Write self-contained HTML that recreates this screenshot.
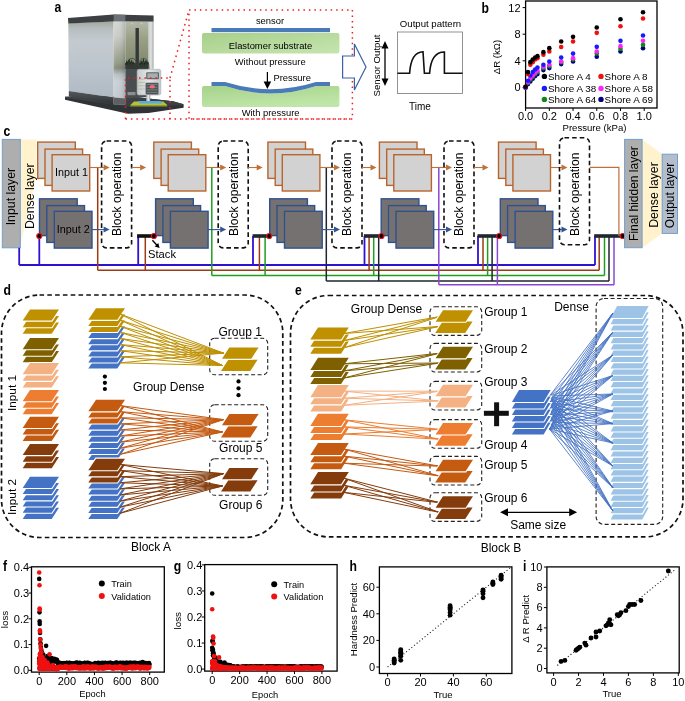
<!DOCTYPE html>
<html><head><meta charset="utf-8"><style>
html,body{margin:0;padding:0;background:#fff;}
svg{display:block;will-change:transform;}
text{font-family:"Liberation Sans",sans-serif;}
</style></head><body>
<svg width="685" height="701" viewBox="0 0 685 701" font-family="Liberation Sans, sans-serif">
<rect width="685" height="701" fill="#fff"/>
<text transform="translate(54.6 11.9) scale(0.86 1)" x="0" y="0" font-size="14.2" font-weight="bold" fill="#000">a</text>
<defs>
<linearGradient id="lf" x1="0" y1="0" x2="0" y2="1"><stop offset="0" stop-color="#a2a79c"/><stop offset="0.1" stop-color="#b8bec0"/><stop offset="0.25" stop-color="#c4cbd0"/><stop offset="0.6" stop-color="#bcc5cd"/><stop offset="1" stop-color="#b0bac4"/></linearGradient>
<linearGradient id="pil" x1="0" y1="0" x2="0" y2="1"><stop offset="0" stop-color="#d0d3d0"/><stop offset="0.18" stop-color="#c6c9c2"/><stop offset="0.5" stop-color="#8e957f"/><stop offset="0.56" stop-color="#7c8470"/><stop offset="0.64" stop-color="#b4bcbe"/><stop offset="0.72" stop-color="#c6ced4"/><stop offset="1" stop-color="#bcc4cc"/></linearGradient>
<linearGradient id="pilv" x1="0" y1="0" x2="1" y2="0"><stop offset="0" stop-color="#fff" stop-opacity="0.15"/><stop offset="0.4" stop-color="#fff" stop-opacity="0.05"/><stop offset="1" stop-color="#223" stop-opacity="0.18"/></linearGradient>
<linearGradient id="rf" x1="0" y1="0" x2="0" y2="1"><stop offset="0" stop-color="#b4b8a8"/><stop offset="0.4" stop-color="#9aa086"/><stop offset="1" stop-color="#80886e"/></linearGradient>
<linearGradient id="pil2" x1="0" y1="0" x2="1" y2="0"><stop offset="0" stop-color="#c8cccc"/><stop offset="0.5" stop-color="#e0e2e2"/><stop offset="1" stop-color="#a4a8a8"/></linearGradient>
<linearGradient id="gsub" x1="0" y1="0" x2="1" y2="1"><stop offset="0" stop-color="#a8cf8a"/><stop offset="1" stop-color="#c6e5b0"/></linearGradient>
<linearGradient id="gsub2" x1="0" y1="0" x2="0.4" y2="1"><stop offset="0" stop-color="#a6d28a"/><stop offset="1" stop-color="#bfe6a8"/></linearGradient>
<linearGradient id="band" x1="0" y1="0" x2="0" y2="1"><stop offset="0" stop-color="#55595b"/><stop offset="1" stop-color="#2e3234"/></linearGradient>
<linearGradient id="gauge" x1="0" y1="0" x2="1" y2="0"><stop offset="0" stop-color="#c6cccc"/><stop offset="0.5" stop-color="#e2e6e6"/><stop offset="1" stop-color="#c2c8c8"/></linearGradient>
<linearGradient id="probe" x1="0" y1="0" x2="1" y2="0"><stop offset="0" stop-color="#9aa0a2"/><stop offset="0.5" stop-color="#eef0f0"/><stop offset="1" stop-color="#8e9496"/></linearGradient>
</defs>
<polygon points="65.00,96.80 126.00,96.00 173.00,101.20 183.60,104.30 183.60,107.80 148.50,113.10 128.00,113.70 65.00,99.80" fill="#2f3336" stroke="none" stroke-width="1"/>
<polygon points="65.00,96.80 126.00,96.00 173.00,101.20 183.60,104.30 181.00,105.20 128.00,106.50 65.00,98.00" fill="#3c4044" stroke="none" stroke-width="1"/>
<polygon points="68.30,23.30 113.60,21.40 113.60,97.60 68.80,91.00" fill="url(#lf)" stroke="none" stroke-width="1"/>
<polygon points="68.80,91.00 113.60,97.60 113.60,104.20 68.80,96.60" fill="url(#band)" stroke="none" stroke-width="1"/>
<polygon points="68.00,18.00 113.60,14.60 153.60,15.40 153.60,21.80 113.60,21.40 68.30,23.50" fill="#3c4042" stroke="none" stroke-width="1"/>
<polygon points="113.60,14.60 125.40,14.80 125.40,21.60 113.60,21.40" fill="#6c7276" stroke="none" stroke-width="1"/>
<polygon points="113.60,21.40 125.40,21.60 125.40,104.50 113.60,104.20" fill="url(#pil)" stroke="none" stroke-width="1"/>
<polygon points="113.60,21.40 125.40,21.60 125.40,104.50 113.60,104.20" fill="url(#pilv)" stroke="none" stroke-width="1"/>
<polygon points="113.60,97.60 125.40,98.50 125.40,104.50 113.60,104.20" fill="#5d6163" stroke="none" stroke-width="1"/>
<rect x="125.40" y="21.80" width="23.20" height="42.00" rx="0" fill="url(#rf)" stroke="none" stroke-width="1"/>
<rect x="148.50" y="21.80" width="5.10" height="47.00" rx="0" fill="url(#pil2)" stroke="none" stroke-width="1"/>
<line x1="137.7" y1="22" x2="137.7" y2="60" stroke="#a2a68e" stroke-width="0.4"/>
<circle cx="132.00" cy="23.60" r="0.6" fill="#e0e0e0" stroke="none" stroke-width="1"/>
<circle cx="141.60" cy="23.60" r="0.6" fill="#e0e0e0" stroke="none" stroke-width="1"/>
<rect x="135.50" y="28.00" width="3.40" height="40.00" rx="0" fill="#35383a" stroke="none" stroke-width="1"/>
<polygon points="125.40,63.00 148.50,63.00 148.50,97.00 125.40,98.50" fill="#4a4d4f" stroke="none" stroke-width="1"/>
<rect x="125.40" y="63.00" width="23.10" height="6.00" rx="0" fill="#333a33" stroke="none" stroke-width="1"/>
<path d="M127,69 C126,56 136.5,55 137.5,66 M139,66 C139,55 149.5,56 149,69" fill="none" stroke="#3a3e40" stroke-width="0.7"/>
<path d="M125.6,65 l1.2,-3.5 l1,2.5 l1.3,-4 l1,4 l1.5,-3 l1,3 l1.2,-2 M140,65 l1.2,-3.5 l1,2.5 l1.3,-4 l1,4 l1.5,-3 l1,3 l1.2,-2" fill="none" stroke="#1f2e22" stroke-width="1.1"/>
<rect x="127.50" y="92.00" width="8.00" height="3.20" rx="0" fill="#8a8e90" stroke="none" stroke-width="1"/>
<rect x="137.10" y="69.30" width="23.70" height="25.70" rx="1.8" fill="url(#gauge)" stroke="#a6acac" stroke-width="0.6"/>
<rect x="146.20" y="72.20" width="12.80" height="7.00" rx="1" fill="#5f6668" stroke="none" stroke-width="1"/>
<rect x="147.40" y="73.30" width="10.40" height="4.80" rx="0" fill="#a5aeb0" stroke="none" stroke-width="1"/>
<rect x="145.60" y="82.70" width="12.90" height="11.70" rx="1" fill="#4e5456" stroke="none" stroke-width="1"/>
<line x1="146.5" y1="84.5" x2="157.6" y2="84.5" stroke="#8a9092" stroke-width="0.7"/>
<line x1="146.5" y1="87.2" x2="157.6" y2="87.2" stroke="#8a9092" stroke-width="0.7"/>
<line x1="146.5" y1="89.9" x2="157.6" y2="89.9" stroke="#8a9092" stroke-width="0.7"/>
<line x1="146.5" y1="92.4" x2="157.6" y2="92.4" stroke="#8a9092" stroke-width="0.7"/>
<ellipse cx="152.3" cy="86.8" rx="2.8" ry="1.7" fill="#f06a78"/>
<line x1="137.6" y1="79.2" x2="145" y2="79.2" stroke="#b8bca0" stroke-width="0.8"/>
<line x1="137.6" y1="82.5" x2="145" y2="82.5" stroke="#b8bca0" stroke-width="0.8"/>
<line x1="137.6" y1="85.8" x2="145" y2="85.8" stroke="#b8bca0" stroke-width="0.8"/>
<line x1="137.6" y1="89" x2="145" y2="89" stroke="#b8bca0" stroke-width="0.8"/>
<rect x="146.20" y="95.00" width="4.10" height="6.40" rx="0" fill="url(#probe)" stroke="none" stroke-width="1"/>
<polygon points="134.00,101.40 163.20,101.40 167.20,104.90 130.40,104.90" fill="#b7c13e" stroke="none" stroke-width="1"/>
<polygon points="130.40,104.90 167.20,104.90 167.20,106.60 130.40,106.60" fill="#8f9a2e" stroke="none" stroke-width="1"/>
<polygon points="137.50,101.00 160.00,101.00 163.00,103.60 140.00,103.60" fill="#58ace4" stroke="none" stroke-width="1"/>
<polyline points="125.5,119 125.5,78 170,78 170,119" stroke="#ee1c24" stroke-width="1.5" stroke-dasharray="1.5 3.95" fill="none"/>
<line x1="125.5" y1="119" x2="352" y2="119" stroke="#ee1c24" stroke-width="1.5" stroke-dasharray="1.5 3.95" fill="none"/>
<line x1="170" y1="78" x2="189" y2="10" stroke="#ee1c24" stroke-width="1.5" stroke-dasharray="1.5 3.95" fill="none"/>
<rect x="189" y="10" width="163.4" height="109" stroke="#ee1c24" stroke-width="1.5" stroke-dasharray="1.5 3.95" fill="none"/>
<text x="270" y="24.4" font-size="9.4" text-anchor="middle" fill="#000">sensor</text>
<rect x="211.50" y="28.00" width="118.50" height="4.20" rx="0" fill="#4a7ab8" stroke="none" stroke-width="1"/>
<rect x="202.00" y="33.00" width="137.40" height="20.60" rx="2" fill="url(#gsub)" stroke="none" stroke-width="1"/>
<text x="270.5" y="49" font-size="9.4" text-anchor="middle" fill="#000">Elastomer substrate</text>
<text x="270.2" y="64.6" font-size="9.4" text-anchor="middle" fill="#000">Without pressure</text>
<path d="M204,86 L225,86 Q270.5,101.2 316,86 L337.4,86 Q339.4,86 339.4,88 L339.4,105 Q339.4,107 337.4,107 L204,107 Q202,107 202,105 L202,88 Q202,86 204,86 Z" fill="url(#gsub2)"/>
<path d="M211.5,82 L225,82 Q270.5,96.4 316,82 L330,82 L330,86 L316,86 Q270.5,101.2 225,86 L211.5,86 Z" fill="#4a7ab8"/>
<line x1="267.4" y1="72" x2="267.4" y2="83" stroke="#000" stroke-width="1.2"/>
<polygon points="263.60,81.40 271.20,81.40 267.40,89.10" fill="#000" stroke="none" stroke-width="1"/>
<text x="273.4" y="81" font-size="9.4" text-anchor="start" fill="#000">Pressure</text>
<text x="270.6" y="116.4" font-size="9.4" text-anchor="middle" fill="#000">With pressure</text>
<polygon points="342.60,56.00 354.40,56.00 354.40,44.00 366.00,67.00 354.40,90.00 354.40,78.00 342.60,78.00" fill="#fff" stroke="#3a62a8" stroke-width="1.2"/>
<text x="379.6" y="65.5" font-size="9.6" text-anchor="middle" fill="#000" transform="rotate(-90 379.6 65.5)">Sensor Output</text>
<line x1="385" y1="46" x2="385" y2="81" stroke="#000" stroke-width="1.3"/>
<polygon points="381.50,48.50 388.50,48.50 385.00,41.00" fill="#000" stroke="none" stroke-width="1"/>
<polygon points="381.50,78.50 388.50,78.50 385.00,86.00" fill="#000" stroke="none" stroke-width="1"/>
<rect x="397.40" y="32.00" width="65.20" height="61.40" rx="0" fill="#fff" stroke="#777" stroke-width="0.8"/>
<text x="430.5" y="26.6" font-size="9.6" text-anchor="middle" fill="#000">Output pattern</text>
<text x="420" y="109.6" font-size="10" text-anchor="middle" fill="#000">Time</text>
<path d="M397.4,73.2 L409.6,73.2 C410.5,60 415,52 423,51.8 L424.4,73.2 L429.6,73.2 C430.5,60 435,52 444.4,52 L444.4,73.2 L462.6,73.2" fill="none" stroke="#111" stroke-width="1.6"/>
<text transform="translate(481.6 12.9) scale(0.86 1)" x="0" y="0" font-size="14.2" font-weight="bold" fill="#000">b</text>
<rect x="525.60" y="1.00" width="131.40" height="107.00" rx="0" fill="none" stroke="#000" stroke-width="1.3"/>
<line x1="522.6" y1="87.4" x2="525.6" y2="87.4" stroke="#000" stroke-width="1"/>
<text x="520.6" y="91.4" font-size="11" text-anchor="end" fill="#000">0</text>
<line x1="522.6" y1="60.800000000000004" x2="525.6" y2="60.800000000000004" stroke="#000" stroke-width="1"/>
<text x="520.6" y="64.80000000000001" font-size="11" text-anchor="end" fill="#000">4</text>
<line x1="522.6" y1="34.2" x2="525.6" y2="34.2" stroke="#000" stroke-width="1"/>
<text x="520.6" y="38.2" font-size="11" text-anchor="end" fill="#000">8</text>
<line x1="522.6" y1="7.599999999999994" x2="525.6" y2="7.599999999999994" stroke="#000" stroke-width="1"/>
<text x="520.6" y="11.599999999999994" font-size="11" text-anchor="end" fill="#000">12</text>
<line x1="525.6" y1="108" x2="525.6" y2="111" stroke="#000" stroke-width="1"/>
<text x="525.6" y="120" font-size="11" text-anchor="middle" fill="#000">0.0</text>
<line x1="549.32" y1="108" x2="549.32" y2="111" stroke="#000" stroke-width="1"/>
<text x="549.32" y="120" font-size="11" text-anchor="middle" fill="#000">0.2</text>
<line x1="573.04" y1="108" x2="573.04" y2="111" stroke="#000" stroke-width="1"/>
<text x="573.04" y="120" font-size="11" text-anchor="middle" fill="#000">0.4</text>
<line x1="596.76" y1="108" x2="596.76" y2="111" stroke="#000" stroke-width="1"/>
<text x="596.76" y="120" font-size="11" text-anchor="middle" fill="#000">0.6</text>
<line x1="620.48" y1="108" x2="620.48" y2="111" stroke="#000" stroke-width="1"/>
<text x="620.48" y="120" font-size="11" text-anchor="middle" fill="#000">0.8</text>
<line x1="644.2" y1="108" x2="644.2" y2="111" stroke="#000" stroke-width="1"/>
<text x="644.2" y="120" font-size="11" text-anchor="middle" fill="#000">1.0</text>
<text x="594.5" y="131" font-size="9.6" text-anchor="middle" fill="#000">Pressure (kPa)</text>
<text x="500" y="57" font-size="9.6" text-anchor="middle" fill="#000" transform="rotate(-90 500 57)">&#916;R (k&#937;)</text>
<circle cx="525.60" cy="87.40" r="2.3" fill="#000080" stroke="none" stroke-width="1"/>
<circle cx="527.97" cy="84.08" r="2.3" fill="#000080" stroke="none" stroke-width="1"/>
<circle cx="530.34" cy="81.42" r="2.3" fill="#000080" stroke="none" stroke-width="1"/>
<circle cx="532.72" cy="78.76" r="2.3" fill="#000080" stroke="none" stroke-width="1"/>
<circle cx="535.09" cy="76.09" r="2.3" fill="#000080" stroke="none" stroke-width="1"/>
<circle cx="537.46" cy="74.10" r="2.3" fill="#000080" stroke="none" stroke-width="1"/>
<circle cx="543.39" cy="70.11" r="2.3" fill="#000080" stroke="none" stroke-width="1"/>
<circle cx="549.32" cy="68.12" r="2.3" fill="#000080" stroke="none" stroke-width="1"/>
<circle cx="561.18" cy="64.12" r="2.3" fill="#000080" stroke="none" stroke-width="1"/>
<circle cx="573.04" cy="61.47" r="2.3" fill="#000080" stroke="none" stroke-width="1"/>
<circle cx="596.76" cy="56.81" r="2.3" fill="#000080" stroke="none" stroke-width="1"/>
<circle cx="620.48" cy="51.49" r="2.3" fill="#000080" stroke="none" stroke-width="1"/>
<circle cx="643.01" cy="48.16" r="2.3" fill="#000080" stroke="none" stroke-width="1"/>
<circle cx="525.60" cy="87.40" r="2.3" fill="#118811" stroke="none" stroke-width="1"/>
<circle cx="527.97" cy="82.75" r="2.3" fill="#118811" stroke="none" stroke-width="1"/>
<circle cx="530.34" cy="79.42" r="2.3" fill="#118811" stroke="none" stroke-width="1"/>
<circle cx="532.72" cy="76.76" r="2.3" fill="#118811" stroke="none" stroke-width="1"/>
<circle cx="535.09" cy="74.10" r="2.3" fill="#118811" stroke="none" stroke-width="1"/>
<circle cx="537.46" cy="72.11" r="2.3" fill="#118811" stroke="none" stroke-width="1"/>
<circle cx="543.39" cy="68.12" r="2.3" fill="#118811" stroke="none" stroke-width="1"/>
<circle cx="549.32" cy="66.12" r="2.3" fill="#118811" stroke="none" stroke-width="1"/>
<circle cx="561.18" cy="62.13" r="2.3" fill="#118811" stroke="none" stroke-width="1"/>
<circle cx="573.04" cy="59.47" r="2.3" fill="#118811" stroke="none" stroke-width="1"/>
<circle cx="596.76" cy="53.49" r="2.3" fill="#118811" stroke="none" stroke-width="1"/>
<circle cx="620.48" cy="48.83" r="2.3" fill="#118811" stroke="none" stroke-width="1"/>
<circle cx="643.01" cy="44.84" r="2.3" fill="#118811" stroke="none" stroke-width="1"/>
<circle cx="525.60" cy="87.40" r="2.3" fill="#ff22ff" stroke="none" stroke-width="1"/>
<circle cx="527.97" cy="82.08" r="2.3" fill="#ff22ff" stroke="none" stroke-width="1"/>
<circle cx="530.34" cy="78.09" r="2.3" fill="#ff22ff" stroke="none" stroke-width="1"/>
<circle cx="532.72" cy="75.43" r="2.3" fill="#ff22ff" stroke="none" stroke-width="1"/>
<circle cx="535.09" cy="72.77" r="2.3" fill="#ff22ff" stroke="none" stroke-width="1"/>
<circle cx="537.46" cy="70.78" r="2.3" fill="#ff22ff" stroke="none" stroke-width="1"/>
<circle cx="543.39" cy="66.78" r="2.3" fill="#ff22ff" stroke="none" stroke-width="1"/>
<circle cx="549.32" cy="64.79" r="2.3" fill="#ff22ff" stroke="none" stroke-width="1"/>
<circle cx="561.18" cy="61.47" r="2.3" fill="#ff22ff" stroke="none" stroke-width="1"/>
<circle cx="573.04" cy="58.14" r="2.3" fill="#ff22ff" stroke="none" stroke-width="1"/>
<circle cx="596.76" cy="51.49" r="2.3" fill="#ff22ff" stroke="none" stroke-width="1"/>
<circle cx="620.48" cy="46.17" r="2.3" fill="#ff22ff" stroke="none" stroke-width="1"/>
<circle cx="643.01" cy="40.85" r="2.3" fill="#ff22ff" stroke="none" stroke-width="1"/>
<circle cx="525.60" cy="87.40" r="2.3" fill="#1a1aff" stroke="none" stroke-width="1"/>
<circle cx="527.97" cy="80.75" r="2.3" fill="#1a1aff" stroke="none" stroke-width="1"/>
<circle cx="530.34" cy="75.43" r="2.3" fill="#1a1aff" stroke="none" stroke-width="1"/>
<circle cx="532.72" cy="72.11" r="2.3" fill="#1a1aff" stroke="none" stroke-width="1"/>
<circle cx="535.09" cy="69.45" r="2.3" fill="#1a1aff" stroke="none" stroke-width="1"/>
<circle cx="537.46" cy="67.45" r="2.3" fill="#1a1aff" stroke="none" stroke-width="1"/>
<circle cx="543.39" cy="64.79" r="2.3" fill="#1a1aff" stroke="none" stroke-width="1"/>
<circle cx="549.32" cy="61.47" r="2.3" fill="#1a1aff" stroke="none" stroke-width="1"/>
<circle cx="561.18" cy="57.48" r="2.3" fill="#1a1aff" stroke="none" stroke-width="1"/>
<circle cx="573.04" cy="53.62" r="2.3" fill="#1a1aff" stroke="none" stroke-width="1"/>
<circle cx="596.76" cy="46.84" r="2.3" fill="#1a1aff" stroke="none" stroke-width="1"/>
<circle cx="620.48" cy="40.85" r="2.3" fill="#1a1aff" stroke="none" stroke-width="1"/>
<circle cx="643.01" cy="35.53" r="2.3" fill="#1a1aff" stroke="none" stroke-width="1"/>
<circle cx="525.60" cy="86.73" r="2.3" fill="#ee1111" stroke="none" stroke-width="1"/>
<circle cx="527.97" cy="74.10" r="2.3" fill="#ee1111" stroke="none" stroke-width="1"/>
<circle cx="530.34" cy="64.79" r="2.3" fill="#ee1111" stroke="none" stroke-width="1"/>
<circle cx="532.72" cy="62.13" r="2.3" fill="#ee1111" stroke="none" stroke-width="1"/>
<circle cx="535.09" cy="59.47" r="2.3" fill="#ee1111" stroke="none" stroke-width="1"/>
<circle cx="537.46" cy="58.14" r="2.3" fill="#ee1111" stroke="none" stroke-width="1"/>
<circle cx="543.39" cy="54.82" r="2.3" fill="#ee1111" stroke="none" stroke-width="1"/>
<circle cx="549.32" cy="51.49" r="2.3" fill="#ee1111" stroke="none" stroke-width="1"/>
<circle cx="561.18" cy="47.03" r="2.3" fill="#ee1111" stroke="none" stroke-width="1"/>
<circle cx="573.04" cy="41.52" r="2.3" fill="#ee1111" stroke="none" stroke-width="1"/>
<circle cx="596.76" cy="32.87" r="2.3" fill="#ee1111" stroke="none" stroke-width="1"/>
<circle cx="620.48" cy="26.22" r="2.3" fill="#ee1111" stroke="none" stroke-width="1"/>
<circle cx="643.01" cy="18.57" r="2.3" fill="#ee1111" stroke="none" stroke-width="1"/>
<circle cx="525.60" cy="86.73" r="2.3" fill="#000" stroke="none" stroke-width="1"/>
<circle cx="527.97" cy="72.11" r="2.3" fill="#000" stroke="none" stroke-width="1"/>
<circle cx="530.34" cy="62.13" r="2.3" fill="#000" stroke="none" stroke-width="1"/>
<circle cx="532.72" cy="59.47" r="2.3" fill="#000" stroke="none" stroke-width="1"/>
<circle cx="535.09" cy="57.48" r="2.3" fill="#000" stroke="none" stroke-width="1"/>
<circle cx="537.46" cy="56.15" r="2.3" fill="#000" stroke="none" stroke-width="1"/>
<circle cx="543.39" cy="52.16" r="2.3" fill="#000" stroke="none" stroke-width="1"/>
<circle cx="549.32" cy="48.16" r="2.3" fill="#000" stroke="none" stroke-width="1"/>
<circle cx="561.18" cy="41.52" r="2.3" fill="#000" stroke="none" stroke-width="1"/>
<circle cx="573.04" cy="36.86" r="2.3" fill="#000" stroke="none" stroke-width="1"/>
<circle cx="596.76" cy="27.55" r="2.3" fill="#000" stroke="none" stroke-width="1"/>
<circle cx="620.48" cy="19.24" r="2.3" fill="#000" stroke="none" stroke-width="1"/>
<circle cx="643.01" cy="12.25" r="2.3" fill="#000" stroke="none" stroke-width="1"/>
<circle cx="544.40" cy="76.40" r="2.7" fill="#000" stroke="none" stroke-width="1"/>
<text x="548.0" y="80.0" font-size="9.9" text-anchor="start" fill="#000">Shore A 4</text>
<circle cx="601.00" cy="76.40" r="2.7" fill="#ee1111" stroke="none" stroke-width="1"/>
<text x="604.6" y="80.0" font-size="9.9" text-anchor="start" fill="#000">Shore A 8</text>
<circle cx="544.40" cy="88.40" r="2.7" fill="#1a1aff" stroke="none" stroke-width="1"/>
<text x="548.0" y="92.0" font-size="9.9" text-anchor="start" fill="#000">Shore A 38</text>
<circle cx="601.00" cy="88.40" r="2.7" fill="#ff22ff" stroke="none" stroke-width="1"/>
<text x="604.6" y="92.0" font-size="9.9" text-anchor="start" fill="#000">Shore A 58</text>
<circle cx="544.40" cy="99.40" r="2.7" fill="#118811" stroke="none" stroke-width="1"/>
<text x="548.0" y="103.0" font-size="9.9" text-anchor="start" fill="#000">Shore A 64</text>
<circle cx="601.00" cy="99.40" r="2.7" fill="#000080" stroke="none" stroke-width="1"/>
<text x="604.6" y="103.0" font-size="9.9" text-anchor="start" fill="#000">Shore A 69</text>
<text transform="translate(3.6 135.5) scale(0.86 1)" x="0" y="0" font-size="14.2" font-weight="bold" fill="#000">c</text>
<polygon points="20.50,139.60 36.40,139.60 36.40,176.00 20.50,244.00" fill="#fff2cc" stroke="none" stroke-width="1"/>
<rect x="2.30" y="139.40" width="18.00" height="108.40" rx="0" fill="#aeaeae" stroke="#6fa0d0" stroke-width="1"/>
<text x="14.8" y="196.6" font-size="12.3" text-anchor="middle" fill="#000" transform="rotate(-90 14.8 196.6)">Input layer</text>
<text x="33.6" y="196.2" font-size="12.3" text-anchor="middle" fill="#000" transform="rotate(-90 33.6 196.2)">Dense layer</text>
<line x1="19.2" y1="265" x2="595" y2="265" stroke="#3210d2" stroke-width="1.8"/>
<line x1="97.7" y1="270.2" x2="599.2" y2="270.2" stroke="#9c3a12" stroke-width="1.5"/>
<line x1="211.8" y1="275.5" x2="604.5" y2="275.5" stroke="#1ea01e" stroke-width="1.5"/>
<line x1="326.3" y1="281" x2="609" y2="281" stroke="#1e2530" stroke-width="1.5"/>
<line x1="438.8" y1="284.7" x2="614" y2="284.7" stroke="#8a48d2" stroke-width="1.5"/>
<line x1="97.7" y1="167.5" x2="97.7" y2="270.2" stroke="#9c3a12" stroke-width="1.5"/>
<line x1="211.8" y1="167.5" x2="211.8" y2="275.5" stroke="#1ea01e" stroke-width="1.5"/>
<line x1="326.3" y1="167.5" x2="326.3" y2="281" stroke="#1e2530" stroke-width="1.5"/>
<line x1="438.8" y1="167.5" x2="438.8" y2="284.7" stroke="#8a48d2" stroke-width="1.5"/>
<line x1="19.2" y1="247.8" x2="19.2" y2="265" stroke="#3210d2" stroke-width="1.8"/>
<line x1="39.3" y1="236" x2="39.3" y2="265" stroke="#3210d2" stroke-width="1.8"/>
<line x1="138.2" y1="236" x2="138.2" y2="265" stroke="#3210d2" stroke-width="1.8"/>
<line x1="145.3" y1="236" x2="145.3" y2="270.2" stroke="#9c3a12" stroke-width="1.5"/>
<line x1="253" y1="236" x2="253" y2="265" stroke="#3210d2" stroke-width="1.8"/>
<line x1="259.4" y1="236" x2="259.4" y2="270.2" stroke="#9c3a12" stroke-width="1.5"/>
<line x1="265.1" y1="236" x2="265.1" y2="275.5" stroke="#1ea01e" stroke-width="1.5"/>
<line x1="364.5" y1="236" x2="364.5" y2="265" stroke="#3210d2" stroke-width="1.8"/>
<line x1="369.1" y1="236" x2="369.1" y2="270.2" stroke="#9c3a12" stroke-width="1.5"/>
<line x1="373.7" y1="236" x2="373.7" y2="275.5" stroke="#1ea01e" stroke-width="1.5"/>
<line x1="378.7" y1="236" x2="378.7" y2="281" stroke="#1e2530" stroke-width="1.5"/>
<line x1="478" y1="236" x2="478" y2="265" stroke="#3210d2" stroke-width="1.8"/>
<line x1="483" y1="236" x2="483" y2="270.2" stroke="#9c3a12" stroke-width="1.5"/>
<line x1="487.6" y1="236" x2="487.6" y2="275.5" stroke="#1ea01e" stroke-width="1.5"/>
<line x1="492.1" y1="236" x2="492.1" y2="281" stroke="#1e2530" stroke-width="1.5"/>
<line x1="497.4" y1="236" x2="497.4" y2="284.7" stroke="#8a48d2" stroke-width="1.5"/>
<line x1="595" y1="236" x2="595" y2="265" stroke="#3210d2" stroke-width="1.8"/>
<line x1="599.2" y1="236" x2="599.2" y2="270.2" stroke="#9c3a12" stroke-width="1.5"/>
<line x1="604.5" y1="236" x2="604.5" y2="275.5" stroke="#1ea01e" stroke-width="1.5"/>
<line x1="609" y1="236" x2="609" y2="281" stroke="#1e2530" stroke-width="1.5"/>
<line x1="614" y1="236" x2="614" y2="284.7" stroke="#8a48d2" stroke-width="1.5"/>
<rect x="37.70" y="142.10" width="37.60" height="36.30" rx="0" fill="#d2d2d2" stroke="#b9642c" stroke-width="1.4"/>
<rect x="45.00" y="149.10" width="37.60" height="36.30" rx="0" fill="#d2d2d2" stroke="#b9642c" stroke-width="1.4"/>
<rect x="52.10" y="154.70" width="37.60" height="36.30" rx="0" fill="#d2d2d2" stroke="#b9642c" stroke-width="1.4"/>
<rect x="39.50" y="198.80" width="37.70" height="36.80" rx="0" fill="#767171" stroke="#2f528f" stroke-width="1.4"/>
<rect x="46.80" y="205.60" width="37.70" height="36.80" rx="0" fill="#767171" stroke="#2f528f" stroke-width="1.4"/>
<rect x="54.30" y="211.30" width="37.70" height="36.80" rx="0" fill="#767171" stroke="#2f528f" stroke-width="1.4"/>
<line x1="89.7" y1="167.5" x2="104.1" y2="167.5" stroke="#c0703a" stroke-width="1.1"/>
<polygon points="103.60,164.50 109.60,167.50 103.60,170.50" fill="#c0703a" stroke="none" stroke-width="1"/>
<line x1="92.0" y1="229.6" x2="104.1" y2="229.6" stroke="#2f5597" stroke-width="1.1"/>
<polygon points="103.60,226.60 109.60,229.60 103.60,232.60" fill="#2f5597" stroke="none" stroke-width="1"/>
<rect x="101.60" y="141.00" width="30.00" height="106.90" rx="5" fill="none" stroke="#111" stroke-width="1.6" stroke-dasharray="4.6 3"/>
<text x="121.0" y="194.3" font-size="12.1" text-anchor="middle" fill="#000" transform="rotate(-90 121.0 194.3)">Block operation</text>
<line x1="131.6" y1="167.5" x2="140.6" y2="167.5" stroke="#c0703a" stroke-width="1.1"/>
<polygon points="140.10,164.50 146.10,167.50 140.10,170.50" fill="#c0703a" stroke="none" stroke-width="1"/>
<rect x="153.80" y="142.10" width="37.60" height="36.30" rx="0" fill="#d2d2d2" stroke="#b9642c" stroke-width="1.4"/>
<rect x="161.10" y="149.10" width="37.60" height="36.30" rx="0" fill="#d2d2d2" stroke="#b9642c" stroke-width="1.4"/>
<rect x="168.20" y="154.70" width="37.60" height="36.30" rx="0" fill="#d2d2d2" stroke="#b9642c" stroke-width="1.4"/>
<rect x="155.60" y="198.80" width="37.70" height="36.80" rx="0" fill="#767171" stroke="#2f528f" stroke-width="1.4"/>
<rect x="162.90" y="205.60" width="37.70" height="36.80" rx="0" fill="#767171" stroke="#2f528f" stroke-width="1.4"/>
<rect x="170.40" y="211.30" width="37.70" height="36.80" rx="0" fill="#767171" stroke="#2f528f" stroke-width="1.4"/>
<line x1="205.8" y1="167.5" x2="220.7" y2="167.5" stroke="#c0703a" stroke-width="1.1"/>
<polygon points="220.20,164.50 226.20,167.50 220.20,170.50" fill="#c0703a" stroke="none" stroke-width="1"/>
<line x1="208.10000000000002" y1="229.6" x2="220.7" y2="229.6" stroke="#2f5597" stroke-width="1.1"/>
<polygon points="220.20,226.60 226.20,229.60 220.20,232.60" fill="#2f5597" stroke="none" stroke-width="1"/>
<rect x="218.20" y="141.00" width="30.00" height="106.90" rx="5" fill="none" stroke="#111" stroke-width="1.6" stroke-dasharray="4.6 3"/>
<text x="237.6" y="194.3" font-size="12.1" text-anchor="middle" fill="#000" transform="rotate(-90 237.6 194.3)">Block operation</text>
<line x1="248.2" y1="167.5" x2="257.2" y2="167.5" stroke="#c0703a" stroke-width="1.1"/>
<polygon points="256.70,164.50 262.70,167.50 256.70,170.50" fill="#c0703a" stroke="none" stroke-width="1"/>
<rect x="267.90" y="142.10" width="37.60" height="36.30" rx="0" fill="#d2d2d2" stroke="#b9642c" stroke-width="1.4"/>
<rect x="275.20" y="149.10" width="37.60" height="36.30" rx="0" fill="#d2d2d2" stroke="#b9642c" stroke-width="1.4"/>
<rect x="282.30" y="154.70" width="37.60" height="36.30" rx="0" fill="#d2d2d2" stroke="#b9642c" stroke-width="1.4"/>
<rect x="269.70" y="198.80" width="37.70" height="36.80" rx="0" fill="#767171" stroke="#2f528f" stroke-width="1.4"/>
<rect x="277.00" y="205.60" width="37.70" height="36.80" rx="0" fill="#767171" stroke="#2f528f" stroke-width="1.4"/>
<rect x="284.50" y="211.30" width="37.70" height="36.80" rx="0" fill="#767171" stroke="#2f528f" stroke-width="1.4"/>
<line x1="319.9" y1="167.5" x2="334.5" y2="167.5" stroke="#c0703a" stroke-width="1.1"/>
<polygon points="334.00,164.50 340.00,167.50 334.00,170.50" fill="#c0703a" stroke="none" stroke-width="1"/>
<line x1="322.2" y1="229.6" x2="334.5" y2="229.6" stroke="#2f5597" stroke-width="1.1"/>
<polygon points="334.00,226.60 340.00,229.60 334.00,232.60" fill="#2f5597" stroke="none" stroke-width="1"/>
<rect x="332.00" y="141.00" width="30.00" height="106.90" rx="5" fill="none" stroke="#111" stroke-width="1.6" stroke-dasharray="4.6 3"/>
<text x="351.4" y="194.3" font-size="12.1" text-anchor="middle" fill="#000" transform="rotate(-90 351.4 194.3)">Block operation</text>
<line x1="362" y1="167.5" x2="371.0" y2="167.5" stroke="#c0703a" stroke-width="1.1"/>
<polygon points="370.50,164.50 376.50,167.50 370.50,170.50" fill="#c0703a" stroke="none" stroke-width="1"/>
<rect x="379.40" y="142.10" width="37.60" height="36.30" rx="0" fill="#d2d2d2" stroke="#b9642c" stroke-width="1.4"/>
<rect x="386.70" y="149.10" width="37.60" height="36.30" rx="0" fill="#d2d2d2" stroke="#b9642c" stroke-width="1.4"/>
<rect x="393.80" y="154.70" width="37.60" height="36.30" rx="0" fill="#d2d2d2" stroke="#b9642c" stroke-width="1.4"/>
<rect x="381.20" y="198.80" width="37.70" height="36.80" rx="0" fill="#767171" stroke="#2f528f" stroke-width="1.4"/>
<rect x="388.50" y="205.60" width="37.70" height="36.80" rx="0" fill="#767171" stroke="#2f528f" stroke-width="1.4"/>
<rect x="396.00" y="211.30" width="37.70" height="36.80" rx="0" fill="#767171" stroke="#2f528f" stroke-width="1.4"/>
<line x1="431.4" y1="167.5" x2="446.5" y2="167.5" stroke="#c0703a" stroke-width="1.1"/>
<polygon points="446.00,164.50 452.00,167.50 446.00,170.50" fill="#c0703a" stroke="none" stroke-width="1"/>
<line x1="433.7" y1="229.6" x2="446.5" y2="229.6" stroke="#2f5597" stroke-width="1.1"/>
<polygon points="446.00,226.60 452.00,229.60 446.00,232.60" fill="#2f5597" stroke="none" stroke-width="1"/>
<rect x="444.00" y="141.00" width="30.00" height="106.90" rx="5" fill="none" stroke="#111" stroke-width="1.6" stroke-dasharray="4.6 3"/>
<text x="463.4" y="194.3" font-size="12.1" text-anchor="middle" fill="#000" transform="rotate(-90 463.4 194.3)">Block operation</text>
<line x1="474" y1="167.5" x2="483.0" y2="167.5" stroke="#c0703a" stroke-width="1.1"/>
<polygon points="482.50,164.50 488.50,167.50 482.50,170.50" fill="#c0703a" stroke="none" stroke-width="1"/>
<rect x="498.50" y="142.10" width="37.60" height="36.30" rx="0" fill="#d2d2d2" stroke="#b9642c" stroke-width="1.4"/>
<rect x="505.80" y="149.10" width="37.60" height="36.30" rx="0" fill="#d2d2d2" stroke="#b9642c" stroke-width="1.4"/>
<rect x="512.90" y="154.70" width="37.60" height="36.30" rx="0" fill="#d2d2d2" stroke="#b9642c" stroke-width="1.4"/>
<rect x="500.30" y="198.80" width="37.70" height="36.80" rx="0" fill="#767171" stroke="#2f528f" stroke-width="1.4"/>
<rect x="507.60" y="205.60" width="37.70" height="36.80" rx="0" fill="#767171" stroke="#2f528f" stroke-width="1.4"/>
<rect x="515.10" y="211.30" width="37.70" height="36.80" rx="0" fill="#767171" stroke="#2f528f" stroke-width="1.4"/>
<line x1="550.5" y1="167.5" x2="562.0" y2="167.5" stroke="#c0703a" stroke-width="1.1"/>
<polygon points="561.50,164.50 567.50,167.50 561.50,170.50" fill="#c0703a" stroke="none" stroke-width="1"/>
<line x1="552.8" y1="229.6" x2="562.0" y2="229.6" stroke="#2f5597" stroke-width="1.1"/>
<polygon points="561.50,226.60 567.50,229.60 561.50,232.60" fill="#2f5597" stroke="none" stroke-width="1"/>
<rect x="559.50" y="137.80" width="30.00" height="106.90" rx="5" fill="none" stroke="#111" stroke-width="1.6" stroke-dasharray="4.6 3"/>
<text x="578.9" y="194.3" font-size="12.1" text-anchor="middle" fill="#000" transform="rotate(-90 578.9 194.3)">Block operation</text>
<text x="71.5" y="176.3" font-size="10.8" text-anchor="middle" fill="#000">Input 1</text>
<text x="73.2" y="233.3" font-size="10.8" text-anchor="middle" fill="#000">Input 2</text>
<line x1="137.1" y1="236" x2="153.9" y2="236" stroke="#111" stroke-width="3.6"/>
<circle cx="153.90" cy="236.00" r="2.5" fill="#000" stroke="#e8121c" stroke-width="1.2"/>
<line x1="252.6" y1="236" x2="269.2" y2="236" stroke="#1e2632" stroke-width="3.6"/>
<circle cx="269.20" cy="236.00" r="2.5" fill="#000" stroke="#e8121c" stroke-width="1.2"/>
<line x1="363.9" y1="236" x2="381.5" y2="236" stroke="#1e2632" stroke-width="3.6"/>
<circle cx="381.50" cy="236.00" r="2.5" fill="#000" stroke="#e8121c" stroke-width="1.2"/>
<line x1="477.5" y1="236" x2="499.2" y2="236" stroke="#1e2632" stroke-width="3.6"/>
<circle cx="499.20" cy="236.00" r="2.5" fill="#000" stroke="#e8121c" stroke-width="1.2"/>
<line x1="594.2" y1="236" x2="622.7" y2="236" stroke="#1e2632" stroke-width="3.6"/>
<circle cx="622.70" cy="236.00" r="2.5" fill="#000" stroke="#e8121c" stroke-width="1.2"/>
<circle cx="39.30" cy="236.00" r="2.5" fill="#000" stroke="#e8121c" stroke-width="1.2"/>
<line x1="152.4" y1="240.2" x2="157" y2="245.2" stroke="#000" stroke-width="1.3"/>
<polygon points="154.70,246.40 159.60,248.00 158.30,243.00" fill="#000" stroke="none" stroke-width="1"/>
<text x="148" y="257.7" font-size="11.2" text-anchor="start" fill="#000">Stack</text>
<polyline points="589.70,167.40 618.90,167.40 618.90,236.00" fill="none" stroke="#c0703a" stroke-width="1.2"/>
<polygon points="642.10,139.40 662.20,154.20 662.20,233.40 642.10,247.70" fill="#fff2cc" stroke="none" stroke-width="1"/>
<rect x="624.60" y="139.40" width="17.50" height="108.30" rx="0" fill="#aeaeae" stroke="#6fa0d0" stroke-width="1"/>
<rect x="662.20" y="154.20" width="15.30" height="79.20" rx="0" fill="#b4bdcc" stroke="#6fa0d0" stroke-width="1"/>
<text x="637.5" y="193.5" font-size="12" text-anchor="middle" fill="#000" transform="rotate(-90 637.5 193.5)">Final hidden layer</text>
<text x="657.8" y="195" font-size="12.3" text-anchor="middle" fill="#000" transform="rotate(-90 657.8 195)">Dense layer</text>
<text x="674.3" y="195.5" font-size="12" text-anchor="middle" fill="#000" transform="rotate(-90 674.3 195.5)">Output layer</text>
<text transform="translate(3.6 295.3) scale(0.86 1)" x="0" y="0" font-size="14.2" font-weight="bold" fill="#000">d</text>
<rect x="1.50" y="295.00" width="281.30" height="242.50" rx="38" fill="none" stroke="#111" stroke-width="1.7" stroke-dasharray="4.6 3.2"/>
<polygon points="30.00,322.50 59.00,322.50 51.70,333.70 22.70,333.70" fill="#bf9000" stroke="#fff" stroke-width="2.2" stroke-linejoin="miter" paint-order="stroke"/>
<polygon points="30.00,315.95 59.00,315.95 51.70,327.15 22.70,327.15" fill="#bf9000" stroke="#fff" stroke-width="2.2" stroke-linejoin="miter" paint-order="stroke"/>
<polygon points="30.00,309.40 59.00,309.40 51.70,320.60 22.70,320.60" fill="#bf9000" stroke="#fff" stroke-width="2.2" stroke-linejoin="miter" paint-order="stroke"/>
<polygon points="30.00,351.10 59.00,351.10 51.70,362.30 22.70,362.30" fill="#7f6000" stroke="#fff" stroke-width="2.2" stroke-linejoin="miter" paint-order="stroke"/>
<polygon points="30.00,344.55 59.00,344.55 51.70,355.75 22.70,355.75" fill="#7f6000" stroke="#fff" stroke-width="2.2" stroke-linejoin="miter" paint-order="stroke"/>
<polygon points="30.00,338.00 59.00,338.00 51.70,349.20 22.70,349.20" fill="#7f6000" stroke="#fff" stroke-width="2.2" stroke-linejoin="miter" paint-order="stroke"/>
<polygon points="30.00,376.20 59.00,376.20 51.70,387.40 22.70,387.40" fill="#f4b183" stroke="#fff" stroke-width="2.2" stroke-linejoin="miter" paint-order="stroke"/>
<polygon points="30.00,369.65 59.00,369.65 51.70,380.85 22.70,380.85" fill="#f4b183" stroke="#fff" stroke-width="2.2" stroke-linejoin="miter" paint-order="stroke"/>
<polygon points="30.00,363.10 59.00,363.10 51.70,374.30 22.70,374.30" fill="#f4b183" stroke="#fff" stroke-width="2.2" stroke-linejoin="miter" paint-order="stroke"/>
<polygon points="30.00,403.10 59.00,403.10 51.70,414.30 22.70,414.30" fill="#ed7d31" stroke="#fff" stroke-width="2.2" stroke-linejoin="miter" paint-order="stroke"/>
<polygon points="30.00,396.55 59.00,396.55 51.70,407.75 22.70,407.75" fill="#ed7d31" stroke="#fff" stroke-width="2.2" stroke-linejoin="miter" paint-order="stroke"/>
<polygon points="30.00,390.00 59.00,390.00 51.70,401.20 22.70,401.20" fill="#ed7d31" stroke="#fff" stroke-width="2.2" stroke-linejoin="miter" paint-order="stroke"/>
<polygon points="30.00,429.80 59.00,429.80 51.70,441.00 22.70,441.00" fill="#c55a11" stroke="#fff" stroke-width="2.2" stroke-linejoin="miter" paint-order="stroke"/>
<polygon points="30.00,423.25 59.00,423.25 51.70,434.45 22.70,434.45" fill="#c55a11" stroke="#fff" stroke-width="2.2" stroke-linejoin="miter" paint-order="stroke"/>
<polygon points="30.00,416.70 59.00,416.70 51.70,427.90 22.70,427.90" fill="#c55a11" stroke="#fff" stroke-width="2.2" stroke-linejoin="miter" paint-order="stroke"/>
<polygon points="30.00,457.00 59.00,457.00 51.70,468.20 22.70,468.20" fill="#843c0c" stroke="#fff" stroke-width="2.2" stroke-linejoin="miter" paint-order="stroke"/>
<polygon points="30.00,450.45 59.00,450.45 51.70,461.65 22.70,461.65" fill="#843c0c" stroke="#fff" stroke-width="2.2" stroke-linejoin="miter" paint-order="stroke"/>
<polygon points="30.00,443.90 59.00,443.90 51.70,455.10 22.70,455.10" fill="#843c0c" stroke="#fff" stroke-width="2.2" stroke-linejoin="miter" paint-order="stroke"/>
<polygon points="30.00,507.70 59.00,507.70 51.70,518.90 22.70,518.90" fill="#4472c4" stroke="#fff" stroke-width="2.2" stroke-linejoin="miter" paint-order="stroke"/>
<polygon points="30.00,501.50 59.00,501.50 51.70,512.70 22.70,512.70" fill="#4472c4" stroke="#fff" stroke-width="2.2" stroke-linejoin="miter" paint-order="stroke"/>
<polygon points="30.00,495.30 59.00,495.30 51.70,506.50 22.70,506.50" fill="#4472c4" stroke="#fff" stroke-width="2.2" stroke-linejoin="miter" paint-order="stroke"/>
<polygon points="30.00,489.10 59.00,489.10 51.70,500.30 22.70,500.30" fill="#4472c4" stroke="#fff" stroke-width="2.2" stroke-linejoin="miter" paint-order="stroke"/>
<polygon points="30.00,482.90 59.00,482.90 51.70,494.10 22.70,494.10" fill="#4472c4" stroke="#fff" stroke-width="2.2" stroke-linejoin="miter" paint-order="stroke"/>
<polygon points="30.00,476.70 59.00,476.70 51.70,487.90 22.70,487.90" fill="#4472c4" stroke="#fff" stroke-width="2.2" stroke-linejoin="miter" paint-order="stroke"/>
<text x="16" y="393" font-size="11.8" text-anchor="middle" fill="#000" transform="rotate(-90 16 393)">Input 1</text>
<text x="16" y="497" font-size="11.8" text-anchor="middle" fill="#000" transform="rotate(-90 16 497)">Input 2</text>
<polygon points="96.00,357.10 125.00,357.10 117.30,368.60 88.30,368.60" fill="#4472c4" stroke="#fff" stroke-width="2.2" stroke-linejoin="miter" paint-order="stroke"/>
<polygon points="96.00,351.00 125.00,351.00 117.30,362.50 88.30,362.50" fill="#4472c4" stroke="#fff" stroke-width="2.2" stroke-linejoin="miter" paint-order="stroke"/>
<polygon points="96.00,344.90 125.00,344.90 117.30,356.40 88.30,356.40" fill="#4472c4" stroke="#fff" stroke-width="2.2" stroke-linejoin="miter" paint-order="stroke"/>
<polygon points="96.00,338.80 125.00,338.80 117.30,350.30 88.30,350.30" fill="#4472c4" stroke="#fff" stroke-width="2.2" stroke-linejoin="miter" paint-order="stroke"/>
<polygon points="96.00,332.70 125.00,332.70 117.30,344.20 88.30,344.20" fill="#4472c4" stroke="#fff" stroke-width="2.2" stroke-linejoin="miter" paint-order="stroke"/>
<polygon points="96.00,326.60 125.00,326.60 117.30,338.10 88.30,338.10" fill="#4472c4" stroke="#fff" stroke-width="2.2" stroke-linejoin="miter" paint-order="stroke"/>
<polygon points="96.00,320.50 125.00,320.50 117.30,332.00 88.30,332.00" fill="#bf9000" stroke="#fff" stroke-width="2.2" stroke-linejoin="miter" paint-order="stroke"/>
<polygon points="96.00,314.40 125.00,314.40 117.30,325.90 88.30,325.90" fill="#bf9000" stroke="#fff" stroke-width="2.2" stroke-linejoin="miter" paint-order="stroke"/>
<polygon points="96.00,308.30 125.00,308.30 117.30,319.80 88.30,319.80" fill="#bf9000" stroke="#fff" stroke-width="2.2" stroke-linejoin="miter" paint-order="stroke"/>
<rect x="209.70" y="338.20" width="58.00" height="36.60" rx="5" fill="none" stroke="#222" stroke-width="1.1" stroke-dasharray="4 2.5"/>
<line x1="120.14999999999999" y1="314.05" x2="223.5" y2="353.1" stroke="#bf9000" stroke-width="1.0"/>
<line x1="120.14999999999999" y1="314.05" x2="222.5" y2="365.5" stroke="#bf9000" stroke-width="1.0"/>
<line x1="120.14999999999999" y1="320.15000000000003" x2="223.5" y2="353.1" stroke="#bf9000" stroke-width="1.0"/>
<line x1="120.14999999999999" y1="320.15000000000003" x2="222.5" y2="365.5" stroke="#bf9000" stroke-width="1.0"/>
<line x1="120.14999999999999" y1="326.25" x2="223.5" y2="353.1" stroke="#bf9000" stroke-width="1.0"/>
<line x1="120.14999999999999" y1="326.25" x2="222.5" y2="365.5" stroke="#bf9000" stroke-width="1.0"/>
<line x1="120.14999999999999" y1="332.35" x2="223.5" y2="353.1" stroke="#bf9000" stroke-width="1.0"/>
<line x1="120.14999999999999" y1="332.35" x2="222.5" y2="365.5" stroke="#bf9000" stroke-width="1.0"/>
<line x1="120.14999999999999" y1="338.45" x2="223.5" y2="353.1" stroke="#bf9000" stroke-width="1.0"/>
<line x1="120.14999999999999" y1="338.45" x2="222.5" y2="365.5" stroke="#bf9000" stroke-width="1.0"/>
<line x1="120.14999999999999" y1="344.55" x2="223.5" y2="353.1" stroke="#bf9000" stroke-width="1.0"/>
<line x1="120.14999999999999" y1="344.55" x2="222.5" y2="365.5" stroke="#bf9000" stroke-width="1.0"/>
<line x1="120.14999999999999" y1="350.65" x2="223.5" y2="353.1" stroke="#bf9000" stroke-width="1.0"/>
<line x1="120.14999999999999" y1="350.65" x2="222.5" y2="365.5" stroke="#bf9000" stroke-width="1.0"/>
<line x1="120.14999999999999" y1="356.75" x2="223.5" y2="353.1" stroke="#bf9000" stroke-width="1.0"/>
<line x1="120.14999999999999" y1="356.75" x2="222.5" y2="365.5" stroke="#bf9000" stroke-width="1.0"/>
<line x1="120.14999999999999" y1="362.85" x2="223.5" y2="353.1" stroke="#bf9000" stroke-width="1.0"/>
<line x1="120.14999999999999" y1="362.85" x2="222.5" y2="365.5" stroke="#bf9000" stroke-width="1.0"/>
<polygon points="228.30,359.70 257.60,359.70 250.30,370.90 221.00,370.90" fill="#bf9000" stroke="#fff" stroke-width="2.2" stroke-linejoin="miter" paint-order="stroke"/>
<polygon points="229.30,347.50 258.60,347.50 251.30,358.70 222.00,358.70" fill="#bf9000" stroke="#fff" stroke-width="2.2" stroke-linejoin="miter" paint-order="stroke"/>
<polygon points="96.00,448.60 125.00,448.60 117.30,460.10 88.30,460.10" fill="#4472c4" stroke="#fff" stroke-width="2.2" stroke-linejoin="miter" paint-order="stroke"/>
<polygon points="96.00,442.50 125.00,442.50 117.30,454.00 88.30,454.00" fill="#4472c4" stroke="#fff" stroke-width="2.2" stroke-linejoin="miter" paint-order="stroke"/>
<polygon points="96.00,436.40 125.00,436.40 117.30,447.90 88.30,447.90" fill="#4472c4" stroke="#fff" stroke-width="2.2" stroke-linejoin="miter" paint-order="stroke"/>
<polygon points="96.00,430.30 125.00,430.30 117.30,441.80 88.30,441.80" fill="#4472c4" stroke="#fff" stroke-width="2.2" stroke-linejoin="miter" paint-order="stroke"/>
<polygon points="96.00,424.20 125.00,424.20 117.30,435.70 88.30,435.70" fill="#4472c4" stroke="#fff" stroke-width="2.2" stroke-linejoin="miter" paint-order="stroke"/>
<polygon points="96.00,418.10 125.00,418.10 117.30,429.60 88.30,429.60" fill="#4472c4" stroke="#fff" stroke-width="2.2" stroke-linejoin="miter" paint-order="stroke"/>
<polygon points="96.00,412.00 125.00,412.00 117.30,423.50 88.30,423.50" fill="#c55a11" stroke="#fff" stroke-width="2.2" stroke-linejoin="miter" paint-order="stroke"/>
<polygon points="96.00,405.90 125.00,405.90 117.30,417.40 88.30,417.40" fill="#c55a11" stroke="#fff" stroke-width="2.2" stroke-linejoin="miter" paint-order="stroke"/>
<polygon points="96.00,399.80 125.00,399.80 117.30,411.30 88.30,411.30" fill="#c55a11" stroke="#fff" stroke-width="2.2" stroke-linejoin="miter" paint-order="stroke"/>
<rect x="209.70" y="404.70" width="58.00" height="36.60" rx="5" fill="none" stroke="#222" stroke-width="1.1" stroke-dasharray="4 2.5"/>
<line x1="120.14999999999999" y1="405.55" x2="223.5" y2="419.6" stroke="#c55a11" stroke-width="1.0"/>
<line x1="120.14999999999999" y1="405.55" x2="222.5" y2="432.0" stroke="#c55a11" stroke-width="1.0"/>
<line x1="120.14999999999999" y1="411.65000000000003" x2="223.5" y2="419.6" stroke="#c55a11" stroke-width="1.0"/>
<line x1="120.14999999999999" y1="411.65000000000003" x2="222.5" y2="432.0" stroke="#c55a11" stroke-width="1.0"/>
<line x1="120.14999999999999" y1="417.75" x2="223.5" y2="419.6" stroke="#c55a11" stroke-width="1.0"/>
<line x1="120.14999999999999" y1="417.75" x2="222.5" y2="432.0" stroke="#c55a11" stroke-width="1.0"/>
<line x1="120.14999999999999" y1="423.85" x2="223.5" y2="419.6" stroke="#c55a11" stroke-width="1.0"/>
<line x1="120.14999999999999" y1="423.85" x2="222.5" y2="432.0" stroke="#c55a11" stroke-width="1.0"/>
<line x1="120.14999999999999" y1="429.95" x2="223.5" y2="419.6" stroke="#c55a11" stroke-width="1.0"/>
<line x1="120.14999999999999" y1="429.95" x2="222.5" y2="432.0" stroke="#c55a11" stroke-width="1.0"/>
<line x1="120.14999999999999" y1="436.05" x2="223.5" y2="419.6" stroke="#c55a11" stroke-width="1.0"/>
<line x1="120.14999999999999" y1="436.05" x2="222.5" y2="432.0" stroke="#c55a11" stroke-width="1.0"/>
<line x1="120.14999999999999" y1="442.15" x2="223.5" y2="419.6" stroke="#c55a11" stroke-width="1.0"/>
<line x1="120.14999999999999" y1="442.15" x2="222.5" y2="432.0" stroke="#c55a11" stroke-width="1.0"/>
<line x1="120.14999999999999" y1="448.25" x2="223.5" y2="419.6" stroke="#c55a11" stroke-width="1.0"/>
<line x1="120.14999999999999" y1="448.25" x2="222.5" y2="432.0" stroke="#c55a11" stroke-width="1.0"/>
<line x1="120.14999999999999" y1="454.35" x2="223.5" y2="419.6" stroke="#c55a11" stroke-width="1.0"/>
<line x1="120.14999999999999" y1="454.35" x2="222.5" y2="432.0" stroke="#c55a11" stroke-width="1.0"/>
<polygon points="228.30,426.20 257.60,426.20 250.30,437.40 221.00,437.40" fill="#c55a11" stroke="#fff" stroke-width="2.2" stroke-linejoin="miter" paint-order="stroke"/>
<polygon points="229.30,414.00 258.60,414.00 251.30,425.20 222.00,425.20" fill="#c55a11" stroke="#fff" stroke-width="2.2" stroke-linejoin="miter" paint-order="stroke"/>
<polygon points="96.00,507.50 125.00,507.50 117.30,519.00 88.30,519.00" fill="#4472c4" stroke="#fff" stroke-width="2.2" stroke-linejoin="miter" paint-order="stroke"/>
<polygon points="96.00,501.40 125.00,501.40 117.30,512.90 88.30,512.90" fill="#4472c4" stroke="#fff" stroke-width="2.2" stroke-linejoin="miter" paint-order="stroke"/>
<polygon points="96.00,495.30 125.00,495.30 117.30,506.80 88.30,506.80" fill="#4472c4" stroke="#fff" stroke-width="2.2" stroke-linejoin="miter" paint-order="stroke"/>
<polygon points="96.00,489.20 125.00,489.20 117.30,500.70 88.30,500.70" fill="#4472c4" stroke="#fff" stroke-width="2.2" stroke-linejoin="miter" paint-order="stroke"/>
<polygon points="96.00,483.10 125.00,483.10 117.30,494.60 88.30,494.60" fill="#4472c4" stroke="#fff" stroke-width="2.2" stroke-linejoin="miter" paint-order="stroke"/>
<polygon points="96.00,477.00 125.00,477.00 117.30,488.50 88.30,488.50" fill="#4472c4" stroke="#fff" stroke-width="2.2" stroke-linejoin="miter" paint-order="stroke"/>
<polygon points="96.00,470.90 125.00,470.90 117.30,482.40 88.30,482.40" fill="#843c0c" stroke="#fff" stroke-width="2.2" stroke-linejoin="miter" paint-order="stroke"/>
<polygon points="96.00,464.80 125.00,464.80 117.30,476.30 88.30,476.30" fill="#843c0c" stroke="#fff" stroke-width="2.2" stroke-linejoin="miter" paint-order="stroke"/>
<polygon points="96.00,458.70 125.00,458.70 117.30,470.20 88.30,470.20" fill="#843c0c" stroke="#fff" stroke-width="2.2" stroke-linejoin="miter" paint-order="stroke"/>
<rect x="209.70" y="458.70" width="58.00" height="36.60" rx="5" fill="none" stroke="#222" stroke-width="1.1" stroke-dasharray="4 2.5"/>
<line x1="120.14999999999999" y1="464.45" x2="223.5" y2="473.6" stroke="#843c0c" stroke-width="1.0"/>
<line x1="120.14999999999999" y1="464.45" x2="222.5" y2="486.0" stroke="#843c0c" stroke-width="1.0"/>
<line x1="120.14999999999999" y1="470.55" x2="223.5" y2="473.6" stroke="#843c0c" stroke-width="1.0"/>
<line x1="120.14999999999999" y1="470.55" x2="222.5" y2="486.0" stroke="#843c0c" stroke-width="1.0"/>
<line x1="120.14999999999999" y1="476.65" x2="223.5" y2="473.6" stroke="#843c0c" stroke-width="1.0"/>
<line x1="120.14999999999999" y1="476.65" x2="222.5" y2="486.0" stroke="#843c0c" stroke-width="1.0"/>
<line x1="120.14999999999999" y1="482.75" x2="223.5" y2="473.6" stroke="#843c0c" stroke-width="1.0"/>
<line x1="120.14999999999999" y1="482.75" x2="222.5" y2="486.0" stroke="#843c0c" stroke-width="1.0"/>
<line x1="120.14999999999999" y1="488.84999999999997" x2="223.5" y2="473.6" stroke="#843c0c" stroke-width="1.0"/>
<line x1="120.14999999999999" y1="488.84999999999997" x2="222.5" y2="486.0" stroke="#843c0c" stroke-width="1.0"/>
<line x1="120.14999999999999" y1="494.95" x2="223.5" y2="473.6" stroke="#843c0c" stroke-width="1.0"/>
<line x1="120.14999999999999" y1="494.95" x2="222.5" y2="486.0" stroke="#843c0c" stroke-width="1.0"/>
<line x1="120.14999999999999" y1="501.04999999999995" x2="223.5" y2="473.6" stroke="#843c0c" stroke-width="1.0"/>
<line x1="120.14999999999999" y1="501.04999999999995" x2="222.5" y2="486.0" stroke="#843c0c" stroke-width="1.0"/>
<line x1="120.14999999999999" y1="507.15" x2="223.5" y2="473.6" stroke="#843c0c" stroke-width="1.0"/>
<line x1="120.14999999999999" y1="507.15" x2="222.5" y2="486.0" stroke="#843c0c" stroke-width="1.0"/>
<line x1="120.14999999999999" y1="513.25" x2="223.5" y2="473.6" stroke="#843c0c" stroke-width="1.0"/>
<line x1="120.14999999999999" y1="513.25" x2="222.5" y2="486.0" stroke="#843c0c" stroke-width="1.0"/>
<polygon points="228.30,480.20 257.60,480.20 250.30,491.40 221.00,491.40" fill="#843c0c" stroke="#fff" stroke-width="2.2" stroke-linejoin="miter" paint-order="stroke"/>
<polygon points="229.30,468.00 258.60,468.00 251.30,479.20 222.00,479.20" fill="#843c0c" stroke="#fff" stroke-width="2.2" stroke-linejoin="miter" paint-order="stroke"/>
<circle cx="104.90" cy="376.60" r="2.1" fill="#000" stroke="none" stroke-width="1"/>
<circle cx="104.90" cy="382.80" r="2.1" fill="#000" stroke="none" stroke-width="1"/>
<circle cx="104.90" cy="389.00" r="2.1" fill="#000" stroke="none" stroke-width="1"/>
<circle cx="238.50" cy="381.40" r="2.1" fill="#000" stroke="none" stroke-width="1"/>
<circle cx="238.50" cy="388.30" r="2.1" fill="#000" stroke="none" stroke-width="1"/>
<circle cx="238.50" cy="395.20" r="2.1" fill="#000" stroke="none" stroke-width="1"/>
<text x="168.8" y="390.8" font-size="12" text-anchor="middle" fill="#000">Group Dense</text>
<text x="240.2" y="335.9" font-size="12" text-anchor="middle" fill="#000">Group 1</text>
<text x="240.8" y="452.4" font-size="12" text-anchor="middle" fill="#000">Group 5</text>
<text x="240.8" y="508.6" font-size="12" text-anchor="middle" fill="#000">Group 6</text>
<text x="151" y="551.3" font-size="12" text-anchor="middle" fill="#000">Block A</text>
<text transform="translate(295 294.5) scale(0.86 1)" x="0" y="0" font-size="14.2" font-weight="bold" fill="#000">e</text>
<rect x="290.50" y="295.50" width="392.50" height="241.40" rx="38" fill="none" stroke="#111" stroke-width="1.7" stroke-dasharray="4.6 3.2"/>
<polygon points="318.00,341.60 348.80,341.60 341.10,353.80 310.30,353.80" fill="#bf9000" stroke="#fff" stroke-width="2.2" stroke-linejoin="miter" paint-order="stroke"/>
<polygon points="318.00,334.50 348.80,334.50 341.10,346.70 310.30,346.70" fill="#bf9000" stroke="#fff" stroke-width="2.2" stroke-linejoin="miter" paint-order="stroke"/>
<polygon points="318.00,327.40 348.80,327.40 341.10,339.60 310.30,339.60" fill="#bf9000" stroke="#fff" stroke-width="2.2" stroke-linejoin="miter" paint-order="stroke"/>
<rect x="430.00" y="306.80" width="51.70" height="28.60" rx="5" fill="none" stroke="#222" stroke-width="1.1" stroke-dasharray="4 2.5"/>
<line x1="343.95000000000005" y1="333.49999999999994" x2="439.4" y2="316.6" stroke="#bf9000" stroke-width="1.0"/>
<line x1="343.95000000000005" y1="333.49999999999994" x2="439.4" y2="326.40000000000003" stroke="#bf9000" stroke-width="1.0"/>
<line x1="343.95000000000005" y1="340.59999999999997" x2="439.4" y2="316.6" stroke="#bf9000" stroke-width="1.0"/>
<line x1="343.95000000000005" y1="340.59999999999997" x2="439.4" y2="326.40000000000003" stroke="#bf9000" stroke-width="1.0"/>
<line x1="343.95000000000005" y1="347.69999999999993" x2="439.4" y2="316.6" stroke="#bf9000" stroke-width="1.0"/>
<line x1="343.95000000000005" y1="347.69999999999993" x2="439.4" y2="326.40000000000003" stroke="#bf9000" stroke-width="1.0"/>
<polygon points="442.60,321.50 472.60,321.50 465.20,333.00 435.20,333.00" fill="#bf9000" stroke="#fff" stroke-width="2.2" stroke-linejoin="miter" paint-order="stroke"/>
<polygon points="443.00,310.20 473.00,310.20 465.60,321.70 435.60,321.70" fill="#bf9000" stroke="#fff" stroke-width="2.2" stroke-linejoin="miter" paint-order="stroke"/>
<polygon points="318.00,371.90 348.80,371.90 341.10,384.10 310.30,384.10" fill="#7f6000" stroke="#fff" stroke-width="2.2" stroke-linejoin="miter" paint-order="stroke"/>
<polygon points="318.00,364.80 348.80,364.80 341.10,377.00 310.30,377.00" fill="#7f6000" stroke="#fff" stroke-width="2.2" stroke-linejoin="miter" paint-order="stroke"/>
<polygon points="318.00,357.70 348.80,357.70 341.10,369.90 310.30,369.90" fill="#7f6000" stroke="#fff" stroke-width="2.2" stroke-linejoin="miter" paint-order="stroke"/>
<rect x="430.00" y="343.40" width="51.70" height="28.60" rx="5" fill="none" stroke="#222" stroke-width="1.1" stroke-dasharray="4 2.5"/>
<line x1="343.95000000000005" y1="363.79999999999995" x2="439.4" y2="353.2" stroke="#7f6000" stroke-width="1.0"/>
<line x1="343.95000000000005" y1="363.79999999999995" x2="439.4" y2="363.0" stroke="#7f6000" stroke-width="1.0"/>
<line x1="343.95000000000005" y1="370.9" x2="439.4" y2="353.2" stroke="#7f6000" stroke-width="1.0"/>
<line x1="343.95000000000005" y1="370.9" x2="439.4" y2="363.0" stroke="#7f6000" stroke-width="1.0"/>
<line x1="343.95000000000005" y1="377.99999999999994" x2="439.4" y2="353.2" stroke="#7f6000" stroke-width="1.0"/>
<line x1="343.95000000000005" y1="377.99999999999994" x2="439.4" y2="363.0" stroke="#7f6000" stroke-width="1.0"/>
<polygon points="442.60,358.10 472.60,358.10 465.20,369.60 435.20,369.60" fill="#7f6000" stroke="#fff" stroke-width="2.2" stroke-linejoin="miter" paint-order="stroke"/>
<polygon points="443.00,346.80 473.00,346.80 465.60,358.30 435.60,358.30" fill="#7f6000" stroke="#fff" stroke-width="2.2" stroke-linejoin="miter" paint-order="stroke"/>
<polygon points="318.00,399.20 348.80,399.20 341.10,411.40 310.30,411.40" fill="#f4b183" stroke="#fff" stroke-width="2.2" stroke-linejoin="miter" paint-order="stroke"/>
<polygon points="318.00,392.10 348.80,392.10 341.10,404.30 310.30,404.30" fill="#f4b183" stroke="#fff" stroke-width="2.2" stroke-linejoin="miter" paint-order="stroke"/>
<polygon points="318.00,385.00 348.80,385.00 341.10,397.20 310.30,397.20" fill="#f4b183" stroke="#fff" stroke-width="2.2" stroke-linejoin="miter" paint-order="stroke"/>
<rect x="430.00" y="381.40" width="51.70" height="28.60" rx="5" fill="none" stroke="#222" stroke-width="1.1" stroke-dasharray="4 2.5"/>
<line x1="343.95000000000005" y1="391.09999999999997" x2="439.4" y2="391.2" stroke="#f4b183" stroke-width="1.0"/>
<line x1="343.95000000000005" y1="391.09999999999997" x2="439.4" y2="401.0" stroke="#f4b183" stroke-width="1.0"/>
<line x1="343.95000000000005" y1="398.2" x2="439.4" y2="391.2" stroke="#f4b183" stroke-width="1.0"/>
<line x1="343.95000000000005" y1="398.2" x2="439.4" y2="401.0" stroke="#f4b183" stroke-width="1.0"/>
<line x1="343.95000000000005" y1="405.29999999999995" x2="439.4" y2="391.2" stroke="#f4b183" stroke-width="1.0"/>
<line x1="343.95000000000005" y1="405.29999999999995" x2="439.4" y2="401.0" stroke="#f4b183" stroke-width="1.0"/>
<polygon points="442.60,396.10 472.60,396.10 465.20,407.60 435.20,407.60" fill="#f4b183" stroke="#fff" stroke-width="2.2" stroke-linejoin="miter" paint-order="stroke"/>
<polygon points="443.00,384.80 473.00,384.80 465.60,396.30 435.60,396.30" fill="#f4b183" stroke="#fff" stroke-width="2.2" stroke-linejoin="miter" paint-order="stroke"/>
<polygon points="318.00,427.90 348.80,427.90 341.10,440.10 310.30,440.10" fill="#ed7d31" stroke="#fff" stroke-width="2.2" stroke-linejoin="miter" paint-order="stroke"/>
<polygon points="318.00,420.80 348.80,420.80 341.10,433.00 310.30,433.00" fill="#ed7d31" stroke="#fff" stroke-width="2.2" stroke-linejoin="miter" paint-order="stroke"/>
<polygon points="318.00,413.70 348.80,413.70 341.10,425.90 310.30,425.90" fill="#ed7d31" stroke="#fff" stroke-width="2.2" stroke-linejoin="miter" paint-order="stroke"/>
<rect x="430.00" y="419.60" width="51.70" height="28.60" rx="5" fill="none" stroke="#222" stroke-width="1.1" stroke-dasharray="4 2.5"/>
<line x1="343.95000000000005" y1="419.79999999999995" x2="439.4" y2="429.40000000000003" stroke="#ed7d31" stroke-width="1.0"/>
<line x1="343.95000000000005" y1="419.79999999999995" x2="439.4" y2="439.20000000000005" stroke="#ed7d31" stroke-width="1.0"/>
<line x1="343.95000000000005" y1="426.9" x2="439.4" y2="429.40000000000003" stroke="#ed7d31" stroke-width="1.0"/>
<line x1="343.95000000000005" y1="426.9" x2="439.4" y2="439.20000000000005" stroke="#ed7d31" stroke-width="1.0"/>
<line x1="343.95000000000005" y1="433.99999999999994" x2="439.4" y2="429.40000000000003" stroke="#ed7d31" stroke-width="1.0"/>
<line x1="343.95000000000005" y1="433.99999999999994" x2="439.4" y2="439.20000000000005" stroke="#ed7d31" stroke-width="1.0"/>
<polygon points="442.60,434.30 472.60,434.30 465.20,445.80 435.20,445.80" fill="#ed7d31" stroke="#fff" stroke-width="2.2" stroke-linejoin="miter" paint-order="stroke"/>
<polygon points="443.00,423.00 473.00,423.00 465.60,434.50 435.60,434.50" fill="#ed7d31" stroke="#fff" stroke-width="2.2" stroke-linejoin="miter" paint-order="stroke"/>
<polygon points="318.00,457.10 348.80,457.10 341.10,469.30 310.30,469.30" fill="#c55a11" stroke="#fff" stroke-width="2.2" stroke-linejoin="miter" paint-order="stroke"/>
<polygon points="318.00,450.00 348.80,450.00 341.10,462.20 310.30,462.20" fill="#c55a11" stroke="#fff" stroke-width="2.2" stroke-linejoin="miter" paint-order="stroke"/>
<polygon points="318.00,442.90 348.80,442.90 341.10,455.10 310.30,455.10" fill="#c55a11" stroke="#fff" stroke-width="2.2" stroke-linejoin="miter" paint-order="stroke"/>
<rect x="430.00" y="456.40" width="51.70" height="28.60" rx="5" fill="none" stroke="#222" stroke-width="1.1" stroke-dasharray="4 2.5"/>
<line x1="343.95000000000005" y1="448.99999999999994" x2="439.4" y2="466.2" stroke="#c55a11" stroke-width="1.0"/>
<line x1="343.95000000000005" y1="448.99999999999994" x2="439.4" y2="476.0" stroke="#c55a11" stroke-width="1.0"/>
<line x1="343.95000000000005" y1="456.09999999999997" x2="439.4" y2="466.2" stroke="#c55a11" stroke-width="1.0"/>
<line x1="343.95000000000005" y1="456.09999999999997" x2="439.4" y2="476.0" stroke="#c55a11" stroke-width="1.0"/>
<line x1="343.95000000000005" y1="463.19999999999993" x2="439.4" y2="466.2" stroke="#c55a11" stroke-width="1.0"/>
<line x1="343.95000000000005" y1="463.19999999999993" x2="439.4" y2="476.0" stroke="#c55a11" stroke-width="1.0"/>
<polygon points="442.60,471.10 472.60,471.10 465.20,482.60 435.20,482.60" fill="#c55a11" stroke="#fff" stroke-width="2.2" stroke-linejoin="miter" paint-order="stroke"/>
<polygon points="443.00,459.80 473.00,459.80 465.60,471.30 435.60,471.30" fill="#c55a11" stroke="#fff" stroke-width="2.2" stroke-linejoin="miter" paint-order="stroke"/>
<polygon points="318.00,486.30 348.80,486.30 341.10,498.50 310.30,498.50" fill="#843c0c" stroke="#fff" stroke-width="2.2" stroke-linejoin="miter" paint-order="stroke"/>
<polygon points="318.00,479.20 348.80,479.20 341.10,491.40 310.30,491.40" fill="#843c0c" stroke="#fff" stroke-width="2.2" stroke-linejoin="miter" paint-order="stroke"/>
<polygon points="318.00,472.10 348.80,472.10 341.10,484.30 310.30,484.30" fill="#843c0c" stroke="#fff" stroke-width="2.2" stroke-linejoin="miter" paint-order="stroke"/>
<rect x="430.00" y="492.80" width="51.70" height="28.60" rx="5" fill="none" stroke="#222" stroke-width="1.1" stroke-dasharray="4 2.5"/>
<line x1="343.95000000000005" y1="478.2" x2="439.4" y2="502.6" stroke="#843c0c" stroke-width="1.0"/>
<line x1="343.95000000000005" y1="478.2" x2="439.4" y2="512.4" stroke="#843c0c" stroke-width="1.0"/>
<line x1="343.95000000000005" y1="485.3" x2="439.4" y2="502.6" stroke="#843c0c" stroke-width="1.0"/>
<line x1="343.95000000000005" y1="485.3" x2="439.4" y2="512.4" stroke="#843c0c" stroke-width="1.0"/>
<line x1="343.95000000000005" y1="492.4" x2="439.4" y2="502.6" stroke="#843c0c" stroke-width="1.0"/>
<line x1="343.95000000000005" y1="492.4" x2="439.4" y2="512.4" stroke="#843c0c" stroke-width="1.0"/>
<polygon points="442.60,507.50 472.60,507.50 465.20,519.00 435.20,519.00" fill="#843c0c" stroke="#fff" stroke-width="2.2" stroke-linejoin="miter" paint-order="stroke"/>
<polygon points="443.00,496.20 473.00,496.20 465.60,507.70 435.60,507.70" fill="#843c0c" stroke="#fff" stroke-width="2.2" stroke-linejoin="miter" paint-order="stroke"/>
<text x="484.2" y="315.5" font-size="12" text-anchor="start" fill="#000">Group 1</text>
<text x="484.2" y="352.7" font-size="12" text-anchor="start" fill="#000">Group 2</text>
<text x="484.2" y="385.6" font-size="12" text-anchor="start" fill="#000">Group 3</text>
<text x="484.2" y="448.7" font-size="12" text-anchor="start" fill="#000">Group 4</text>
<text x="484.2" y="468.6" font-size="12" text-anchor="start" fill="#000">Group 5</text>
<text x="484.2" y="502.3" font-size="12" text-anchor="start" fill="#000">Group 6</text>
<text x="386.5" y="312.7" font-size="12" text-anchor="middle" fill="#000">Group Dense</text>
<text x="571.5" y="310.5" font-size="12" text-anchor="middle" fill="#000">Dense</text>
<rect x="483.90" y="410.80" width="24.90" height="5.00" rx="0" fill="#111" stroke="none" stroke-width="1"/>
<rect x="494.10" y="402.30" width="5.00" height="23.90" rx="0" fill="#111" stroke="none" stroke-width="1"/>
<rect x="596.10" y="298.50" width="66.60" height="225.90" rx="8" fill="none" stroke="#222" stroke-width="1.1" stroke-dasharray="4 2.5"/>
<polygon points="617.10,507.60 648.70,507.60 642.20,519.60 610.60,519.60" fill="#9dc3e6" stroke="#fff" stroke-width="2.2" stroke-linejoin="miter" paint-order="stroke"/>
<polygon points="617.10,501.30 648.70,501.30 642.20,513.30 610.60,513.30" fill="#9dc3e6" stroke="#fff" stroke-width="2.2" stroke-linejoin="miter" paint-order="stroke"/>
<polygon points="617.10,495.00 648.70,495.00 642.20,507.00 610.60,507.00" fill="#9dc3e6" stroke="#fff" stroke-width="2.2" stroke-linejoin="miter" paint-order="stroke"/>
<polygon points="617.10,488.70 648.70,488.70 642.20,500.70 610.60,500.70" fill="#9dc3e6" stroke="#fff" stroke-width="2.2" stroke-linejoin="miter" paint-order="stroke"/>
<polygon points="617.10,482.40 648.70,482.40 642.20,494.40 610.60,494.40" fill="#9dc3e6" stroke="#fff" stroke-width="2.2" stroke-linejoin="miter" paint-order="stroke"/>
<polygon points="617.10,476.10 648.70,476.10 642.20,488.10 610.60,488.10" fill="#9dc3e6" stroke="#fff" stroke-width="2.2" stroke-linejoin="miter" paint-order="stroke"/>
<polygon points="617.10,469.80 648.70,469.80 642.20,481.80 610.60,481.80" fill="#9dc3e6" stroke="#fff" stroke-width="2.2" stroke-linejoin="miter" paint-order="stroke"/>
<polygon points="617.10,463.50 648.70,463.50 642.20,475.50 610.60,475.50" fill="#9dc3e6" stroke="#fff" stroke-width="2.2" stroke-linejoin="miter" paint-order="stroke"/>
<polygon points="617.10,457.20 648.70,457.20 642.20,469.20 610.60,469.20" fill="#9dc3e6" stroke="#fff" stroke-width="2.2" stroke-linejoin="miter" paint-order="stroke"/>
<polygon points="617.10,450.90 648.70,450.90 642.20,462.90 610.60,462.90" fill="#9dc3e6" stroke="#fff" stroke-width="2.2" stroke-linejoin="miter" paint-order="stroke"/>
<polygon points="617.10,444.60 648.70,444.60 642.20,456.60 610.60,456.60" fill="#9dc3e6" stroke="#fff" stroke-width="2.2" stroke-linejoin="miter" paint-order="stroke"/>
<polygon points="617.10,438.30 648.70,438.30 642.20,450.30 610.60,450.30" fill="#9dc3e6" stroke="#fff" stroke-width="2.2" stroke-linejoin="miter" paint-order="stroke"/>
<polygon points="617.10,432.00 648.70,432.00 642.20,444.00 610.60,444.00" fill="#9dc3e6" stroke="#fff" stroke-width="2.2" stroke-linejoin="miter" paint-order="stroke"/>
<polygon points="617.10,425.70 648.70,425.70 642.20,437.70 610.60,437.70" fill="#9dc3e6" stroke="#fff" stroke-width="2.2" stroke-linejoin="miter" paint-order="stroke"/>
<polygon points="617.10,419.40 648.70,419.40 642.20,431.40 610.60,431.40" fill="#9dc3e6" stroke="#fff" stroke-width="2.2" stroke-linejoin="miter" paint-order="stroke"/>
<polygon points="617.10,413.10 648.70,413.10 642.20,425.10 610.60,425.10" fill="#9dc3e6" stroke="#fff" stroke-width="2.2" stroke-linejoin="miter" paint-order="stroke"/>
<polygon points="617.10,406.80 648.70,406.80 642.20,418.80 610.60,418.80" fill="#9dc3e6" stroke="#fff" stroke-width="2.2" stroke-linejoin="miter" paint-order="stroke"/>
<polygon points="617.10,400.50 648.70,400.50 642.20,412.50 610.60,412.50" fill="#9dc3e6" stroke="#fff" stroke-width="2.2" stroke-linejoin="miter" paint-order="stroke"/>
<polygon points="617.10,394.20 648.70,394.20 642.20,406.20 610.60,406.20" fill="#9dc3e6" stroke="#fff" stroke-width="2.2" stroke-linejoin="miter" paint-order="stroke"/>
<polygon points="617.10,387.90 648.70,387.90 642.20,399.90 610.60,399.90" fill="#9dc3e6" stroke="#fff" stroke-width="2.2" stroke-linejoin="miter" paint-order="stroke"/>
<polygon points="617.10,381.60 648.70,381.60 642.20,393.60 610.60,393.60" fill="#9dc3e6" stroke="#fff" stroke-width="2.2" stroke-linejoin="miter" paint-order="stroke"/>
<polygon points="617.10,375.30 648.70,375.30 642.20,387.30 610.60,387.30" fill="#9dc3e6" stroke="#fff" stroke-width="2.2" stroke-linejoin="miter" paint-order="stroke"/>
<polygon points="617.10,369.00 648.70,369.00 642.20,381.00 610.60,381.00" fill="#9dc3e6" stroke="#fff" stroke-width="2.2" stroke-linejoin="miter" paint-order="stroke"/>
<polygon points="617.10,362.70 648.70,362.70 642.20,374.70 610.60,374.70" fill="#9dc3e6" stroke="#fff" stroke-width="2.2" stroke-linejoin="miter" paint-order="stroke"/>
<polygon points="617.10,356.40 648.70,356.40 642.20,368.40 610.60,368.40" fill="#9dc3e6" stroke="#fff" stroke-width="2.2" stroke-linejoin="miter" paint-order="stroke"/>
<polygon points="617.10,350.10 648.70,350.10 642.20,362.10 610.60,362.10" fill="#9dc3e6" stroke="#fff" stroke-width="2.2" stroke-linejoin="miter" paint-order="stroke"/>
<polygon points="617.10,343.80 648.70,343.80 642.20,355.80 610.60,355.80" fill="#9dc3e6" stroke="#fff" stroke-width="2.2" stroke-linejoin="miter" paint-order="stroke"/>
<polygon points="617.10,337.50 648.70,337.50 642.20,349.50 610.60,349.50" fill="#9dc3e6" stroke="#fff" stroke-width="2.2" stroke-linejoin="miter" paint-order="stroke"/>
<polygon points="617.10,331.20 648.70,331.20 642.20,343.20 610.60,343.20" fill="#9dc3e6" stroke="#fff" stroke-width="2.2" stroke-linejoin="miter" paint-order="stroke"/>
<polygon points="617.10,324.90 648.70,324.90 642.20,336.90 610.60,336.90" fill="#9dc3e6" stroke="#fff" stroke-width="2.2" stroke-linejoin="miter" paint-order="stroke"/>
<polygon points="617.10,318.60 648.70,318.60 642.20,330.60 610.60,330.60" fill="#9dc3e6" stroke="#fff" stroke-width="2.2" stroke-linejoin="miter" paint-order="stroke"/>
<polygon points="617.10,312.30 648.70,312.30 642.20,324.30 610.60,324.30" fill="#9dc3e6" stroke="#fff" stroke-width="2.2" stroke-linejoin="miter" paint-order="stroke"/>
<polygon points="617.10,306.00 648.70,306.00 642.20,318.00 610.60,318.00" fill="#9dc3e6" stroke="#fff" stroke-width="2.2" stroke-linejoin="miter" paint-order="stroke"/>
<line x1="549.5" y1="396.0" x2="612.9" y2="313" stroke="#4472c4" stroke-width="0.85"/>
<line x1="549.5" y1="396.0" x2="612.9" y2="332" stroke="#4472c4" stroke-width="0.85"/>
<line x1="549.5" y1="396.0" x2="612.9" y2="355" stroke="#4472c4" stroke-width="0.85"/>
<line x1="549.5" y1="396.0" x2="612.9" y2="375.5" stroke="#4472c4" stroke-width="0.85"/>
<line x1="549.5" y1="396.0" x2="612.9" y2="394" stroke="#4472c4" stroke-width="0.85"/>
<line x1="549.5" y1="396.0" x2="612.9" y2="411" stroke="#4472c4" stroke-width="0.85"/>
<line x1="549.5" y1="396.0" x2="612.9" y2="423.6" stroke="#4472c4" stroke-width="0.85"/>
<line x1="549.5" y1="396.0" x2="612.9" y2="443" stroke="#4472c4" stroke-width="0.85"/>
<line x1="549.5" y1="396.0" x2="612.9" y2="466" stroke="#4472c4" stroke-width="0.85"/>
<line x1="549.5" y1="396.0" x2="612.9" y2="487.7" stroke="#4472c4" stroke-width="0.85"/>
<line x1="549.5" y1="396.0" x2="612.9" y2="511" stroke="#4472c4" stroke-width="0.85"/>
<line x1="549.5" y1="402.6" x2="612.9" y2="313" stroke="#4472c4" stroke-width="0.85"/>
<line x1="549.5" y1="402.6" x2="612.9" y2="332" stroke="#4472c4" stroke-width="0.85"/>
<line x1="549.5" y1="402.6" x2="612.9" y2="355" stroke="#4472c4" stroke-width="0.85"/>
<line x1="549.5" y1="402.6" x2="612.9" y2="375.5" stroke="#4472c4" stroke-width="0.85"/>
<line x1="549.5" y1="402.6" x2="612.9" y2="394" stroke="#4472c4" stroke-width="0.85"/>
<line x1="549.5" y1="402.6" x2="612.9" y2="411" stroke="#4472c4" stroke-width="0.85"/>
<line x1="549.5" y1="402.6" x2="612.9" y2="423.6" stroke="#4472c4" stroke-width="0.85"/>
<line x1="549.5" y1="402.6" x2="612.9" y2="443" stroke="#4472c4" stroke-width="0.85"/>
<line x1="549.5" y1="402.6" x2="612.9" y2="466" stroke="#4472c4" stroke-width="0.85"/>
<line x1="549.5" y1="402.6" x2="612.9" y2="487.7" stroke="#4472c4" stroke-width="0.85"/>
<line x1="549.5" y1="402.6" x2="612.9" y2="511" stroke="#4472c4" stroke-width="0.85"/>
<line x1="549.5" y1="409.2" x2="612.9" y2="313" stroke="#4472c4" stroke-width="0.85"/>
<line x1="549.5" y1="409.2" x2="612.9" y2="332" stroke="#4472c4" stroke-width="0.85"/>
<line x1="549.5" y1="409.2" x2="612.9" y2="355" stroke="#4472c4" stroke-width="0.85"/>
<line x1="549.5" y1="409.2" x2="612.9" y2="375.5" stroke="#4472c4" stroke-width="0.85"/>
<line x1="549.5" y1="409.2" x2="612.9" y2="394" stroke="#4472c4" stroke-width="0.85"/>
<line x1="549.5" y1="409.2" x2="612.9" y2="411" stroke="#4472c4" stroke-width="0.85"/>
<line x1="549.5" y1="409.2" x2="612.9" y2="423.6" stroke="#4472c4" stroke-width="0.85"/>
<line x1="549.5" y1="409.2" x2="612.9" y2="443" stroke="#4472c4" stroke-width="0.85"/>
<line x1="549.5" y1="409.2" x2="612.9" y2="466" stroke="#4472c4" stroke-width="0.85"/>
<line x1="549.5" y1="409.2" x2="612.9" y2="487.7" stroke="#4472c4" stroke-width="0.85"/>
<line x1="549.5" y1="409.2" x2="612.9" y2="511" stroke="#4472c4" stroke-width="0.85"/>
<line x1="549.5" y1="415.8" x2="612.9" y2="313" stroke="#4472c4" stroke-width="0.85"/>
<line x1="549.5" y1="415.8" x2="612.9" y2="332" stroke="#4472c4" stroke-width="0.85"/>
<line x1="549.5" y1="415.8" x2="612.9" y2="355" stroke="#4472c4" stroke-width="0.85"/>
<line x1="549.5" y1="415.8" x2="612.9" y2="375.5" stroke="#4472c4" stroke-width="0.85"/>
<line x1="549.5" y1="415.8" x2="612.9" y2="394" stroke="#4472c4" stroke-width="0.85"/>
<line x1="549.5" y1="415.8" x2="612.9" y2="411" stroke="#4472c4" stroke-width="0.85"/>
<line x1="549.5" y1="415.8" x2="612.9" y2="423.6" stroke="#4472c4" stroke-width="0.85"/>
<line x1="549.5" y1="415.8" x2="612.9" y2="443" stroke="#4472c4" stroke-width="0.85"/>
<line x1="549.5" y1="415.8" x2="612.9" y2="466" stroke="#4472c4" stroke-width="0.85"/>
<line x1="549.5" y1="415.8" x2="612.9" y2="487.7" stroke="#4472c4" stroke-width="0.85"/>
<line x1="549.5" y1="415.8" x2="612.9" y2="511" stroke="#4472c4" stroke-width="0.85"/>
<line x1="549.5" y1="422.4" x2="612.9" y2="313" stroke="#4472c4" stroke-width="0.85"/>
<line x1="549.5" y1="422.4" x2="612.9" y2="332" stroke="#4472c4" stroke-width="0.85"/>
<line x1="549.5" y1="422.4" x2="612.9" y2="355" stroke="#4472c4" stroke-width="0.85"/>
<line x1="549.5" y1="422.4" x2="612.9" y2="375.5" stroke="#4472c4" stroke-width="0.85"/>
<line x1="549.5" y1="422.4" x2="612.9" y2="394" stroke="#4472c4" stroke-width="0.85"/>
<line x1="549.5" y1="422.4" x2="612.9" y2="411" stroke="#4472c4" stroke-width="0.85"/>
<line x1="549.5" y1="422.4" x2="612.9" y2="423.6" stroke="#4472c4" stroke-width="0.85"/>
<line x1="549.5" y1="422.4" x2="612.9" y2="443" stroke="#4472c4" stroke-width="0.85"/>
<line x1="549.5" y1="422.4" x2="612.9" y2="466" stroke="#4472c4" stroke-width="0.85"/>
<line x1="549.5" y1="422.4" x2="612.9" y2="487.7" stroke="#4472c4" stroke-width="0.85"/>
<line x1="549.5" y1="422.4" x2="612.9" y2="511" stroke="#4472c4" stroke-width="0.85"/>
<line x1="549.5" y1="429.0" x2="612.9" y2="313" stroke="#4472c4" stroke-width="0.85"/>
<line x1="549.5" y1="429.0" x2="612.9" y2="332" stroke="#4472c4" stroke-width="0.85"/>
<line x1="549.5" y1="429.0" x2="612.9" y2="355" stroke="#4472c4" stroke-width="0.85"/>
<line x1="549.5" y1="429.0" x2="612.9" y2="375.5" stroke="#4472c4" stroke-width="0.85"/>
<line x1="549.5" y1="429.0" x2="612.9" y2="394" stroke="#4472c4" stroke-width="0.85"/>
<line x1="549.5" y1="429.0" x2="612.9" y2="411" stroke="#4472c4" stroke-width="0.85"/>
<line x1="549.5" y1="429.0" x2="612.9" y2="423.6" stroke="#4472c4" stroke-width="0.85"/>
<line x1="549.5" y1="429.0" x2="612.9" y2="443" stroke="#4472c4" stroke-width="0.85"/>
<line x1="549.5" y1="429.0" x2="612.9" y2="466" stroke="#4472c4" stroke-width="0.85"/>
<line x1="549.5" y1="429.0" x2="612.9" y2="487.7" stroke="#4472c4" stroke-width="0.85"/>
<line x1="549.5" y1="429.0" x2="612.9" y2="511" stroke="#4472c4" stroke-width="0.85"/>
<polygon points="519.00,422.50 550.70,422.50 543.60,434.50 511.90,434.50" fill="#4472c4" stroke="#fff" stroke-width="2.2" stroke-linejoin="miter" paint-order="stroke"/>
<polygon points="519.00,416.00 550.70,416.00 543.60,428.00 511.90,428.00" fill="#4472c4" stroke="#fff" stroke-width="2.2" stroke-linejoin="miter" paint-order="stroke"/>
<polygon points="519.00,409.50 550.70,409.50 543.60,421.50 511.90,421.50" fill="#4472c4" stroke="#fff" stroke-width="2.2" stroke-linejoin="miter" paint-order="stroke"/>
<polygon points="519.00,403.00 550.70,403.00 543.60,415.00 511.90,415.00" fill="#4472c4" stroke="#fff" stroke-width="2.2" stroke-linejoin="miter" paint-order="stroke"/>
<polygon points="519.00,396.50 550.70,396.50 543.60,408.50 511.90,408.50" fill="#4472c4" stroke="#fff" stroke-width="2.2" stroke-linejoin="miter" paint-order="stroke"/>
<polygon points="519.00,390.00 550.70,390.00 543.60,402.00 511.90,402.00" fill="#4472c4" stroke="#fff" stroke-width="2.2" stroke-linejoin="miter" paint-order="stroke"/>
<line x1="506" y1="512.3" x2="571" y2="512.3" stroke="#000" stroke-width="1.2"/>
<polygon points="508.00,508.30 500.10,512.30 508.00,516.30" fill="#000" stroke="none" stroke-width="1"/>
<polygon points="569.20,508.30 577.10,512.30 569.20,516.30" fill="#000" stroke="none" stroke-width="1"/>
<text x="538.2" y="529.4" font-size="12" text-anchor="middle" fill="#000">Same size</text>
<text x="501" y="552.3" font-size="12" text-anchor="middle" fill="#000">Block B</text>
<rect x="31.50" y="566.80" width="132.80" height="105.30" rx="0" fill="none" stroke="#000" stroke-width="1.3"/>
<line x1="28.5" y1="670.3" x2="31.5" y2="670.3" stroke="#000" stroke-width="1"/>
<text x="29.1" y="674.0999999999999" font-size="11" text-anchor="end" fill="#000">0.0</text>
<line x1="28.5" y1="644.55" x2="31.5" y2="644.55" stroke="#000" stroke-width="1"/>
<text x="29.1" y="648.3499999999999" font-size="11" text-anchor="end" fill="#000">0.1</text>
<line x1="28.5" y1="618.8" x2="31.5" y2="618.8" stroke="#000" stroke-width="1"/>
<text x="29.1" y="622.5999999999999" font-size="11" text-anchor="end" fill="#000">0.2</text>
<line x1="28.5" y1="593.05" x2="31.5" y2="593.05" stroke="#000" stroke-width="1"/>
<text x="29.1" y="596.8499999999999" font-size="11" text-anchor="end" fill="#000">0.3</text>
<line x1="28.5" y1="567.3" x2="31.5" y2="567.3" stroke="#000" stroke-width="1"/>
<text x="29.1" y="571.0999999999999" font-size="11" text-anchor="end" fill="#000">0.4</text>
<line x1="39.2" y1="672.1" x2="39.2" y2="675.1" stroke="#000" stroke-width="1"/>
<text x="39.2" y="684.7" font-size="11" text-anchor="middle" fill="#000">0</text>
<line x1="66.825" y1="672.1" x2="66.825" y2="675.1" stroke="#000" stroke-width="1"/>
<text x="66.825" y="684.7" font-size="11" text-anchor="middle" fill="#000">200</text>
<line x1="94.44999999999999" y1="672.1" x2="94.44999999999999" y2="675.1" stroke="#000" stroke-width="1"/>
<text x="94.44999999999999" y="684.7" font-size="11" text-anchor="middle" fill="#000">400</text>
<line x1="122.07499999999999" y1="672.1" x2="122.07499999999999" y2="675.1" stroke="#000" stroke-width="1"/>
<text x="122.07499999999999" y="684.7" font-size="11" text-anchor="middle" fill="#000">600</text>
<line x1="149.7" y1="672.1" x2="149.7" y2="675.1" stroke="#000" stroke-width="1"/>
<text x="149.7" y="684.7" font-size="11" text-anchor="middle" fill="#000">800</text>
<text x="92.44999999999999" y="697.1" font-size="9.3" text-anchor="middle" fill="#000">Epoch</text>
<text x="7.6" y="619.5" font-size="9.8" text-anchor="middle" fill="#000" transform="rotate(-90 7.6 619.5)">loss</text>
<circle cx="39.20" cy="658.59" r="2.3" fill="#000" stroke="none" stroke-width="1"/>
<circle cx="39.61" cy="659.40" r="2.3" fill="#000" stroke="none" stroke-width="1"/>
<circle cx="40.03" cy="657.75" r="2.3" fill="#000" stroke="none" stroke-width="1"/>
<circle cx="40.44" cy="659.97" r="2.3" fill="#000" stroke="none" stroke-width="1"/>
<circle cx="40.86" cy="658.47" r="2.3" fill="#000" stroke="none" stroke-width="1"/>
<circle cx="41.27" cy="659.21" r="2.3" fill="#000" stroke="none" stroke-width="1"/>
<circle cx="41.69" cy="660.39" r="2.3" fill="#000" stroke="none" stroke-width="1"/>
<circle cx="42.10" cy="658.97" r="2.3" fill="#000" stroke="none" stroke-width="1"/>
<circle cx="42.52" cy="660.67" r="2.3" fill="#000" stroke="none" stroke-width="1"/>
<circle cx="42.93" cy="659.45" r="2.3" fill="#000" stroke="none" stroke-width="1"/>
<circle cx="43.34" cy="660.75" r="2.3" fill="#000" stroke="none" stroke-width="1"/>
<circle cx="43.76" cy="660.77" r="2.3" fill="#000" stroke="none" stroke-width="1"/>
<circle cx="44.17" cy="659.77" r="2.3" fill="#000" stroke="none" stroke-width="1"/>
<circle cx="44.59" cy="658.57" r="2.3" fill="#000" stroke="none" stroke-width="1"/>
<circle cx="45.00" cy="660.89" r="2.3" fill="#000" stroke="none" stroke-width="1"/>
<circle cx="45.42" cy="660.65" r="2.3" fill="#000" stroke="none" stroke-width="1"/>
<circle cx="45.83" cy="659.45" r="2.3" fill="#000" stroke="none" stroke-width="1"/>
<circle cx="46.24" cy="658.52" r="2.3" fill="#000" stroke="none" stroke-width="1"/>
<circle cx="46.66" cy="659.74" r="2.3" fill="#000" stroke="none" stroke-width="1"/>
<circle cx="47.07" cy="660.36" r="2.3" fill="#000" stroke="none" stroke-width="1"/>
<circle cx="47.49" cy="658.64" r="2.3" fill="#000" stroke="none" stroke-width="1"/>
<circle cx="47.90" cy="661.53" r="2.3" fill="#000" stroke="none" stroke-width="1"/>
<circle cx="48.32" cy="659.12" r="2.3" fill="#000" stroke="none" stroke-width="1"/>
<circle cx="48.73" cy="660.89" r="2.3" fill="#000" stroke="none" stroke-width="1"/>
<circle cx="49.15" cy="661.37" r="2.3" fill="#000" stroke="none" stroke-width="1"/>
<circle cx="49.56" cy="661.48" r="2.3" fill="#000" stroke="none" stroke-width="1"/>
<circle cx="49.97" cy="660.95" r="2.3" fill="#000" stroke="none" stroke-width="1"/>
<circle cx="50.39" cy="659.48" r="2.3" fill="#000" stroke="none" stroke-width="1"/>
<circle cx="50.80" cy="661.40" r="2.3" fill="#000" stroke="none" stroke-width="1"/>
<circle cx="51.22" cy="660.25" r="2.3" fill="#000" stroke="none" stroke-width="1"/>
<circle cx="51.63" cy="660.11" r="2.3" fill="#000" stroke="none" stroke-width="1"/>
<circle cx="52.05" cy="660.92" r="2.3" fill="#000" stroke="none" stroke-width="1"/>
<circle cx="52.46" cy="660.44" r="2.3" fill="#000" stroke="none" stroke-width="1"/>
<circle cx="52.87" cy="661.88" r="2.3" fill="#000" stroke="none" stroke-width="1"/>
<circle cx="53.29" cy="661.91" r="2.3" fill="#000" stroke="none" stroke-width="1"/>
<circle cx="53.70" cy="661.50" r="2.3" fill="#000" stroke="none" stroke-width="1"/>
<circle cx="54.12" cy="660.15" r="2.3" fill="#000" stroke="none" stroke-width="1"/>
<circle cx="54.53" cy="660.90" r="2.3" fill="#000" stroke="none" stroke-width="1"/>
<circle cx="54.95" cy="661.25" r="2.3" fill="#000" stroke="none" stroke-width="1"/>
<circle cx="55.36" cy="660.49" r="2.3" fill="#000" stroke="none" stroke-width="1"/>
<circle cx="55.78" cy="660.88" r="2.3" fill="#000" stroke="none" stroke-width="1"/>
<circle cx="56.19" cy="661.34" r="2.3" fill="#000" stroke="none" stroke-width="1"/>
<circle cx="56.60" cy="659.94" r="2.3" fill="#000" stroke="none" stroke-width="1"/>
<circle cx="57.02" cy="660.23" r="2.3" fill="#000" stroke="none" stroke-width="1"/>
<circle cx="57.43" cy="661.54" r="2.3" fill="#000" stroke="none" stroke-width="1"/>
<circle cx="57.85" cy="663.58" r="2.3" fill="#000" stroke="none" stroke-width="1"/>
<circle cx="58.26" cy="663.68" r="2.3" fill="#000" stroke="none" stroke-width="1"/>
<circle cx="58.68" cy="662.96" r="2.3" fill="#000" stroke="none" stroke-width="1"/>
<circle cx="59.09" cy="663.26" r="2.3" fill="#000" stroke="none" stroke-width="1"/>
<circle cx="59.50" cy="664.17" r="2.3" fill="#000" stroke="none" stroke-width="1"/>
<circle cx="59.92" cy="662.74" r="2.3" fill="#000" stroke="none" stroke-width="1"/>
<circle cx="60.33" cy="664.52" r="2.3" fill="#000" stroke="none" stroke-width="1"/>
<circle cx="60.75" cy="663.90" r="2.3" fill="#000" stroke="none" stroke-width="1"/>
<circle cx="61.16" cy="663.20" r="2.3" fill="#000" stroke="none" stroke-width="1"/>
<circle cx="61.58" cy="664.45" r="2.3" fill="#000" stroke="none" stroke-width="1"/>
<circle cx="61.99" cy="663.76" r="2.3" fill="#000" stroke="none" stroke-width="1"/>
<circle cx="62.41" cy="664.68" r="2.3" fill="#000" stroke="none" stroke-width="1"/>
<circle cx="62.82" cy="663.39" r="2.3" fill="#000" stroke="none" stroke-width="1"/>
<circle cx="63.23" cy="663.19" r="2.3" fill="#000" stroke="none" stroke-width="1"/>
<circle cx="63.65" cy="663.58" r="2.3" fill="#000" stroke="none" stroke-width="1"/>
<circle cx="64.06" cy="662.96" r="2.3" fill="#000" stroke="none" stroke-width="1"/>
<circle cx="64.48" cy="664.12" r="2.3" fill="#000" stroke="none" stroke-width="1"/>
<circle cx="64.89" cy="663.33" r="2.3" fill="#000" stroke="none" stroke-width="1"/>
<circle cx="65.31" cy="663.54" r="2.3" fill="#000" stroke="none" stroke-width="1"/>
<circle cx="65.72" cy="663.57" r="2.3" fill="#000" stroke="none" stroke-width="1"/>
<circle cx="66.13" cy="663.82" r="2.3" fill="#000" stroke="none" stroke-width="1"/>
<circle cx="66.55" cy="663.03" r="2.3" fill="#000" stroke="none" stroke-width="1"/>
<circle cx="66.96" cy="662.82" r="2.3" fill="#000" stroke="none" stroke-width="1"/>
<circle cx="67.38" cy="663.79" r="2.3" fill="#000" stroke="none" stroke-width="1"/>
<circle cx="67.79" cy="663.40" r="2.3" fill="#000" stroke="none" stroke-width="1"/>
<circle cx="68.21" cy="664.64" r="2.3" fill="#000" stroke="none" stroke-width="1"/>
<circle cx="68.62" cy="663.32" r="2.3" fill="#000" stroke="none" stroke-width="1"/>
<circle cx="69.03" cy="663.43" r="2.3" fill="#000" stroke="none" stroke-width="1"/>
<circle cx="69.45" cy="662.72" r="2.3" fill="#000" stroke="none" stroke-width="1"/>
<circle cx="69.86" cy="663.07" r="2.3" fill="#000" stroke="none" stroke-width="1"/>
<circle cx="70.28" cy="664.18" r="2.3" fill="#000" stroke="none" stroke-width="1"/>
<circle cx="70.69" cy="663.97" r="2.3" fill="#000" stroke="none" stroke-width="1"/>
<circle cx="71.11" cy="663.39" r="2.3" fill="#000" stroke="none" stroke-width="1"/>
<circle cx="71.52" cy="664.72" r="2.3" fill="#000" stroke="none" stroke-width="1"/>
<circle cx="71.94" cy="663.81" r="2.3" fill="#000" stroke="none" stroke-width="1"/>
<circle cx="72.35" cy="664.42" r="2.3" fill="#000" stroke="none" stroke-width="1"/>
<circle cx="72.76" cy="664.52" r="2.3" fill="#000" stroke="none" stroke-width="1"/>
<circle cx="73.18" cy="664.64" r="2.3" fill="#000" stroke="none" stroke-width="1"/>
<circle cx="73.59" cy="663.18" r="2.3" fill="#000" stroke="none" stroke-width="1"/>
<circle cx="74.01" cy="664.50" r="2.3" fill="#000" stroke="none" stroke-width="1"/>
<circle cx="74.42" cy="664.25" r="2.3" fill="#000" stroke="none" stroke-width="1"/>
<circle cx="74.84" cy="663.96" r="2.3" fill="#000" stroke="none" stroke-width="1"/>
<circle cx="75.25" cy="662.97" r="2.3" fill="#000" stroke="none" stroke-width="1"/>
<circle cx="75.66" cy="664.60" r="2.3" fill="#000" stroke="none" stroke-width="1"/>
<circle cx="76.08" cy="663.84" r="2.3" fill="#000" stroke="none" stroke-width="1"/>
<circle cx="76.49" cy="663.63" r="2.3" fill="#000" stroke="none" stroke-width="1"/>
<circle cx="76.91" cy="662.94" r="2.3" fill="#000" stroke="none" stroke-width="1"/>
<circle cx="77.32" cy="663.08" r="2.3" fill="#000" stroke="none" stroke-width="1"/>
<circle cx="77.74" cy="662.98" r="2.3" fill="#000" stroke="none" stroke-width="1"/>
<circle cx="78.15" cy="664.19" r="2.3" fill="#000" stroke="none" stroke-width="1"/>
<circle cx="78.57" cy="663.91" r="2.3" fill="#000" stroke="none" stroke-width="1"/>
<circle cx="78.98" cy="664.02" r="2.3" fill="#000" stroke="none" stroke-width="1"/>
<circle cx="79.39" cy="662.94" r="2.3" fill="#000" stroke="none" stroke-width="1"/>
<circle cx="79.81" cy="662.79" r="2.3" fill="#000" stroke="none" stroke-width="1"/>
<circle cx="80.22" cy="664.45" r="2.3" fill="#000" stroke="none" stroke-width="1"/>
<circle cx="80.64" cy="664.40" r="2.3" fill="#000" stroke="none" stroke-width="1"/>
<circle cx="81.05" cy="664.29" r="2.3" fill="#000" stroke="none" stroke-width="1"/>
<circle cx="81.47" cy="664.28" r="2.3" fill="#000" stroke="none" stroke-width="1"/>
<circle cx="81.88" cy="663.76" r="2.3" fill="#000" stroke="none" stroke-width="1"/>
<circle cx="82.29" cy="663.55" r="2.3" fill="#000" stroke="none" stroke-width="1"/>
<circle cx="82.71" cy="664.22" r="2.3" fill="#000" stroke="none" stroke-width="1"/>
<circle cx="83.12" cy="664.76" r="2.3" fill="#000" stroke="none" stroke-width="1"/>
<circle cx="83.54" cy="663.90" r="2.3" fill="#000" stroke="none" stroke-width="1"/>
<circle cx="83.95" cy="664.00" r="2.3" fill="#000" stroke="none" stroke-width="1"/>
<circle cx="84.37" cy="663.60" r="2.3" fill="#000" stroke="none" stroke-width="1"/>
<circle cx="84.78" cy="662.80" r="2.3" fill="#000" stroke="none" stroke-width="1"/>
<circle cx="85.20" cy="663.34" r="2.3" fill="#000" stroke="none" stroke-width="1"/>
<circle cx="85.61" cy="663.70" r="2.3" fill="#000" stroke="none" stroke-width="1"/>
<circle cx="86.02" cy="663.49" r="2.3" fill="#000" stroke="none" stroke-width="1"/>
<circle cx="86.44" cy="663.37" r="2.3" fill="#000" stroke="none" stroke-width="1"/>
<circle cx="86.85" cy="664.65" r="2.3" fill="#000" stroke="none" stroke-width="1"/>
<circle cx="87.27" cy="662.91" r="2.3" fill="#000" stroke="none" stroke-width="1"/>
<circle cx="87.68" cy="663.16" r="2.3" fill="#000" stroke="none" stroke-width="1"/>
<circle cx="88.10" cy="662.96" r="2.3" fill="#000" stroke="none" stroke-width="1"/>
<circle cx="88.51" cy="663.12" r="2.3" fill="#000" stroke="none" stroke-width="1"/>
<circle cx="88.92" cy="663.96" r="2.3" fill="#000" stroke="none" stroke-width="1"/>
<circle cx="89.34" cy="663.94" r="2.3" fill="#000" stroke="none" stroke-width="1"/>
<circle cx="89.75" cy="664.55" r="2.3" fill="#000" stroke="none" stroke-width="1"/>
<circle cx="90.17" cy="663.46" r="2.3" fill="#000" stroke="none" stroke-width="1"/>
<circle cx="90.58" cy="664.64" r="2.3" fill="#000" stroke="none" stroke-width="1"/>
<circle cx="91.00" cy="664.63" r="2.3" fill="#000" stroke="none" stroke-width="1"/>
<circle cx="91.41" cy="664.33" r="2.3" fill="#000" stroke="none" stroke-width="1"/>
<circle cx="91.83" cy="664.43" r="2.3" fill="#000" stroke="none" stroke-width="1"/>
<circle cx="92.24" cy="664.06" r="2.3" fill="#000" stroke="none" stroke-width="1"/>
<circle cx="92.65" cy="664.66" r="2.3" fill="#000" stroke="none" stroke-width="1"/>
<circle cx="93.07" cy="664.76" r="2.3" fill="#000" stroke="none" stroke-width="1"/>
<circle cx="93.48" cy="664.45" r="2.3" fill="#000" stroke="none" stroke-width="1"/>
<circle cx="93.90" cy="664.55" r="2.3" fill="#000" stroke="none" stroke-width="1"/>
<circle cx="94.31" cy="664.01" r="2.3" fill="#000" stroke="none" stroke-width="1"/>
<circle cx="94.73" cy="664.71" r="2.3" fill="#000" stroke="none" stroke-width="1"/>
<circle cx="95.14" cy="662.96" r="2.3" fill="#000" stroke="none" stroke-width="1"/>
<circle cx="95.55" cy="663.50" r="2.3" fill="#000" stroke="none" stroke-width="1"/>
<circle cx="95.97" cy="664.46" r="2.3" fill="#000" stroke="none" stroke-width="1"/>
<circle cx="96.38" cy="664.24" r="2.3" fill="#000" stroke="none" stroke-width="1"/>
<circle cx="96.80" cy="664.05" r="2.3" fill="#000" stroke="none" stroke-width="1"/>
<circle cx="97.21" cy="664.01" r="2.3" fill="#000" stroke="none" stroke-width="1"/>
<circle cx="97.63" cy="664.51" r="2.3" fill="#000" stroke="none" stroke-width="1"/>
<circle cx="98.04" cy="663.01" r="2.3" fill="#000" stroke="none" stroke-width="1"/>
<circle cx="98.46" cy="662.72" r="2.3" fill="#000" stroke="none" stroke-width="1"/>
<circle cx="98.87" cy="663.80" r="2.3" fill="#000" stroke="none" stroke-width="1"/>
<circle cx="99.28" cy="663.77" r="2.3" fill="#000" stroke="none" stroke-width="1"/>
<circle cx="99.70" cy="664.59" r="2.3" fill="#000" stroke="none" stroke-width="1"/>
<circle cx="100.11" cy="664.55" r="2.3" fill="#000" stroke="none" stroke-width="1"/>
<circle cx="100.53" cy="664.06" r="2.3" fill="#000" stroke="none" stroke-width="1"/>
<circle cx="100.94" cy="664.22" r="2.3" fill="#000" stroke="none" stroke-width="1"/>
<circle cx="101.36" cy="663.06" r="2.3" fill="#000" stroke="none" stroke-width="1"/>
<circle cx="101.77" cy="664.43" r="2.3" fill="#000" stroke="none" stroke-width="1"/>
<circle cx="102.19" cy="664.72" r="2.3" fill="#000" stroke="none" stroke-width="1"/>
<circle cx="102.60" cy="662.80" r="2.3" fill="#000" stroke="none" stroke-width="1"/>
<circle cx="103.01" cy="663.68" r="2.3" fill="#000" stroke="none" stroke-width="1"/>
<circle cx="103.43" cy="664.46" r="2.3" fill="#000" stroke="none" stroke-width="1"/>
<circle cx="103.84" cy="663.64" r="2.3" fill="#000" stroke="none" stroke-width="1"/>
<circle cx="104.26" cy="664.71" r="2.3" fill="#000" stroke="none" stroke-width="1"/>
<circle cx="104.67" cy="663.68" r="2.3" fill="#000" stroke="none" stroke-width="1"/>
<circle cx="105.09" cy="662.75" r="2.3" fill="#000" stroke="none" stroke-width="1"/>
<circle cx="105.50" cy="662.99" r="2.3" fill="#000" stroke="none" stroke-width="1"/>
<circle cx="105.91" cy="663.33" r="2.3" fill="#000" stroke="none" stroke-width="1"/>
<circle cx="106.33" cy="664.23" r="2.3" fill="#000" stroke="none" stroke-width="1"/>
<circle cx="106.74" cy="664.01" r="2.3" fill="#000" stroke="none" stroke-width="1"/>
<circle cx="107.16" cy="664.42" r="2.3" fill="#000" stroke="none" stroke-width="1"/>
<circle cx="107.57" cy="663.17" r="2.3" fill="#000" stroke="none" stroke-width="1"/>
<circle cx="107.99" cy="663.67" r="2.3" fill="#000" stroke="none" stroke-width="1"/>
<circle cx="108.40" cy="663.16" r="2.3" fill="#000" stroke="none" stroke-width="1"/>
<circle cx="108.81" cy="664.08" r="2.3" fill="#000" stroke="none" stroke-width="1"/>
<circle cx="109.23" cy="664.30" r="2.3" fill="#000" stroke="none" stroke-width="1"/>
<circle cx="109.64" cy="663.09" r="2.3" fill="#000" stroke="none" stroke-width="1"/>
<circle cx="110.06" cy="662.73" r="2.3" fill="#000" stroke="none" stroke-width="1"/>
<circle cx="110.47" cy="663.01" r="2.3" fill="#000" stroke="none" stroke-width="1"/>
<circle cx="110.89" cy="663.10" r="2.3" fill="#000" stroke="none" stroke-width="1"/>
<circle cx="111.30" cy="663.08" r="2.3" fill="#000" stroke="none" stroke-width="1"/>
<circle cx="111.72" cy="663.24" r="2.3" fill="#000" stroke="none" stroke-width="1"/>
<circle cx="112.13" cy="664.30" r="2.3" fill="#000" stroke="none" stroke-width="1"/>
<circle cx="112.54" cy="663.70" r="2.3" fill="#000" stroke="none" stroke-width="1"/>
<circle cx="112.96" cy="664.03" r="2.3" fill="#000" stroke="none" stroke-width="1"/>
<circle cx="113.37" cy="664.70" r="2.3" fill="#000" stroke="none" stroke-width="1"/>
<circle cx="113.79" cy="664.71" r="2.3" fill="#000" stroke="none" stroke-width="1"/>
<circle cx="114.20" cy="664.19" r="2.3" fill="#000" stroke="none" stroke-width="1"/>
<circle cx="114.62" cy="664.23" r="2.3" fill="#000" stroke="none" stroke-width="1"/>
<circle cx="115.03" cy="663.34" r="2.3" fill="#000" stroke="none" stroke-width="1"/>
<circle cx="115.44" cy="662.79" r="2.3" fill="#000" stroke="none" stroke-width="1"/>
<circle cx="115.86" cy="663.84" r="2.3" fill="#000" stroke="none" stroke-width="1"/>
<circle cx="116.27" cy="662.83" r="2.3" fill="#000" stroke="none" stroke-width="1"/>
<circle cx="116.69" cy="662.73" r="2.3" fill="#000" stroke="none" stroke-width="1"/>
<circle cx="117.10" cy="662.80" r="2.3" fill="#000" stroke="none" stroke-width="1"/>
<circle cx="117.52" cy="664.01" r="2.3" fill="#000" stroke="none" stroke-width="1"/>
<circle cx="117.93" cy="664.31" r="2.3" fill="#000" stroke="none" stroke-width="1"/>
<circle cx="118.35" cy="664.30" r="2.3" fill="#000" stroke="none" stroke-width="1"/>
<circle cx="118.76" cy="664.36" r="2.3" fill="#000" stroke="none" stroke-width="1"/>
<circle cx="119.17" cy="664.34" r="2.3" fill="#000" stroke="none" stroke-width="1"/>
<circle cx="119.59" cy="663.48" r="2.3" fill="#000" stroke="none" stroke-width="1"/>
<circle cx="120.00" cy="662.91" r="2.3" fill="#000" stroke="none" stroke-width="1"/>
<circle cx="120.42" cy="663.03" r="2.3" fill="#000" stroke="none" stroke-width="1"/>
<circle cx="120.83" cy="663.78" r="2.3" fill="#000" stroke="none" stroke-width="1"/>
<circle cx="121.25" cy="663.42" r="2.3" fill="#000" stroke="none" stroke-width="1"/>
<circle cx="121.66" cy="663.12" r="2.3" fill="#000" stroke="none" stroke-width="1"/>
<circle cx="122.07" cy="664.59" r="2.3" fill="#000" stroke="none" stroke-width="1"/>
<circle cx="122.49" cy="663.40" r="2.3" fill="#000" stroke="none" stroke-width="1"/>
<circle cx="122.90" cy="662.89" r="2.3" fill="#000" stroke="none" stroke-width="1"/>
<circle cx="123.32" cy="663.15" r="2.3" fill="#000" stroke="none" stroke-width="1"/>
<circle cx="123.73" cy="663.22" r="2.3" fill="#000" stroke="none" stroke-width="1"/>
<circle cx="124.15" cy="663.78" r="2.3" fill="#000" stroke="none" stroke-width="1"/>
<circle cx="124.56" cy="664.40" r="2.3" fill="#000" stroke="none" stroke-width="1"/>
<circle cx="124.98" cy="663.14" r="2.3" fill="#000" stroke="none" stroke-width="1"/>
<circle cx="125.39" cy="664.08" r="2.3" fill="#000" stroke="none" stroke-width="1"/>
<circle cx="125.80" cy="663.11" r="2.3" fill="#000" stroke="none" stroke-width="1"/>
<circle cx="126.22" cy="662.76" r="2.3" fill="#000" stroke="none" stroke-width="1"/>
<circle cx="126.63" cy="663.95" r="2.3" fill="#000" stroke="none" stroke-width="1"/>
<circle cx="127.05" cy="663.94" r="2.3" fill="#000" stroke="none" stroke-width="1"/>
<circle cx="127.46" cy="662.81" r="2.3" fill="#000" stroke="none" stroke-width="1"/>
<circle cx="127.88" cy="663.27" r="2.3" fill="#000" stroke="none" stroke-width="1"/>
<circle cx="128.29" cy="664.41" r="2.3" fill="#000" stroke="none" stroke-width="1"/>
<circle cx="128.70" cy="664.50" r="2.3" fill="#000" stroke="none" stroke-width="1"/>
<circle cx="129.12" cy="664.45" r="2.3" fill="#000" stroke="none" stroke-width="1"/>
<circle cx="129.53" cy="662.90" r="2.3" fill="#000" stroke="none" stroke-width="1"/>
<circle cx="129.95" cy="663.10" r="2.3" fill="#000" stroke="none" stroke-width="1"/>
<circle cx="130.36" cy="664.46" r="2.3" fill="#000" stroke="none" stroke-width="1"/>
<circle cx="130.78" cy="663.06" r="2.3" fill="#000" stroke="none" stroke-width="1"/>
<circle cx="131.19" cy="662.74" r="2.3" fill="#000" stroke="none" stroke-width="1"/>
<circle cx="131.61" cy="663.41" r="2.3" fill="#000" stroke="none" stroke-width="1"/>
<circle cx="132.02" cy="664.04" r="2.3" fill="#000" stroke="none" stroke-width="1"/>
<circle cx="132.43" cy="663.63" r="2.3" fill="#000" stroke="none" stroke-width="1"/>
<circle cx="132.85" cy="664.49" r="2.3" fill="#000" stroke="none" stroke-width="1"/>
<circle cx="133.26" cy="664.73" r="2.3" fill="#000" stroke="none" stroke-width="1"/>
<circle cx="133.68" cy="662.76" r="2.3" fill="#000" stroke="none" stroke-width="1"/>
<circle cx="134.09" cy="663.43" r="2.3" fill="#000" stroke="none" stroke-width="1"/>
<circle cx="134.51" cy="663.68" r="2.3" fill="#000" stroke="none" stroke-width="1"/>
<circle cx="134.92" cy="662.84" r="2.3" fill="#000" stroke="none" stroke-width="1"/>
<circle cx="135.33" cy="663.87" r="2.3" fill="#000" stroke="none" stroke-width="1"/>
<circle cx="135.75" cy="662.97" r="2.3" fill="#000" stroke="none" stroke-width="1"/>
<circle cx="136.16" cy="663.06" r="2.3" fill="#000" stroke="none" stroke-width="1"/>
<circle cx="136.58" cy="664.33" r="2.3" fill="#000" stroke="none" stroke-width="1"/>
<circle cx="136.99" cy="664.24" r="2.3" fill="#000" stroke="none" stroke-width="1"/>
<circle cx="137.41" cy="664.16" r="2.3" fill="#000" stroke="none" stroke-width="1"/>
<circle cx="137.82" cy="664.27" r="2.3" fill="#000" stroke="none" stroke-width="1"/>
<circle cx="138.24" cy="663.56" r="2.3" fill="#000" stroke="none" stroke-width="1"/>
<circle cx="138.65" cy="664.23" r="2.3" fill="#000" stroke="none" stroke-width="1"/>
<circle cx="139.06" cy="663.90" r="2.3" fill="#000" stroke="none" stroke-width="1"/>
<circle cx="139.48" cy="664.49" r="2.3" fill="#000" stroke="none" stroke-width="1"/>
<circle cx="139.89" cy="662.89" r="2.3" fill="#000" stroke="none" stroke-width="1"/>
<circle cx="140.31" cy="664.03" r="2.3" fill="#000" stroke="none" stroke-width="1"/>
<circle cx="140.72" cy="663.82" r="2.3" fill="#000" stroke="none" stroke-width="1"/>
<circle cx="141.14" cy="663.56" r="2.3" fill="#000" stroke="none" stroke-width="1"/>
<circle cx="141.55" cy="662.90" r="2.3" fill="#000" stroke="none" stroke-width="1"/>
<circle cx="141.96" cy="663.90" r="2.3" fill="#000" stroke="none" stroke-width="1"/>
<circle cx="142.38" cy="662.87" r="2.3" fill="#000" stroke="none" stroke-width="1"/>
<circle cx="142.79" cy="663.73" r="2.3" fill="#000" stroke="none" stroke-width="1"/>
<circle cx="143.21" cy="663.67" r="2.3" fill="#000" stroke="none" stroke-width="1"/>
<circle cx="143.62" cy="663.69" r="2.3" fill="#000" stroke="none" stroke-width="1"/>
<circle cx="144.04" cy="664.73" r="2.3" fill="#000" stroke="none" stroke-width="1"/>
<circle cx="144.45" cy="663.86" r="2.3" fill="#000" stroke="none" stroke-width="1"/>
<circle cx="144.87" cy="664.39" r="2.3" fill="#000" stroke="none" stroke-width="1"/>
<circle cx="145.28" cy="664.76" r="2.3" fill="#000" stroke="none" stroke-width="1"/>
<circle cx="145.69" cy="663.12" r="2.3" fill="#000" stroke="none" stroke-width="1"/>
<circle cx="146.11" cy="664.41" r="2.3" fill="#000" stroke="none" stroke-width="1"/>
<circle cx="146.52" cy="663.79" r="2.3" fill="#000" stroke="none" stroke-width="1"/>
<circle cx="146.94" cy="663.27" r="2.3" fill="#000" stroke="none" stroke-width="1"/>
<circle cx="147.35" cy="663.62" r="2.3" fill="#000" stroke="none" stroke-width="1"/>
<circle cx="147.77" cy="664.09" r="2.3" fill="#000" stroke="none" stroke-width="1"/>
<circle cx="148.18" cy="663.70" r="2.3" fill="#000" stroke="none" stroke-width="1"/>
<circle cx="148.59" cy="663.62" r="2.3" fill="#000" stroke="none" stroke-width="1"/>
<circle cx="149.01" cy="663.15" r="2.3" fill="#000" stroke="none" stroke-width="1"/>
<circle cx="149.42" cy="664.55" r="2.3" fill="#000" stroke="none" stroke-width="1"/>
<circle cx="39.20" cy="578.89" r="2.3" fill="#000" stroke="none" stroke-width="1"/>
<circle cx="39.48" cy="612.36" r="2.3" fill="#000" stroke="none" stroke-width="1"/>
<circle cx="39.61" cy="621.38" r="2.3" fill="#000" stroke="none" stroke-width="1"/>
<circle cx="39.75" cy="623.95" r="2.3" fill="#000" stroke="none" stroke-width="1"/>
<circle cx="40.03" cy="632.96" r="2.3" fill="#000" stroke="none" stroke-width="1"/>
<circle cx="40.30" cy="639.40" r="2.3" fill="#000" stroke="none" stroke-width="1"/>
<circle cx="46.11" cy="645.84" r="2.3" fill="#000" stroke="none" stroke-width="1"/>
<circle cx="41.96" cy="652.27" r="2.3" fill="#000" stroke="none" stroke-width="1"/>
<circle cx="43.34" cy="654.85" r="2.3" fill="#000" stroke="none" stroke-width="1"/>
<circle cx="47.49" cy="656.14" r="2.3" fill="#000" stroke="none" stroke-width="1"/>
<circle cx="51.63" cy="657.94" r="2.3" fill="#000" stroke="none" stroke-width="1"/>
<circle cx="54.39" cy="658.71" r="2.3" fill="#000" stroke="none" stroke-width="1"/>
<circle cx="56.47" cy="659.48" r="2.3" fill="#000" stroke="none" stroke-width="1"/>
<circle cx="142.79" cy="662.06" r="2.3" fill="#000" stroke="none" stroke-width="1"/>
<circle cx="76.49" cy="662.57" r="2.3" fill="#000" stroke="none" stroke-width="1"/>
<circle cx="84.78" cy="663.09" r="2.3" fill="#000" stroke="none" stroke-width="1"/>
<circle cx="40.58" cy="643.26" r="2.3" fill="#000" stroke="none" stroke-width="1"/>
<circle cx="40.86" cy="647.12" r="2.3" fill="#000" stroke="none" stroke-width="1"/>
<circle cx="41.27" cy="649.70" r="2.3" fill="#000" stroke="none" stroke-width="1"/>
<circle cx="57.85" cy="667.34" r="2.3" fill="#ee1111" stroke="none" stroke-width="1"/>
<circle cx="58.26" cy="667.99" r="2.3" fill="#ee1111" stroke="none" stroke-width="1"/>
<circle cx="58.68" cy="667.93" r="2.3" fill="#ee1111" stroke="none" stroke-width="1"/>
<circle cx="59.09" cy="666.91" r="2.3" fill="#ee1111" stroke="none" stroke-width="1"/>
<circle cx="59.50" cy="667.45" r="2.3" fill="#ee1111" stroke="none" stroke-width="1"/>
<circle cx="59.92" cy="667.34" r="2.3" fill="#ee1111" stroke="none" stroke-width="1"/>
<circle cx="60.33" cy="666.93" r="2.3" fill="#ee1111" stroke="none" stroke-width="1"/>
<circle cx="60.75" cy="666.62" r="2.3" fill="#ee1111" stroke="none" stroke-width="1"/>
<circle cx="61.16" cy="667.58" r="2.3" fill="#ee1111" stroke="none" stroke-width="1"/>
<circle cx="61.58" cy="667.24" r="2.3" fill="#ee1111" stroke="none" stroke-width="1"/>
<circle cx="61.99" cy="667.46" r="2.3" fill="#ee1111" stroke="none" stroke-width="1"/>
<circle cx="62.41" cy="667.44" r="2.3" fill="#ee1111" stroke="none" stroke-width="1"/>
<circle cx="62.82" cy="667.07" r="2.3" fill="#ee1111" stroke="none" stroke-width="1"/>
<circle cx="63.23" cy="667.57" r="2.3" fill="#ee1111" stroke="none" stroke-width="1"/>
<circle cx="63.65" cy="667.40" r="2.3" fill="#ee1111" stroke="none" stroke-width="1"/>
<circle cx="64.06" cy="667.51" r="2.3" fill="#ee1111" stroke="none" stroke-width="1"/>
<circle cx="64.48" cy="666.56" r="2.3" fill="#ee1111" stroke="none" stroke-width="1"/>
<circle cx="64.89" cy="667.06" r="2.3" fill="#ee1111" stroke="none" stroke-width="1"/>
<circle cx="65.31" cy="666.69" r="2.3" fill="#ee1111" stroke="none" stroke-width="1"/>
<circle cx="65.72" cy="666.56" r="2.3" fill="#ee1111" stroke="none" stroke-width="1"/>
<circle cx="66.13" cy="667.96" r="2.3" fill="#ee1111" stroke="none" stroke-width="1"/>
<circle cx="66.55" cy="667.34" r="2.3" fill="#ee1111" stroke="none" stroke-width="1"/>
<circle cx="66.96" cy="666.55" r="2.3" fill="#ee1111" stroke="none" stroke-width="1"/>
<circle cx="67.38" cy="666.77" r="2.3" fill="#ee1111" stroke="none" stroke-width="1"/>
<circle cx="67.79" cy="668.22" r="2.3" fill="#ee1111" stroke="none" stroke-width="1"/>
<circle cx="68.21" cy="668.25" r="2.3" fill="#ee1111" stroke="none" stroke-width="1"/>
<circle cx="68.62" cy="667.59" r="2.3" fill="#ee1111" stroke="none" stroke-width="1"/>
<circle cx="69.03" cy="668.35" r="2.3" fill="#ee1111" stroke="none" stroke-width="1"/>
<circle cx="69.45" cy="668.00" r="2.3" fill="#ee1111" stroke="none" stroke-width="1"/>
<circle cx="69.86" cy="668.35" r="2.3" fill="#ee1111" stroke="none" stroke-width="1"/>
<circle cx="70.28" cy="667.12" r="2.3" fill="#ee1111" stroke="none" stroke-width="1"/>
<circle cx="70.69" cy="666.88" r="2.3" fill="#ee1111" stroke="none" stroke-width="1"/>
<circle cx="71.11" cy="666.65" r="2.3" fill="#ee1111" stroke="none" stroke-width="1"/>
<circle cx="71.52" cy="668.18" r="2.3" fill="#ee1111" stroke="none" stroke-width="1"/>
<circle cx="71.94" cy="667.02" r="2.3" fill="#ee1111" stroke="none" stroke-width="1"/>
<circle cx="72.35" cy="667.14" r="2.3" fill="#ee1111" stroke="none" stroke-width="1"/>
<circle cx="72.76" cy="668.20" r="2.3" fill="#ee1111" stroke="none" stroke-width="1"/>
<circle cx="73.18" cy="666.68" r="2.3" fill="#ee1111" stroke="none" stroke-width="1"/>
<circle cx="73.59" cy="666.50" r="2.3" fill="#ee1111" stroke="none" stroke-width="1"/>
<circle cx="74.01" cy="668.05" r="2.3" fill="#ee1111" stroke="none" stroke-width="1"/>
<circle cx="74.42" cy="666.54" r="2.3" fill="#ee1111" stroke="none" stroke-width="1"/>
<circle cx="74.84" cy="667.68" r="2.3" fill="#ee1111" stroke="none" stroke-width="1"/>
<circle cx="75.25" cy="667.49" r="2.3" fill="#ee1111" stroke="none" stroke-width="1"/>
<circle cx="75.66" cy="666.46" r="2.3" fill="#ee1111" stroke="none" stroke-width="1"/>
<circle cx="76.08" cy="666.78" r="2.3" fill="#ee1111" stroke="none" stroke-width="1"/>
<circle cx="76.49" cy="668.16" r="2.3" fill="#ee1111" stroke="none" stroke-width="1"/>
<circle cx="76.91" cy="667.61" r="2.3" fill="#ee1111" stroke="none" stroke-width="1"/>
<circle cx="77.32" cy="667.44" r="2.3" fill="#ee1111" stroke="none" stroke-width="1"/>
<circle cx="77.74" cy="667.80" r="2.3" fill="#ee1111" stroke="none" stroke-width="1"/>
<circle cx="78.15" cy="668.09" r="2.3" fill="#ee1111" stroke="none" stroke-width="1"/>
<circle cx="78.57" cy="667.84" r="2.3" fill="#ee1111" stroke="none" stroke-width="1"/>
<circle cx="78.98" cy="667.01" r="2.3" fill="#ee1111" stroke="none" stroke-width="1"/>
<circle cx="79.39" cy="668.46" r="2.3" fill="#ee1111" stroke="none" stroke-width="1"/>
<circle cx="79.81" cy="667.36" r="2.3" fill="#ee1111" stroke="none" stroke-width="1"/>
<circle cx="80.22" cy="667.59" r="2.3" fill="#ee1111" stroke="none" stroke-width="1"/>
<circle cx="80.64" cy="668.46" r="2.3" fill="#ee1111" stroke="none" stroke-width="1"/>
<circle cx="81.05" cy="667.81" r="2.3" fill="#ee1111" stroke="none" stroke-width="1"/>
<circle cx="81.47" cy="667.21" r="2.3" fill="#ee1111" stroke="none" stroke-width="1"/>
<circle cx="81.88" cy="667.44" r="2.3" fill="#ee1111" stroke="none" stroke-width="1"/>
<circle cx="82.29" cy="668.37" r="2.3" fill="#ee1111" stroke="none" stroke-width="1"/>
<circle cx="82.71" cy="666.47" r="2.3" fill="#ee1111" stroke="none" stroke-width="1"/>
<circle cx="83.12" cy="666.87" r="2.3" fill="#ee1111" stroke="none" stroke-width="1"/>
<circle cx="83.54" cy="666.50" r="2.3" fill="#ee1111" stroke="none" stroke-width="1"/>
<circle cx="83.95" cy="668.28" r="2.3" fill="#ee1111" stroke="none" stroke-width="1"/>
<circle cx="84.37" cy="667.95" r="2.3" fill="#ee1111" stroke="none" stroke-width="1"/>
<circle cx="84.78" cy="668.42" r="2.3" fill="#ee1111" stroke="none" stroke-width="1"/>
<circle cx="85.20" cy="666.89" r="2.3" fill="#ee1111" stroke="none" stroke-width="1"/>
<circle cx="85.61" cy="667.94" r="2.3" fill="#ee1111" stroke="none" stroke-width="1"/>
<circle cx="86.02" cy="668.23" r="2.3" fill="#ee1111" stroke="none" stroke-width="1"/>
<circle cx="86.44" cy="667.63" r="2.3" fill="#ee1111" stroke="none" stroke-width="1"/>
<circle cx="86.85" cy="666.62" r="2.3" fill="#ee1111" stroke="none" stroke-width="1"/>
<circle cx="87.27" cy="666.81" r="2.3" fill="#ee1111" stroke="none" stroke-width="1"/>
<circle cx="87.68" cy="667.96" r="2.3" fill="#ee1111" stroke="none" stroke-width="1"/>
<circle cx="88.10" cy="668.19" r="2.3" fill="#ee1111" stroke="none" stroke-width="1"/>
<circle cx="88.51" cy="666.60" r="2.3" fill="#ee1111" stroke="none" stroke-width="1"/>
<circle cx="88.92" cy="667.32" r="2.3" fill="#ee1111" stroke="none" stroke-width="1"/>
<circle cx="89.34" cy="667.05" r="2.3" fill="#ee1111" stroke="none" stroke-width="1"/>
<circle cx="89.75" cy="668.31" r="2.3" fill="#ee1111" stroke="none" stroke-width="1"/>
<circle cx="90.17" cy="668.38" r="2.3" fill="#ee1111" stroke="none" stroke-width="1"/>
<circle cx="90.58" cy="667.08" r="2.3" fill="#ee1111" stroke="none" stroke-width="1"/>
<circle cx="91.00" cy="667.62" r="2.3" fill="#ee1111" stroke="none" stroke-width="1"/>
<circle cx="91.41" cy="668.35" r="2.3" fill="#ee1111" stroke="none" stroke-width="1"/>
<circle cx="91.83" cy="666.56" r="2.3" fill="#ee1111" stroke="none" stroke-width="1"/>
<circle cx="92.24" cy="667.19" r="2.3" fill="#ee1111" stroke="none" stroke-width="1"/>
<circle cx="92.65" cy="666.85" r="2.3" fill="#ee1111" stroke="none" stroke-width="1"/>
<circle cx="93.07" cy="668.32" r="2.3" fill="#ee1111" stroke="none" stroke-width="1"/>
<circle cx="93.48" cy="666.73" r="2.3" fill="#ee1111" stroke="none" stroke-width="1"/>
<circle cx="93.90" cy="668.36" r="2.3" fill="#ee1111" stroke="none" stroke-width="1"/>
<circle cx="94.31" cy="666.72" r="2.3" fill="#ee1111" stroke="none" stroke-width="1"/>
<circle cx="94.73" cy="667.56" r="2.3" fill="#ee1111" stroke="none" stroke-width="1"/>
<circle cx="95.14" cy="667.80" r="2.3" fill="#ee1111" stroke="none" stroke-width="1"/>
<circle cx="95.55" cy="667.36" r="2.3" fill="#ee1111" stroke="none" stroke-width="1"/>
<circle cx="95.97" cy="666.59" r="2.3" fill="#ee1111" stroke="none" stroke-width="1"/>
<circle cx="96.38" cy="667.95" r="2.3" fill="#ee1111" stroke="none" stroke-width="1"/>
<circle cx="96.80" cy="668.23" r="2.3" fill="#ee1111" stroke="none" stroke-width="1"/>
<circle cx="97.21" cy="667.41" r="2.3" fill="#ee1111" stroke="none" stroke-width="1"/>
<circle cx="97.63" cy="668.01" r="2.3" fill="#ee1111" stroke="none" stroke-width="1"/>
<circle cx="98.04" cy="668.27" r="2.3" fill="#ee1111" stroke="none" stroke-width="1"/>
<circle cx="98.46" cy="668.16" r="2.3" fill="#ee1111" stroke="none" stroke-width="1"/>
<circle cx="98.87" cy="668.39" r="2.3" fill="#ee1111" stroke="none" stroke-width="1"/>
<circle cx="99.28" cy="668.08" r="2.3" fill="#ee1111" stroke="none" stroke-width="1"/>
<circle cx="99.70" cy="667.85" r="2.3" fill="#ee1111" stroke="none" stroke-width="1"/>
<circle cx="100.11" cy="667.87" r="2.3" fill="#ee1111" stroke="none" stroke-width="1"/>
<circle cx="100.53" cy="666.93" r="2.3" fill="#ee1111" stroke="none" stroke-width="1"/>
<circle cx="100.94" cy="667.90" r="2.3" fill="#ee1111" stroke="none" stroke-width="1"/>
<circle cx="101.36" cy="667.47" r="2.3" fill="#ee1111" stroke="none" stroke-width="1"/>
<circle cx="101.77" cy="668.13" r="2.3" fill="#ee1111" stroke="none" stroke-width="1"/>
<circle cx="102.19" cy="667.78" r="2.3" fill="#ee1111" stroke="none" stroke-width="1"/>
<circle cx="102.60" cy="668.46" r="2.3" fill="#ee1111" stroke="none" stroke-width="1"/>
<circle cx="103.01" cy="667.98" r="2.3" fill="#ee1111" stroke="none" stroke-width="1"/>
<circle cx="103.43" cy="668.47" r="2.3" fill="#ee1111" stroke="none" stroke-width="1"/>
<circle cx="103.84" cy="666.99" r="2.3" fill="#ee1111" stroke="none" stroke-width="1"/>
<circle cx="104.26" cy="667.36" r="2.3" fill="#ee1111" stroke="none" stroke-width="1"/>
<circle cx="104.67" cy="668.11" r="2.3" fill="#ee1111" stroke="none" stroke-width="1"/>
<circle cx="105.09" cy="667.52" r="2.3" fill="#ee1111" stroke="none" stroke-width="1"/>
<circle cx="105.50" cy="666.57" r="2.3" fill="#ee1111" stroke="none" stroke-width="1"/>
<circle cx="105.91" cy="668.28" r="2.3" fill="#ee1111" stroke="none" stroke-width="1"/>
<circle cx="106.33" cy="666.81" r="2.3" fill="#ee1111" stroke="none" stroke-width="1"/>
<circle cx="106.74" cy="667.61" r="2.3" fill="#ee1111" stroke="none" stroke-width="1"/>
<circle cx="107.16" cy="667.48" r="2.3" fill="#ee1111" stroke="none" stroke-width="1"/>
<circle cx="107.57" cy="666.78" r="2.3" fill="#ee1111" stroke="none" stroke-width="1"/>
<circle cx="107.99" cy="667.69" r="2.3" fill="#ee1111" stroke="none" stroke-width="1"/>
<circle cx="108.40" cy="667.45" r="2.3" fill="#ee1111" stroke="none" stroke-width="1"/>
<circle cx="108.81" cy="667.08" r="2.3" fill="#ee1111" stroke="none" stroke-width="1"/>
<circle cx="109.23" cy="666.47" r="2.3" fill="#ee1111" stroke="none" stroke-width="1"/>
<circle cx="109.64" cy="667.79" r="2.3" fill="#ee1111" stroke="none" stroke-width="1"/>
<circle cx="110.06" cy="666.78" r="2.3" fill="#ee1111" stroke="none" stroke-width="1"/>
<circle cx="110.47" cy="667.04" r="2.3" fill="#ee1111" stroke="none" stroke-width="1"/>
<circle cx="110.89" cy="667.19" r="2.3" fill="#ee1111" stroke="none" stroke-width="1"/>
<circle cx="111.30" cy="667.66" r="2.3" fill="#ee1111" stroke="none" stroke-width="1"/>
<circle cx="111.72" cy="667.78" r="2.3" fill="#ee1111" stroke="none" stroke-width="1"/>
<circle cx="112.13" cy="668.39" r="2.3" fill="#ee1111" stroke="none" stroke-width="1"/>
<circle cx="112.54" cy="668.23" r="2.3" fill="#ee1111" stroke="none" stroke-width="1"/>
<circle cx="112.96" cy="668.35" r="2.3" fill="#ee1111" stroke="none" stroke-width="1"/>
<circle cx="113.37" cy="666.97" r="2.3" fill="#ee1111" stroke="none" stroke-width="1"/>
<circle cx="113.79" cy="667.97" r="2.3" fill="#ee1111" stroke="none" stroke-width="1"/>
<circle cx="114.20" cy="668.16" r="2.3" fill="#ee1111" stroke="none" stroke-width="1"/>
<circle cx="114.62" cy="668.32" r="2.3" fill="#ee1111" stroke="none" stroke-width="1"/>
<circle cx="115.03" cy="666.76" r="2.3" fill="#ee1111" stroke="none" stroke-width="1"/>
<circle cx="115.44" cy="666.70" r="2.3" fill="#ee1111" stroke="none" stroke-width="1"/>
<circle cx="115.86" cy="667.12" r="2.3" fill="#ee1111" stroke="none" stroke-width="1"/>
<circle cx="116.27" cy="667.92" r="2.3" fill="#ee1111" stroke="none" stroke-width="1"/>
<circle cx="116.69" cy="668.00" r="2.3" fill="#ee1111" stroke="none" stroke-width="1"/>
<circle cx="117.10" cy="667.89" r="2.3" fill="#ee1111" stroke="none" stroke-width="1"/>
<circle cx="117.52" cy="667.55" r="2.3" fill="#ee1111" stroke="none" stroke-width="1"/>
<circle cx="117.93" cy="668.17" r="2.3" fill="#ee1111" stroke="none" stroke-width="1"/>
<circle cx="118.35" cy="667.58" r="2.3" fill="#ee1111" stroke="none" stroke-width="1"/>
<circle cx="118.76" cy="667.96" r="2.3" fill="#ee1111" stroke="none" stroke-width="1"/>
<circle cx="119.17" cy="666.52" r="2.3" fill="#ee1111" stroke="none" stroke-width="1"/>
<circle cx="119.59" cy="666.49" r="2.3" fill="#ee1111" stroke="none" stroke-width="1"/>
<circle cx="120.00" cy="667.37" r="2.3" fill="#ee1111" stroke="none" stroke-width="1"/>
<circle cx="120.42" cy="667.99" r="2.3" fill="#ee1111" stroke="none" stroke-width="1"/>
<circle cx="120.83" cy="666.51" r="2.3" fill="#ee1111" stroke="none" stroke-width="1"/>
<circle cx="121.25" cy="667.86" r="2.3" fill="#ee1111" stroke="none" stroke-width="1"/>
<circle cx="121.66" cy="667.76" r="2.3" fill="#ee1111" stroke="none" stroke-width="1"/>
<circle cx="122.07" cy="668.50" r="2.3" fill="#ee1111" stroke="none" stroke-width="1"/>
<circle cx="122.49" cy="667.71" r="2.3" fill="#ee1111" stroke="none" stroke-width="1"/>
<circle cx="122.90" cy="667.52" r="2.3" fill="#ee1111" stroke="none" stroke-width="1"/>
<circle cx="123.32" cy="667.46" r="2.3" fill="#ee1111" stroke="none" stroke-width="1"/>
<circle cx="123.73" cy="668.08" r="2.3" fill="#ee1111" stroke="none" stroke-width="1"/>
<circle cx="124.15" cy="667.46" r="2.3" fill="#ee1111" stroke="none" stroke-width="1"/>
<circle cx="124.56" cy="668.49" r="2.3" fill="#ee1111" stroke="none" stroke-width="1"/>
<circle cx="124.98" cy="667.95" r="2.3" fill="#ee1111" stroke="none" stroke-width="1"/>
<circle cx="125.39" cy="668.31" r="2.3" fill="#ee1111" stroke="none" stroke-width="1"/>
<circle cx="125.80" cy="667.67" r="2.3" fill="#ee1111" stroke="none" stroke-width="1"/>
<circle cx="126.22" cy="668.41" r="2.3" fill="#ee1111" stroke="none" stroke-width="1"/>
<circle cx="126.63" cy="668.45" r="2.3" fill="#ee1111" stroke="none" stroke-width="1"/>
<circle cx="127.05" cy="667.87" r="2.3" fill="#ee1111" stroke="none" stroke-width="1"/>
<circle cx="127.46" cy="668.02" r="2.3" fill="#ee1111" stroke="none" stroke-width="1"/>
<circle cx="127.88" cy="667.29" r="2.3" fill="#ee1111" stroke="none" stroke-width="1"/>
<circle cx="128.29" cy="667.41" r="2.3" fill="#ee1111" stroke="none" stroke-width="1"/>
<circle cx="128.70" cy="666.95" r="2.3" fill="#ee1111" stroke="none" stroke-width="1"/>
<circle cx="129.12" cy="667.14" r="2.3" fill="#ee1111" stroke="none" stroke-width="1"/>
<circle cx="129.53" cy="667.02" r="2.3" fill="#ee1111" stroke="none" stroke-width="1"/>
<circle cx="129.95" cy="666.69" r="2.3" fill="#ee1111" stroke="none" stroke-width="1"/>
<circle cx="130.36" cy="667.70" r="2.3" fill="#ee1111" stroke="none" stroke-width="1"/>
<circle cx="130.78" cy="667.83" r="2.3" fill="#ee1111" stroke="none" stroke-width="1"/>
<circle cx="131.19" cy="666.47" r="2.3" fill="#ee1111" stroke="none" stroke-width="1"/>
<circle cx="131.61" cy="668.19" r="2.3" fill="#ee1111" stroke="none" stroke-width="1"/>
<circle cx="132.02" cy="667.01" r="2.3" fill="#ee1111" stroke="none" stroke-width="1"/>
<circle cx="132.43" cy="667.17" r="2.3" fill="#ee1111" stroke="none" stroke-width="1"/>
<circle cx="132.85" cy="668.41" r="2.3" fill="#ee1111" stroke="none" stroke-width="1"/>
<circle cx="133.26" cy="666.78" r="2.3" fill="#ee1111" stroke="none" stroke-width="1"/>
<circle cx="133.68" cy="666.66" r="2.3" fill="#ee1111" stroke="none" stroke-width="1"/>
<circle cx="134.09" cy="667.21" r="2.3" fill="#ee1111" stroke="none" stroke-width="1"/>
<circle cx="134.51" cy="666.99" r="2.3" fill="#ee1111" stroke="none" stroke-width="1"/>
<circle cx="134.92" cy="666.82" r="2.3" fill="#ee1111" stroke="none" stroke-width="1"/>
<circle cx="135.33" cy="668.21" r="2.3" fill="#ee1111" stroke="none" stroke-width="1"/>
<circle cx="135.75" cy="667.42" r="2.3" fill="#ee1111" stroke="none" stroke-width="1"/>
<circle cx="136.16" cy="667.46" r="2.3" fill="#ee1111" stroke="none" stroke-width="1"/>
<circle cx="136.58" cy="666.78" r="2.3" fill="#ee1111" stroke="none" stroke-width="1"/>
<circle cx="136.99" cy="666.84" r="2.3" fill="#ee1111" stroke="none" stroke-width="1"/>
<circle cx="137.41" cy="666.80" r="2.3" fill="#ee1111" stroke="none" stroke-width="1"/>
<circle cx="137.82" cy="667.29" r="2.3" fill="#ee1111" stroke="none" stroke-width="1"/>
<circle cx="138.24" cy="666.66" r="2.3" fill="#ee1111" stroke="none" stroke-width="1"/>
<circle cx="138.65" cy="667.09" r="2.3" fill="#ee1111" stroke="none" stroke-width="1"/>
<circle cx="139.06" cy="667.07" r="2.3" fill="#ee1111" stroke="none" stroke-width="1"/>
<circle cx="139.48" cy="668.02" r="2.3" fill="#ee1111" stroke="none" stroke-width="1"/>
<circle cx="139.89" cy="668.43" r="2.3" fill="#ee1111" stroke="none" stroke-width="1"/>
<circle cx="140.31" cy="668.22" r="2.3" fill="#ee1111" stroke="none" stroke-width="1"/>
<circle cx="140.72" cy="667.75" r="2.3" fill="#ee1111" stroke="none" stroke-width="1"/>
<circle cx="141.14" cy="668.28" r="2.3" fill="#ee1111" stroke="none" stroke-width="1"/>
<circle cx="141.55" cy="666.78" r="2.3" fill="#ee1111" stroke="none" stroke-width="1"/>
<circle cx="141.96" cy="667.35" r="2.3" fill="#ee1111" stroke="none" stroke-width="1"/>
<circle cx="142.38" cy="667.20" r="2.3" fill="#ee1111" stroke="none" stroke-width="1"/>
<circle cx="142.79" cy="667.21" r="2.3" fill="#ee1111" stroke="none" stroke-width="1"/>
<circle cx="143.21" cy="667.10" r="2.3" fill="#ee1111" stroke="none" stroke-width="1"/>
<circle cx="143.62" cy="667.49" r="2.3" fill="#ee1111" stroke="none" stroke-width="1"/>
<circle cx="144.04" cy="668.49" r="2.3" fill="#ee1111" stroke="none" stroke-width="1"/>
<circle cx="144.45" cy="666.85" r="2.3" fill="#ee1111" stroke="none" stroke-width="1"/>
<circle cx="144.87" cy="666.96" r="2.3" fill="#ee1111" stroke="none" stroke-width="1"/>
<circle cx="145.28" cy="667.46" r="2.3" fill="#ee1111" stroke="none" stroke-width="1"/>
<circle cx="145.69" cy="667.39" r="2.3" fill="#ee1111" stroke="none" stroke-width="1"/>
<circle cx="146.11" cy="667.14" r="2.3" fill="#ee1111" stroke="none" stroke-width="1"/>
<circle cx="146.52" cy="668.36" r="2.3" fill="#ee1111" stroke="none" stroke-width="1"/>
<circle cx="146.94" cy="666.98" r="2.3" fill="#ee1111" stroke="none" stroke-width="1"/>
<circle cx="147.35" cy="667.98" r="2.3" fill="#ee1111" stroke="none" stroke-width="1"/>
<circle cx="147.77" cy="668.34" r="2.3" fill="#ee1111" stroke="none" stroke-width="1"/>
<circle cx="148.18" cy="667.95" r="2.3" fill="#ee1111" stroke="none" stroke-width="1"/>
<circle cx="148.59" cy="667.00" r="2.3" fill="#ee1111" stroke="none" stroke-width="1"/>
<circle cx="149.01" cy="668.07" r="2.3" fill="#ee1111" stroke="none" stroke-width="1"/>
<circle cx="149.42" cy="666.97" r="2.3" fill="#ee1111" stroke="none" stroke-width="1"/>
<circle cx="57.39" cy="668.41" r="2.3" fill="#ee1111" stroke="none" stroke-width="1"/>
<circle cx="46.33" cy="666.53" r="2.3" fill="#ee1111" stroke="none" stroke-width="1"/>
<circle cx="51.95" cy="667.36" r="2.3" fill="#ee1111" stroke="none" stroke-width="1"/>
<circle cx="50.70" cy="667.37" r="2.3" fill="#ee1111" stroke="none" stroke-width="1"/>
<circle cx="40.64" cy="666.79" r="2.3" fill="#ee1111" stroke="none" stroke-width="1"/>
<circle cx="43.94" cy="663.05" r="2.3" fill="#ee1111" stroke="none" stroke-width="1"/>
<circle cx="44.88" cy="665.18" r="2.3" fill="#ee1111" stroke="none" stroke-width="1"/>
<circle cx="39.43" cy="667.85" r="2.3" fill="#ee1111" stroke="none" stroke-width="1"/>
<circle cx="44.21" cy="663.89" r="2.3" fill="#ee1111" stroke="none" stroke-width="1"/>
<circle cx="52.11" cy="667.59" r="2.3" fill="#ee1111" stroke="none" stroke-width="1"/>
<circle cx="44.62" cy="665.36" r="2.3" fill="#ee1111" stroke="none" stroke-width="1"/>
<circle cx="47.86" cy="667.15" r="2.3" fill="#ee1111" stroke="none" stroke-width="1"/>
<circle cx="41.41" cy="657.40" r="2.3" fill="#ee1111" stroke="none" stroke-width="1"/>
<circle cx="42.92" cy="659.50" r="2.3" fill="#ee1111" stroke="none" stroke-width="1"/>
<circle cx="56.66" cy="668.99" r="2.3" fill="#ee1111" stroke="none" stroke-width="1"/>
<circle cx="47.76" cy="665.68" r="2.3" fill="#ee1111" stroke="none" stroke-width="1"/>
<circle cx="57.25" cy="668.46" r="2.3" fill="#ee1111" stroke="none" stroke-width="1"/>
<circle cx="44.21" cy="667.41" r="2.3" fill="#ee1111" stroke="none" stroke-width="1"/>
<circle cx="56.83" cy="668.74" r="2.3" fill="#ee1111" stroke="none" stroke-width="1"/>
<circle cx="50.04" cy="668.61" r="2.3" fill="#ee1111" stroke="none" stroke-width="1"/>
<circle cx="48.97" cy="665.84" r="2.3" fill="#ee1111" stroke="none" stroke-width="1"/>
<circle cx="41.67" cy="658.88" r="2.3" fill="#ee1111" stroke="none" stroke-width="1"/>
<circle cx="48.69" cy="665.92" r="2.3" fill="#ee1111" stroke="none" stroke-width="1"/>
<circle cx="52.32" cy="668.54" r="2.3" fill="#ee1111" stroke="none" stroke-width="1"/>
<circle cx="55.94" cy="668.34" r="2.3" fill="#ee1111" stroke="none" stroke-width="1"/>
<circle cx="39.66" cy="668.95" r="2.3" fill="#ee1111" stroke="none" stroke-width="1"/>
<circle cx="48.37" cy="667.36" r="2.3" fill="#ee1111" stroke="none" stroke-width="1"/>
<circle cx="44.83" cy="668.06" r="2.3" fill="#ee1111" stroke="none" stroke-width="1"/>
<circle cx="45.61" cy="667.15" r="2.3" fill="#ee1111" stroke="none" stroke-width="1"/>
<circle cx="54.87" cy="669.01" r="2.3" fill="#ee1111" stroke="none" stroke-width="1"/>
<circle cx="53.20" cy="667.47" r="2.3" fill="#ee1111" stroke="none" stroke-width="1"/>
<circle cx="41.44" cy="657.04" r="2.3" fill="#ee1111" stroke="none" stroke-width="1"/>
<circle cx="52.50" cy="667.20" r="2.3" fill="#ee1111" stroke="none" stroke-width="1"/>
<circle cx="44.60" cy="666.37" r="2.3" fill="#ee1111" stroke="none" stroke-width="1"/>
<circle cx="46.53" cy="664.00" r="2.3" fill="#ee1111" stroke="none" stroke-width="1"/>
<circle cx="50.19" cy="668.02" r="2.3" fill="#ee1111" stroke="none" stroke-width="1"/>
<circle cx="47.18" cy="667.78" r="2.3" fill="#ee1111" stroke="none" stroke-width="1"/>
<circle cx="40.10" cy="667.30" r="2.3" fill="#ee1111" stroke="none" stroke-width="1"/>
<circle cx="54.76" cy="668.57" r="2.3" fill="#ee1111" stroke="none" stroke-width="1"/>
<circle cx="56.65" cy="668.69" r="2.3" fill="#ee1111" stroke="none" stroke-width="1"/>
<circle cx="44.15" cy="665.08" r="2.3" fill="#ee1111" stroke="none" stroke-width="1"/>
<circle cx="42.74" cy="665.26" r="2.3" fill="#ee1111" stroke="none" stroke-width="1"/>
<circle cx="57.03" cy="667.90" r="2.3" fill="#ee1111" stroke="none" stroke-width="1"/>
<circle cx="54.34" cy="667.99" r="2.3" fill="#ee1111" stroke="none" stroke-width="1"/>
<circle cx="56.23" cy="667.75" r="2.3" fill="#ee1111" stroke="none" stroke-width="1"/>
<circle cx="49.44" cy="666.79" r="2.3" fill="#ee1111" stroke="none" stroke-width="1"/>
<circle cx="40.12" cy="656.76" r="2.3" fill="#ee1111" stroke="none" stroke-width="1"/>
<circle cx="47.61" cy="665.88" r="2.3" fill="#ee1111" stroke="none" stroke-width="1"/>
<circle cx="51.22" cy="668.33" r="2.3" fill="#ee1111" stroke="none" stroke-width="1"/>
<circle cx="40.11" cy="653.48" r="2.3" fill="#ee1111" stroke="none" stroke-width="1"/>
<circle cx="41.57" cy="663.07" r="2.3" fill="#ee1111" stroke="none" stroke-width="1"/>
<circle cx="45.61" cy="667.25" r="2.3" fill="#ee1111" stroke="none" stroke-width="1"/>
<circle cx="52.98" cy="667.17" r="2.3" fill="#ee1111" stroke="none" stroke-width="1"/>
<circle cx="44.05" cy="663.86" r="2.3" fill="#ee1111" stroke="none" stroke-width="1"/>
<circle cx="44.81" cy="665.21" r="2.3" fill="#ee1111" stroke="none" stroke-width="1"/>
<circle cx="46.55" cy="668.18" r="2.3" fill="#ee1111" stroke="none" stroke-width="1"/>
<circle cx="42.21" cy="666.70" r="2.3" fill="#ee1111" stroke="none" stroke-width="1"/>
<circle cx="56.09" cy="668.34" r="2.3" fill="#ee1111" stroke="none" stroke-width="1"/>
<circle cx="43.30" cy="660.82" r="2.3" fill="#ee1111" stroke="none" stroke-width="1"/>
<circle cx="57.78" cy="668.48" r="2.3" fill="#ee1111" stroke="none" stroke-width="1"/>
<circle cx="41.80" cy="666.70" r="2.3" fill="#ee1111" stroke="none" stroke-width="1"/>
<circle cx="40.89" cy="664.09" r="2.3" fill="#ee1111" stroke="none" stroke-width="1"/>
<circle cx="40.90" cy="665.58" r="2.3" fill="#ee1111" stroke="none" stroke-width="1"/>
<circle cx="44.02" cy="664.51" r="2.3" fill="#ee1111" stroke="none" stroke-width="1"/>
<circle cx="55.74" cy="667.96" r="2.3" fill="#ee1111" stroke="none" stroke-width="1"/>
<circle cx="46.90" cy="667.07" r="2.3" fill="#ee1111" stroke="none" stroke-width="1"/>
<circle cx="48.97" cy="667.76" r="2.3" fill="#ee1111" stroke="none" stroke-width="1"/>
<circle cx="45.51" cy="668.64" r="2.3" fill="#ee1111" stroke="none" stroke-width="1"/>
<circle cx="44.37" cy="661.86" r="2.3" fill="#ee1111" stroke="none" stroke-width="1"/>
<circle cx="41.55" cy="662.64" r="2.3" fill="#ee1111" stroke="none" stroke-width="1"/>
<circle cx="50.94" cy="666.88" r="2.3" fill="#ee1111" stroke="none" stroke-width="1"/>
<circle cx="43.23" cy="666.53" r="2.3" fill="#ee1111" stroke="none" stroke-width="1"/>
<circle cx="43.83" cy="665.74" r="2.3" fill="#ee1111" stroke="none" stroke-width="1"/>
<circle cx="47.51" cy="664.98" r="2.3" fill="#ee1111" stroke="none" stroke-width="1"/>
<circle cx="55.03" cy="667.70" r="2.3" fill="#ee1111" stroke="none" stroke-width="1"/>
<circle cx="39.61" cy="668.42" r="2.3" fill="#ee1111" stroke="none" stroke-width="1"/>
<circle cx="52.43" cy="667.20" r="2.3" fill="#ee1111" stroke="none" stroke-width="1"/>
<circle cx="48.02" cy="666.73" r="2.3" fill="#ee1111" stroke="none" stroke-width="1"/>
<circle cx="39.20" cy="661.15" r="2.3" fill="#ee1111" stroke="none" stroke-width="1"/>
<circle cx="56.48" cy="667.93" r="2.3" fill="#ee1111" stroke="none" stroke-width="1"/>
<circle cx="55.15" cy="667.57" r="2.3" fill="#ee1111" stroke="none" stroke-width="1"/>
<circle cx="43.83" cy="668.12" r="2.3" fill="#ee1111" stroke="none" stroke-width="1"/>
<circle cx="42.08" cy="663.05" r="2.3" fill="#ee1111" stroke="none" stroke-width="1"/>
<circle cx="51.92" cy="666.98" r="2.3" fill="#ee1111" stroke="none" stroke-width="1"/>
<circle cx="52.66" cy="667.74" r="2.3" fill="#ee1111" stroke="none" stroke-width="1"/>
<circle cx="53.46" cy="668.20" r="2.3" fill="#ee1111" stroke="none" stroke-width="1"/>
<circle cx="49.48" cy="668.89" r="2.3" fill="#ee1111" stroke="none" stroke-width="1"/>
<circle cx="53.79" cy="668.61" r="2.3" fill="#ee1111" stroke="none" stroke-width="1"/>
<circle cx="56.35" cy="668.16" r="2.3" fill="#ee1111" stroke="none" stroke-width="1"/>
<circle cx="44.86" cy="668.15" r="2.3" fill="#ee1111" stroke="none" stroke-width="1"/>
<circle cx="43.90" cy="663.87" r="2.3" fill="#ee1111" stroke="none" stroke-width="1"/>
<circle cx="52.23" cy="668.78" r="2.3" fill="#ee1111" stroke="none" stroke-width="1"/>
<circle cx="40.51" cy="660.89" r="2.3" fill="#ee1111" stroke="none" stroke-width="1"/>
<circle cx="50.07" cy="667.92" r="2.3" fill="#ee1111" stroke="none" stroke-width="1"/>
<circle cx="43.37" cy="663.65" r="2.3" fill="#ee1111" stroke="none" stroke-width="1"/>
<circle cx="39.40" cy="663.19" r="2.3" fill="#ee1111" stroke="none" stroke-width="1"/>
<circle cx="47.79" cy="665.14" r="2.3" fill="#ee1111" stroke="none" stroke-width="1"/>
<circle cx="51.22" cy="666.91" r="2.3" fill="#ee1111" stroke="none" stroke-width="1"/>
<circle cx="48.06" cy="668.11" r="2.3" fill="#ee1111" stroke="none" stroke-width="1"/>
<circle cx="43.81" cy="661.12" r="2.3" fill="#ee1111" stroke="none" stroke-width="1"/>
<circle cx="52.34" cy="668.38" r="2.3" fill="#ee1111" stroke="none" stroke-width="1"/>
<circle cx="39.61" cy="659.78" r="2.3" fill="#ee1111" stroke="none" stroke-width="1"/>
<circle cx="51.78" cy="668.09" r="2.3" fill="#ee1111" stroke="none" stroke-width="1"/>
<circle cx="44.00" cy="663.72" r="2.3" fill="#ee1111" stroke="none" stroke-width="1"/>
<circle cx="56.45" cy="668.71" r="2.3" fill="#ee1111" stroke="none" stroke-width="1"/>
<circle cx="39.84" cy="663.03" r="2.3" fill="#ee1111" stroke="none" stroke-width="1"/>
<circle cx="47.04" cy="665.88" r="2.3" fill="#ee1111" stroke="none" stroke-width="1"/>
<circle cx="42.89" cy="661.23" r="2.3" fill="#ee1111" stroke="none" stroke-width="1"/>
<circle cx="52.98" cy="668.06" r="2.3" fill="#ee1111" stroke="none" stroke-width="1"/>
<circle cx="43.03" cy="659.78" r="2.3" fill="#ee1111" stroke="none" stroke-width="1"/>
<circle cx="45.01" cy="663.62" r="2.3" fill="#ee1111" stroke="none" stroke-width="1"/>
<circle cx="43.50" cy="667.09" r="2.3" fill="#ee1111" stroke="none" stroke-width="1"/>
<circle cx="53.38" cy="668.48" r="2.3" fill="#ee1111" stroke="none" stroke-width="1"/>
<circle cx="56.95" cy="668.39" r="2.3" fill="#ee1111" stroke="none" stroke-width="1"/>
<circle cx="42.69" cy="666.75" r="2.3" fill="#ee1111" stroke="none" stroke-width="1"/>
<circle cx="46.98" cy="665.93" r="2.3" fill="#ee1111" stroke="none" stroke-width="1"/>
<circle cx="56.89" cy="668.83" r="2.3" fill="#ee1111" stroke="none" stroke-width="1"/>
<circle cx="46.54" cy="667.95" r="2.3" fill="#ee1111" stroke="none" stroke-width="1"/>
<circle cx="57.36" cy="668.84" r="2.3" fill="#ee1111" stroke="none" stroke-width="1"/>
<circle cx="40.17" cy="668.02" r="2.3" fill="#ee1111" stroke="none" stroke-width="1"/>
<circle cx="46.53" cy="664.51" r="2.3" fill="#ee1111" stroke="none" stroke-width="1"/>
<circle cx="55.68" cy="667.98" r="2.3" fill="#ee1111" stroke="none" stroke-width="1"/>
<circle cx="57.80" cy="667.91" r="2.3" fill="#ee1111" stroke="none" stroke-width="1"/>
<circle cx="45.34" cy="667.86" r="2.3" fill="#ee1111" stroke="none" stroke-width="1"/>
<circle cx="56.65" cy="668.05" r="2.3" fill="#ee1111" stroke="none" stroke-width="1"/>
<circle cx="39.79" cy="657.15" r="2.3" fill="#ee1111" stroke="none" stroke-width="1"/>
<circle cx="46.26" cy="667.05" r="2.3" fill="#ee1111" stroke="none" stroke-width="1"/>
<circle cx="45.39" cy="667.97" r="2.3" fill="#ee1111" stroke="none" stroke-width="1"/>
<circle cx="39.25" cy="663.45" r="2.3" fill="#ee1111" stroke="none" stroke-width="1"/>
<circle cx="45.75" cy="663.52" r="2.3" fill="#ee1111" stroke="none" stroke-width="1"/>
<circle cx="41.51" cy="656.71" r="2.3" fill="#ee1111" stroke="none" stroke-width="1"/>
<circle cx="43.07" cy="665.64" r="2.3" fill="#ee1111" stroke="none" stroke-width="1"/>
<circle cx="54.52" cy="667.71" r="2.3" fill="#ee1111" stroke="none" stroke-width="1"/>
<circle cx="47.26" cy="668.80" r="2.3" fill="#ee1111" stroke="none" stroke-width="1"/>
<circle cx="48.03" cy="667.57" r="2.3" fill="#ee1111" stroke="none" stroke-width="1"/>
<circle cx="56.35" cy="668.76" r="2.3" fill="#ee1111" stroke="none" stroke-width="1"/>
<circle cx="45.99" cy="664.07" r="2.3" fill="#ee1111" stroke="none" stroke-width="1"/>
<circle cx="39.76" cy="661.64" r="2.3" fill="#ee1111" stroke="none" stroke-width="1"/>
<circle cx="54.34" cy="667.77" r="2.3" fill="#ee1111" stroke="none" stroke-width="1"/>
<circle cx="39.96" cy="668.41" r="2.3" fill="#ee1111" stroke="none" stroke-width="1"/>
<circle cx="40.37" cy="654.34" r="2.3" fill="#ee1111" stroke="none" stroke-width="1"/>
<circle cx="43.99" cy="663.08" r="2.3" fill="#ee1111" stroke="none" stroke-width="1"/>
<circle cx="55.96" cy="668.55" r="2.3" fill="#ee1111" stroke="none" stroke-width="1"/>
<circle cx="44.28" cy="661.80" r="2.3" fill="#ee1111" stroke="none" stroke-width="1"/>
<circle cx="50.70" cy="668.34" r="2.3" fill="#ee1111" stroke="none" stroke-width="1"/>
<circle cx="52.56" cy="668.38" r="2.3" fill="#ee1111" stroke="none" stroke-width="1"/>
<circle cx="44.34" cy="668.98" r="2.3" fill="#ee1111" stroke="none" stroke-width="1"/>
<circle cx="53.29" cy="667.34" r="2.3" fill="#ee1111" stroke="none" stroke-width="1"/>
<circle cx="51.02" cy="666.70" r="2.3" fill="#ee1111" stroke="none" stroke-width="1"/>
<circle cx="39.65" cy="664.72" r="2.3" fill="#ee1111" stroke="none" stroke-width="1"/>
<circle cx="48.06" cy="665.32" r="2.3" fill="#ee1111" stroke="none" stroke-width="1"/>
<circle cx="56.99" cy="668.53" r="2.3" fill="#ee1111" stroke="none" stroke-width="1"/>
<circle cx="43.88" cy="665.53" r="2.3" fill="#ee1111" stroke="none" stroke-width="1"/>
<circle cx="48.40" cy="665.62" r="2.3" fill="#ee1111" stroke="none" stroke-width="1"/>
<circle cx="42.61" cy="660.74" r="2.3" fill="#ee1111" stroke="none" stroke-width="1"/>
<circle cx="52.97" cy="667.46" r="2.3" fill="#ee1111" stroke="none" stroke-width="1"/>
<circle cx="53.61" cy="667.95" r="2.3" fill="#ee1111" stroke="none" stroke-width="1"/>
<circle cx="45.31" cy="667.02" r="2.3" fill="#ee1111" stroke="none" stroke-width="1"/>
<circle cx="45.95" cy="664.67" r="2.3" fill="#ee1111" stroke="none" stroke-width="1"/>
<circle cx="40.67" cy="666.05" r="2.3" fill="#ee1111" stroke="none" stroke-width="1"/>
<circle cx="53.24" cy="668.56" r="2.3" fill="#ee1111" stroke="none" stroke-width="1"/>
<circle cx="40.41" cy="668.48" r="2.3" fill="#ee1111" stroke="none" stroke-width="1"/>
<circle cx="49.50" cy="668.01" r="2.3" fill="#ee1111" stroke="none" stroke-width="1"/>
<circle cx="57.48" cy="667.94" r="2.3" fill="#ee1111" stroke="none" stroke-width="1"/>
<circle cx="57.62" cy="668.69" r="2.3" fill="#ee1111" stroke="none" stroke-width="1"/>
<circle cx="40.77" cy="667.59" r="2.3" fill="#ee1111" stroke="none" stroke-width="1"/>
<circle cx="48.50" cy="666.46" r="2.3" fill="#ee1111" stroke="none" stroke-width="1"/>
<circle cx="47.53" cy="668.02" r="2.3" fill="#ee1111" stroke="none" stroke-width="1"/>
<circle cx="46.97" cy="666.13" r="2.3" fill="#ee1111" stroke="none" stroke-width="1"/>
<circle cx="51.77" cy="667.36" r="2.3" fill="#ee1111" stroke="none" stroke-width="1"/>
<circle cx="54.99" cy="668.01" r="2.3" fill="#ee1111" stroke="none" stroke-width="1"/>
<circle cx="41.46" cy="658.19" r="2.3" fill="#ee1111" stroke="none" stroke-width="1"/>
<circle cx="44.68" cy="665.05" r="2.3" fill="#ee1111" stroke="none" stroke-width="1"/>
<circle cx="46.15" cy="665.06" r="2.3" fill="#ee1111" stroke="none" stroke-width="1"/>
<circle cx="42.91" cy="666.61" r="2.3" fill="#ee1111" stroke="none" stroke-width="1"/>
<circle cx="43.77" cy="667.74" r="2.3" fill="#ee1111" stroke="none" stroke-width="1"/>
<circle cx="55.69" cy="668.20" r="2.3" fill="#ee1111" stroke="none" stroke-width="1"/>
<circle cx="45.29" cy="666.53" r="2.3" fill="#ee1111" stroke="none" stroke-width="1"/>
<circle cx="57.71" cy="668.41" r="2.3" fill="#ee1111" stroke="none" stroke-width="1"/>
<circle cx="43.51" cy="661.99" r="2.3" fill="#ee1111" stroke="none" stroke-width="1"/>
<circle cx="51.38" cy="666.71" r="2.3" fill="#ee1111" stroke="none" stroke-width="1"/>
<circle cx="41.11" cy="662.47" r="2.3" fill="#ee1111" stroke="none" stroke-width="1"/>
<circle cx="54.47" cy="667.67" r="2.3" fill="#ee1111" stroke="none" stroke-width="1"/>
<circle cx="56.25" cy="668.96" r="2.3" fill="#ee1111" stroke="none" stroke-width="1"/>
<circle cx="44.68" cy="668.18" r="2.3" fill="#ee1111" stroke="none" stroke-width="1"/>
<circle cx="42.73" cy="659.22" r="2.3" fill="#ee1111" stroke="none" stroke-width="1"/>
<circle cx="50.07" cy="666.40" r="2.3" fill="#ee1111" stroke="none" stroke-width="1"/>
<circle cx="46.14" cy="664.36" r="2.3" fill="#ee1111" stroke="none" stroke-width="1"/>
<circle cx="47.57" cy="667.92" r="2.3" fill="#ee1111" stroke="none" stroke-width="1"/>
<circle cx="53.70" cy="667.37" r="2.3" fill="#ee1111" stroke="none" stroke-width="1"/>
<circle cx="41.17" cy="660.90" r="2.3" fill="#ee1111" stroke="none" stroke-width="1"/>
<circle cx="50.76" cy="668.46" r="2.3" fill="#ee1111" stroke="none" stroke-width="1"/>
<circle cx="46.08" cy="668.24" r="2.3" fill="#ee1111" stroke="none" stroke-width="1"/>
<circle cx="43.00" cy="666.57" r="2.3" fill="#ee1111" stroke="none" stroke-width="1"/>
<circle cx="50.38" cy="667.26" r="2.3" fill="#ee1111" stroke="none" stroke-width="1"/>
<circle cx="42.99" cy="668.90" r="2.3" fill="#ee1111" stroke="none" stroke-width="1"/>
<circle cx="45.30" cy="664.78" r="2.3" fill="#ee1111" stroke="none" stroke-width="1"/>
<circle cx="42.65" cy="665.82" r="2.3" fill="#ee1111" stroke="none" stroke-width="1"/>
<circle cx="42.99" cy="661.39" r="2.3" fill="#ee1111" stroke="none" stroke-width="1"/>
<circle cx="49.42" cy="668.82" r="2.3" fill="#ee1111" stroke="none" stroke-width="1"/>
<circle cx="41.09" cy="663.54" r="2.3" fill="#ee1111" stroke="none" stroke-width="1"/>
<circle cx="49.46" cy="667.04" r="2.3" fill="#ee1111" stroke="none" stroke-width="1"/>
<circle cx="40.90" cy="666.66" r="2.3" fill="#ee1111" stroke="none" stroke-width="1"/>
<circle cx="52.17" cy="668.15" r="2.3" fill="#ee1111" stroke="none" stroke-width="1"/>
<circle cx="44.48" cy="666.78" r="2.3" fill="#ee1111" stroke="none" stroke-width="1"/>
<circle cx="56.97" cy="668.62" r="2.3" fill="#ee1111" stroke="none" stroke-width="1"/>
<circle cx="49.76" cy="667.96" r="2.3" fill="#ee1111" stroke="none" stroke-width="1"/>
<circle cx="46.97" cy="665.00" r="2.3" fill="#ee1111" stroke="none" stroke-width="1"/>
<circle cx="57.78" cy="668.58" r="2.3" fill="#ee1111" stroke="none" stroke-width="1"/>
<circle cx="42.88" cy="661.88" r="2.3" fill="#ee1111" stroke="none" stroke-width="1"/>
<circle cx="43.00" cy="668.96" r="2.3" fill="#ee1111" stroke="none" stroke-width="1"/>
<circle cx="56.01" cy="668.43" r="2.3" fill="#ee1111" stroke="none" stroke-width="1"/>
<circle cx="54.50" cy="668.37" r="2.3" fill="#ee1111" stroke="none" stroke-width="1"/>
<circle cx="55.66" cy="668.36" r="2.3" fill="#ee1111" stroke="none" stroke-width="1"/>
<circle cx="42.23" cy="668.85" r="2.3" fill="#ee1111" stroke="none" stroke-width="1"/>
<circle cx="49.48" cy="667.04" r="2.3" fill="#ee1111" stroke="none" stroke-width="1"/>
<circle cx="56.16" cy="668.89" r="2.3" fill="#ee1111" stroke="none" stroke-width="1"/>
<circle cx="50.80" cy="668.08" r="2.3" fill="#ee1111" stroke="none" stroke-width="1"/>
<circle cx="48.61" cy="668.50" r="2.3" fill="#ee1111" stroke="none" stroke-width="1"/>
<circle cx="44.48" cy="665.24" r="2.3" fill="#ee1111" stroke="none" stroke-width="1"/>
<circle cx="56.46" cy="668.87" r="2.3" fill="#ee1111" stroke="none" stroke-width="1"/>
<circle cx="48.35" cy="666.05" r="2.3" fill="#ee1111" stroke="none" stroke-width="1"/>
<circle cx="57.23" cy="668.77" r="2.3" fill="#ee1111" stroke="none" stroke-width="1"/>
<circle cx="41.56" cy="657.11" r="2.3" fill="#ee1111" stroke="none" stroke-width="1"/>
<circle cx="57.39" cy="668.42" r="2.3" fill="#ee1111" stroke="none" stroke-width="1"/>
<circle cx="40.20" cy="653.74" r="2.3" fill="#ee1111" stroke="none" stroke-width="1"/>
<circle cx="46.43" cy="664.40" r="2.3" fill="#ee1111" stroke="none" stroke-width="1"/>
<circle cx="50.77" cy="666.92" r="2.3" fill="#ee1111" stroke="none" stroke-width="1"/>
<circle cx="42.19" cy="660.23" r="2.3" fill="#ee1111" stroke="none" stroke-width="1"/>
<circle cx="43.34" cy="665.38" r="2.3" fill="#ee1111" stroke="none" stroke-width="1"/>
<circle cx="54.98" cy="667.76" r="2.3" fill="#ee1111" stroke="none" stroke-width="1"/>
<circle cx="42.61" cy="666.76" r="2.3" fill="#ee1111" stroke="none" stroke-width="1"/>
<circle cx="46.65" cy="666.47" r="2.3" fill="#ee1111" stroke="none" stroke-width="1"/>
<circle cx="46.35" cy="668.38" r="2.3" fill="#ee1111" stroke="none" stroke-width="1"/>
<circle cx="43.81" cy="663.05" r="2.3" fill="#ee1111" stroke="none" stroke-width="1"/>
<circle cx="55.93" cy="668.96" r="2.3" fill="#ee1111" stroke="none" stroke-width="1"/>
<circle cx="49.69" cy="666.76" r="2.3" fill="#ee1111" stroke="none" stroke-width="1"/>
<circle cx="39.91" cy="654.39" r="2.3" fill="#ee1111" stroke="none" stroke-width="1"/>
<circle cx="41.40" cy="661.20" r="2.3" fill="#ee1111" stroke="none" stroke-width="1"/>
<circle cx="49.46" cy="667.08" r="2.3" fill="#ee1111" stroke="none" stroke-width="1"/>
<circle cx="44.91" cy="666.20" r="2.3" fill="#ee1111" stroke="none" stroke-width="1"/>
<circle cx="50.06" cy="667.81" r="2.3" fill="#ee1111" stroke="none" stroke-width="1"/>
<circle cx="51.49" cy="667.99" r="2.3" fill="#ee1111" stroke="none" stroke-width="1"/>
<circle cx="47.37" cy="668.91" r="2.3" fill="#ee1111" stroke="none" stroke-width="1"/>
<circle cx="50.74" cy="667.77" r="2.3" fill="#ee1111" stroke="none" stroke-width="1"/>
<circle cx="43.59" cy="662.47" r="2.3" fill="#ee1111" stroke="none" stroke-width="1"/>
<circle cx="53.74" cy="668.22" r="2.3" fill="#ee1111" stroke="none" stroke-width="1"/>
<circle cx="42.55" cy="664.08" r="2.3" fill="#ee1111" stroke="none" stroke-width="1"/>
<circle cx="41.20" cy="667.27" r="2.3" fill="#ee1111" stroke="none" stroke-width="1"/>
<circle cx="47.23" cy="668.61" r="2.3" fill="#ee1111" stroke="none" stroke-width="1"/>
<circle cx="47.44" cy="666.83" r="2.3" fill="#ee1111" stroke="none" stroke-width="1"/>
<circle cx="39.96" cy="658.02" r="2.3" fill="#ee1111" stroke="none" stroke-width="1"/>
<circle cx="40.73" cy="658.13" r="2.3" fill="#ee1111" stroke="none" stroke-width="1"/>
<circle cx="53.70" cy="668.13" r="2.3" fill="#ee1111" stroke="none" stroke-width="1"/>
<circle cx="40.21" cy="660.73" r="2.3" fill="#ee1111" stroke="none" stroke-width="1"/>
<circle cx="46.25" cy="664.00" r="2.3" fill="#ee1111" stroke="none" stroke-width="1"/>
<circle cx="41.74" cy="658.56" r="2.3" fill="#ee1111" stroke="none" stroke-width="1"/>
<circle cx="57.77" cy="668.14" r="2.3" fill="#ee1111" stroke="none" stroke-width="1"/>
<circle cx="54.40" cy="668.70" r="2.3" fill="#ee1111" stroke="none" stroke-width="1"/>
<circle cx="57.51" cy="668.42" r="2.3" fill="#ee1111" stroke="none" stroke-width="1"/>
<circle cx="39.20" cy="572.45" r="2.3" fill="#ee1111" stroke="none" stroke-width="1"/>
<circle cx="39.48" cy="585.32" r="2.3" fill="#ee1111" stroke="none" stroke-width="1"/>
<circle cx="39.61" cy="608.50" r="2.3" fill="#ee1111" stroke="none" stroke-width="1"/>
<circle cx="39.75" cy="609.79" r="2.3" fill="#ee1111" stroke="none" stroke-width="1"/>
<circle cx="39.89" cy="630.39" r="2.3" fill="#ee1111" stroke="none" stroke-width="1"/>
<circle cx="40.03" cy="631.67" r="2.3" fill="#ee1111" stroke="none" stroke-width="1"/>
<circle cx="40.17" cy="639.40" r="2.3" fill="#ee1111" stroke="none" stroke-width="1"/>
<circle cx="40.44" cy="644.55" r="2.3" fill="#ee1111" stroke="none" stroke-width="1"/>
<circle cx="40.86" cy="648.41" r="2.3" fill="#ee1111" stroke="none" stroke-width="1"/>
<circle cx="49.56" cy="654.33" r="2.3" fill="#ee1111" stroke="none" stroke-width="1"/>
<circle cx="41.27" cy="652.27" r="2.3" fill="#ee1111" stroke="none" stroke-width="1"/>
<circle cx="42.65" cy="657.42" r="2.3" fill="#ee1111" stroke="none" stroke-width="1"/>
<circle cx="44.73" cy="660.00" r="2.3" fill="#ee1111" stroke="none" stroke-width="1"/>
<circle cx="47.49" cy="662.57" r="2.3" fill="#ee1111" stroke="none" stroke-width="1"/>
<circle cx="53.01" cy="665.15" r="2.3" fill="#ee1111" stroke="none" stroke-width="1"/>
<circle cx="101.80" cy="583.50" r="3.0" fill="#000" stroke="none" stroke-width="1"/>
<text x="111.2" y="587.1" font-size="9.2" text-anchor="start" fill="#000">Train</text>
<circle cx="101.80" cy="595.90" r="3.0" fill="#ee1111" stroke="none" stroke-width="1"/>
<text x="111.2" y="599.5" font-size="9.2" text-anchor="start" fill="#000">Validation</text>
<text transform="translate(3 571) scale(0.86 1)" x="0" y="0" font-size="14.2" font-weight="bold" fill="#000">f</text>
<rect x="204.70" y="564.60" width="132.40" height="106.50" rx="0" fill="none" stroke="#000" stroke-width="1.3"/>
<line x1="201.7" y1="669.1" x2="204.7" y2="669.1" stroke="#000" stroke-width="1"/>
<text x="202.29999999999998" y="672.9" font-size="11" text-anchor="end" fill="#000">0.0</text>
<line x1="201.7" y1="643.05" x2="204.7" y2="643.05" stroke="#000" stroke-width="1"/>
<text x="202.29999999999998" y="646.8499999999999" font-size="11" text-anchor="end" fill="#000">0.1</text>
<line x1="201.7" y1="617.0" x2="204.7" y2="617.0" stroke="#000" stroke-width="1"/>
<text x="202.29999999999998" y="620.8" font-size="11" text-anchor="end" fill="#000">0.2</text>
<line x1="201.7" y1="590.95" x2="204.7" y2="590.95" stroke="#000" stroke-width="1"/>
<text x="202.29999999999998" y="594.75" font-size="11" text-anchor="end" fill="#000">0.3</text>
<line x1="201.7" y1="564.9" x2="204.7" y2="564.9" stroke="#000" stroke-width="1"/>
<text x="202.29999999999998" y="568.6999999999999" font-size="11" text-anchor="end" fill="#000">0.4</text>
<line x1="212.2" y1="671.1" x2="212.2" y2="674.1" stroke="#000" stroke-width="1"/>
<text x="212.2" y="683.7" font-size="11" text-anchor="middle" fill="#000">0</text>
<line x1="239.625" y1="671.1" x2="239.625" y2="674.1" stroke="#000" stroke-width="1"/>
<text x="239.625" y="683.7" font-size="11" text-anchor="middle" fill="#000">200</text>
<line x1="267.04999999999995" y1="671.1" x2="267.04999999999995" y2="674.1" stroke="#000" stroke-width="1"/>
<text x="267.04999999999995" y="683.7" font-size="11" text-anchor="middle" fill="#000">400</text>
<line x1="294.475" y1="671.1" x2="294.475" y2="674.1" stroke="#000" stroke-width="1"/>
<text x="294.475" y="683.7" font-size="11" text-anchor="middle" fill="#000">600</text>
<line x1="321.9" y1="671.1" x2="321.9" y2="674.1" stroke="#000" stroke-width="1"/>
<text x="321.9" y="683.7" font-size="11" text-anchor="middle" fill="#000">800</text>
<text x="265.04999999999995" y="698.4" font-size="9.3" text-anchor="middle" fill="#000">Epoch</text>
<text x="180.8" y="620.7" font-size="9.8" text-anchor="middle" fill="#000" transform="rotate(-90 180.8 620.7)">loss</text>
<circle cx="212.20" cy="647.77" r="2.3" fill="#000" stroke="none" stroke-width="1"/>
<circle cx="212.61" cy="650.15" r="2.3" fill="#000" stroke="none" stroke-width="1"/>
<circle cx="213.02" cy="655.43" r="2.3" fill="#000" stroke="none" stroke-width="1"/>
<circle cx="213.43" cy="654.14" r="2.3" fill="#000" stroke="none" stroke-width="1"/>
<circle cx="213.85" cy="654.96" r="2.3" fill="#000" stroke="none" stroke-width="1"/>
<circle cx="214.26" cy="659.14" r="2.3" fill="#000" stroke="none" stroke-width="1"/>
<circle cx="214.67" cy="659.06" r="2.3" fill="#000" stroke="none" stroke-width="1"/>
<circle cx="215.08" cy="658.66" r="2.3" fill="#000" stroke="none" stroke-width="1"/>
<circle cx="215.49" cy="661.03" r="2.3" fill="#000" stroke="none" stroke-width="1"/>
<circle cx="215.90" cy="659.74" r="2.3" fill="#000" stroke="none" stroke-width="1"/>
<circle cx="216.31" cy="661.80" r="2.3" fill="#000" stroke="none" stroke-width="1"/>
<circle cx="216.73" cy="661.05" r="2.3" fill="#000" stroke="none" stroke-width="1"/>
<circle cx="217.14" cy="662.90" r="2.3" fill="#000" stroke="none" stroke-width="1"/>
<circle cx="217.55" cy="662.52" r="2.3" fill="#000" stroke="none" stroke-width="1"/>
<circle cx="217.96" cy="662.06" r="2.3" fill="#000" stroke="none" stroke-width="1"/>
<circle cx="218.37" cy="663.65" r="2.3" fill="#000" stroke="none" stroke-width="1"/>
<circle cx="218.78" cy="663.79" r="2.3" fill="#000" stroke="none" stroke-width="1"/>
<circle cx="219.19" cy="663.59" r="2.3" fill="#000" stroke="none" stroke-width="1"/>
<circle cx="219.60" cy="664.09" r="2.3" fill="#000" stroke="none" stroke-width="1"/>
<circle cx="220.02" cy="664.69" r="2.3" fill="#000" stroke="none" stroke-width="1"/>
<circle cx="220.43" cy="664.60" r="2.3" fill="#000" stroke="none" stroke-width="1"/>
<circle cx="220.84" cy="664.76" r="2.3" fill="#000" stroke="none" stroke-width="1"/>
<circle cx="221.25" cy="663.78" r="2.3" fill="#000" stroke="none" stroke-width="1"/>
<circle cx="221.66" cy="664.27" r="2.3" fill="#000" stroke="none" stroke-width="1"/>
<circle cx="222.07" cy="664.09" r="2.3" fill="#000" stroke="none" stroke-width="1"/>
<circle cx="222.48" cy="665.15" r="2.3" fill="#000" stroke="none" stroke-width="1"/>
<circle cx="222.90" cy="664.43" r="2.3" fill="#000" stroke="none" stroke-width="1"/>
<circle cx="223.31" cy="665.37" r="2.3" fill="#000" stroke="none" stroke-width="1"/>
<circle cx="223.72" cy="664.91" r="2.3" fill="#000" stroke="none" stroke-width="1"/>
<circle cx="224.13" cy="664.85" r="2.3" fill="#000" stroke="none" stroke-width="1"/>
<circle cx="224.54" cy="665.25" r="2.3" fill="#000" stroke="none" stroke-width="1"/>
<circle cx="224.95" cy="664.69" r="2.3" fill="#000" stroke="none" stroke-width="1"/>
<circle cx="225.36" cy="665.13" r="2.3" fill="#000" stroke="none" stroke-width="1"/>
<circle cx="225.78" cy="665.15" r="2.3" fill="#000" stroke="none" stroke-width="1"/>
<circle cx="226.19" cy="664.85" r="2.3" fill="#000" stroke="none" stroke-width="1"/>
<circle cx="226.60" cy="665.78" r="2.3" fill="#000" stroke="none" stroke-width="1"/>
<circle cx="227.01" cy="664.82" r="2.3" fill="#000" stroke="none" stroke-width="1"/>
<circle cx="227.42" cy="665.27" r="2.3" fill="#000" stroke="none" stroke-width="1"/>
<circle cx="227.83" cy="665.57" r="2.3" fill="#000" stroke="none" stroke-width="1"/>
<circle cx="228.24" cy="665.16" r="2.3" fill="#000" stroke="none" stroke-width="1"/>
<circle cx="228.65" cy="665.77" r="2.3" fill="#000" stroke="none" stroke-width="1"/>
<circle cx="229.07" cy="665.03" r="2.3" fill="#000" stroke="none" stroke-width="1"/>
<circle cx="229.48" cy="665.50" r="2.3" fill="#000" stroke="none" stroke-width="1"/>
<circle cx="229.89" cy="665.76" r="2.3" fill="#000" stroke="none" stroke-width="1"/>
<circle cx="230.30" cy="665.37" r="2.3" fill="#000" stroke="none" stroke-width="1"/>
<circle cx="230.71" cy="665.73" r="2.3" fill="#000" stroke="none" stroke-width="1"/>
<circle cx="231.12" cy="666.03" r="2.3" fill="#000" stroke="none" stroke-width="1"/>
<circle cx="231.53" cy="666.70" r="2.3" fill="#000" stroke="none" stroke-width="1"/>
<circle cx="231.95" cy="667.24" r="2.3" fill="#000" stroke="none" stroke-width="1"/>
<circle cx="232.36" cy="666.64" r="2.3" fill="#000" stroke="none" stroke-width="1"/>
<circle cx="232.77" cy="667.08" r="2.3" fill="#000" stroke="none" stroke-width="1"/>
<circle cx="233.18" cy="666.78" r="2.3" fill="#000" stroke="none" stroke-width="1"/>
<circle cx="233.59" cy="666.51" r="2.3" fill="#000" stroke="none" stroke-width="1"/>
<circle cx="234.00" cy="666.82" r="2.3" fill="#000" stroke="none" stroke-width="1"/>
<circle cx="234.41" cy="666.76" r="2.3" fill="#000" stroke="none" stroke-width="1"/>
<circle cx="234.83" cy="667.03" r="2.3" fill="#000" stroke="none" stroke-width="1"/>
<circle cx="235.24" cy="667.28" r="2.3" fill="#000" stroke="none" stroke-width="1"/>
<circle cx="235.65" cy="667.25" r="2.3" fill="#000" stroke="none" stroke-width="1"/>
<circle cx="236.06" cy="667.16" r="2.3" fill="#000" stroke="none" stroke-width="1"/>
<circle cx="236.47" cy="666.80" r="2.3" fill="#000" stroke="none" stroke-width="1"/>
<circle cx="236.88" cy="666.94" r="2.3" fill="#000" stroke="none" stroke-width="1"/>
<circle cx="237.29" cy="666.88" r="2.3" fill="#000" stroke="none" stroke-width="1"/>
<circle cx="237.71" cy="666.58" r="2.3" fill="#000" stroke="none" stroke-width="1"/>
<circle cx="238.12" cy="667.17" r="2.3" fill="#000" stroke="none" stroke-width="1"/>
<circle cx="238.53" cy="667.10" r="2.3" fill="#000" stroke="none" stroke-width="1"/>
<circle cx="238.94" cy="666.77" r="2.3" fill="#000" stroke="none" stroke-width="1"/>
<circle cx="239.35" cy="667.26" r="2.3" fill="#000" stroke="none" stroke-width="1"/>
<circle cx="239.76" cy="667.27" r="2.3" fill="#000" stroke="none" stroke-width="1"/>
<circle cx="240.17" cy="667.00" r="2.3" fill="#000" stroke="none" stroke-width="1"/>
<circle cx="240.58" cy="667.19" r="2.3" fill="#000" stroke="none" stroke-width="1"/>
<circle cx="241.00" cy="667.00" r="2.3" fill="#000" stroke="none" stroke-width="1"/>
<circle cx="241.41" cy="667.10" r="2.3" fill="#000" stroke="none" stroke-width="1"/>
<circle cx="241.82" cy="666.82" r="2.3" fill="#000" stroke="none" stroke-width="1"/>
<circle cx="242.23" cy="666.82" r="2.3" fill="#000" stroke="none" stroke-width="1"/>
<circle cx="242.64" cy="667.12" r="2.3" fill="#000" stroke="none" stroke-width="1"/>
<circle cx="243.05" cy="666.79" r="2.3" fill="#000" stroke="none" stroke-width="1"/>
<circle cx="243.46" cy="666.91" r="2.3" fill="#000" stroke="none" stroke-width="1"/>
<circle cx="243.88" cy="667.17" r="2.3" fill="#000" stroke="none" stroke-width="1"/>
<circle cx="244.29" cy="666.54" r="2.3" fill="#000" stroke="none" stroke-width="1"/>
<circle cx="244.70" cy="667.09" r="2.3" fill="#000" stroke="none" stroke-width="1"/>
<circle cx="245.11" cy="667.16" r="2.3" fill="#000" stroke="none" stroke-width="1"/>
<circle cx="245.52" cy="667.20" r="2.3" fill="#000" stroke="none" stroke-width="1"/>
<circle cx="245.93" cy="666.78" r="2.3" fill="#000" stroke="none" stroke-width="1"/>
<circle cx="246.34" cy="666.60" r="2.3" fill="#000" stroke="none" stroke-width="1"/>
<circle cx="246.76" cy="666.67" r="2.3" fill="#000" stroke="none" stroke-width="1"/>
<circle cx="247.17" cy="666.96" r="2.3" fill="#000" stroke="none" stroke-width="1"/>
<circle cx="247.58" cy="667.07" r="2.3" fill="#000" stroke="none" stroke-width="1"/>
<circle cx="247.99" cy="667.27" r="2.3" fill="#000" stroke="none" stroke-width="1"/>
<circle cx="248.40" cy="666.77" r="2.3" fill="#000" stroke="none" stroke-width="1"/>
<circle cx="248.81" cy="666.84" r="2.3" fill="#000" stroke="none" stroke-width="1"/>
<circle cx="249.22" cy="667.00" r="2.3" fill="#000" stroke="none" stroke-width="1"/>
<circle cx="249.64" cy="666.77" r="2.3" fill="#000" stroke="none" stroke-width="1"/>
<circle cx="250.05" cy="666.93" r="2.3" fill="#000" stroke="none" stroke-width="1"/>
<circle cx="250.46" cy="666.54" r="2.3" fill="#000" stroke="none" stroke-width="1"/>
<circle cx="250.87" cy="666.70" r="2.3" fill="#000" stroke="none" stroke-width="1"/>
<circle cx="251.28" cy="667.08" r="2.3" fill="#000" stroke="none" stroke-width="1"/>
<circle cx="251.69" cy="666.57" r="2.3" fill="#000" stroke="none" stroke-width="1"/>
<circle cx="252.10" cy="667.24" r="2.3" fill="#000" stroke="none" stroke-width="1"/>
<circle cx="252.51" cy="666.86" r="2.3" fill="#000" stroke="none" stroke-width="1"/>
<circle cx="252.93" cy="666.96" r="2.3" fill="#000" stroke="none" stroke-width="1"/>
<circle cx="253.34" cy="667.09" r="2.3" fill="#000" stroke="none" stroke-width="1"/>
<circle cx="253.75" cy="667.23" r="2.3" fill="#000" stroke="none" stroke-width="1"/>
<circle cx="254.16" cy="666.67" r="2.3" fill="#000" stroke="none" stroke-width="1"/>
<circle cx="254.57" cy="667.27" r="2.3" fill="#000" stroke="none" stroke-width="1"/>
<circle cx="254.98" cy="666.85" r="2.3" fill="#000" stroke="none" stroke-width="1"/>
<circle cx="255.39" cy="666.54" r="2.3" fill="#000" stroke="none" stroke-width="1"/>
<circle cx="255.81" cy="667.17" r="2.3" fill="#000" stroke="none" stroke-width="1"/>
<circle cx="256.22" cy="667.12" r="2.3" fill="#000" stroke="none" stroke-width="1"/>
<circle cx="256.63" cy="666.80" r="2.3" fill="#000" stroke="none" stroke-width="1"/>
<circle cx="257.04" cy="666.88" r="2.3" fill="#000" stroke="none" stroke-width="1"/>
<circle cx="257.45" cy="666.78" r="2.3" fill="#000" stroke="none" stroke-width="1"/>
<circle cx="257.86" cy="666.64" r="2.3" fill="#000" stroke="none" stroke-width="1"/>
<circle cx="258.27" cy="667.14" r="2.3" fill="#000" stroke="none" stroke-width="1"/>
<circle cx="258.69" cy="667.03" r="2.3" fill="#000" stroke="none" stroke-width="1"/>
<circle cx="259.10" cy="667.04" r="2.3" fill="#000" stroke="none" stroke-width="1"/>
<circle cx="259.51" cy="667.24" r="2.3" fill="#000" stroke="none" stroke-width="1"/>
<circle cx="259.92" cy="666.58" r="2.3" fill="#000" stroke="none" stroke-width="1"/>
<circle cx="260.33" cy="666.66" r="2.3" fill="#000" stroke="none" stroke-width="1"/>
<circle cx="260.74" cy="666.72" r="2.3" fill="#000" stroke="none" stroke-width="1"/>
<circle cx="261.15" cy="667.27" r="2.3" fill="#000" stroke="none" stroke-width="1"/>
<circle cx="261.56" cy="666.62" r="2.3" fill="#000" stroke="none" stroke-width="1"/>
<circle cx="261.98" cy="666.69" r="2.3" fill="#000" stroke="none" stroke-width="1"/>
<circle cx="262.39" cy="666.91" r="2.3" fill="#000" stroke="none" stroke-width="1"/>
<circle cx="262.80" cy="666.70" r="2.3" fill="#000" stroke="none" stroke-width="1"/>
<circle cx="263.21" cy="666.92" r="2.3" fill="#000" stroke="none" stroke-width="1"/>
<circle cx="263.62" cy="667.10" r="2.3" fill="#000" stroke="none" stroke-width="1"/>
<circle cx="264.03" cy="667.19" r="2.3" fill="#000" stroke="none" stroke-width="1"/>
<circle cx="264.44" cy="667.09" r="2.3" fill="#000" stroke="none" stroke-width="1"/>
<circle cx="264.86" cy="667.25" r="2.3" fill="#000" stroke="none" stroke-width="1"/>
<circle cx="265.27" cy="667.01" r="2.3" fill="#000" stroke="none" stroke-width="1"/>
<circle cx="265.68" cy="666.69" r="2.3" fill="#000" stroke="none" stroke-width="1"/>
<circle cx="266.09" cy="666.73" r="2.3" fill="#000" stroke="none" stroke-width="1"/>
<circle cx="266.50" cy="666.62" r="2.3" fill="#000" stroke="none" stroke-width="1"/>
<circle cx="266.91" cy="666.72" r="2.3" fill="#000" stroke="none" stroke-width="1"/>
<circle cx="267.32" cy="667.07" r="2.3" fill="#000" stroke="none" stroke-width="1"/>
<circle cx="267.74" cy="666.84" r="2.3" fill="#000" stroke="none" stroke-width="1"/>
<circle cx="268.15" cy="666.94" r="2.3" fill="#000" stroke="none" stroke-width="1"/>
<circle cx="268.56" cy="666.66" r="2.3" fill="#000" stroke="none" stroke-width="1"/>
<circle cx="268.97" cy="666.87" r="2.3" fill="#000" stroke="none" stroke-width="1"/>
<circle cx="269.38" cy="667.07" r="2.3" fill="#000" stroke="none" stroke-width="1"/>
<circle cx="269.79" cy="666.77" r="2.3" fill="#000" stroke="none" stroke-width="1"/>
<circle cx="270.20" cy="666.52" r="2.3" fill="#000" stroke="none" stroke-width="1"/>
<circle cx="270.62" cy="667.11" r="2.3" fill="#000" stroke="none" stroke-width="1"/>
<circle cx="271.03" cy="666.59" r="2.3" fill="#000" stroke="none" stroke-width="1"/>
<circle cx="271.44" cy="667.26" r="2.3" fill="#000" stroke="none" stroke-width="1"/>
<circle cx="271.85" cy="667.07" r="2.3" fill="#000" stroke="none" stroke-width="1"/>
<circle cx="272.26" cy="667.09" r="2.3" fill="#000" stroke="none" stroke-width="1"/>
<circle cx="272.67" cy="666.70" r="2.3" fill="#000" stroke="none" stroke-width="1"/>
<circle cx="273.08" cy="666.54" r="2.3" fill="#000" stroke="none" stroke-width="1"/>
<circle cx="273.49" cy="666.69" r="2.3" fill="#000" stroke="none" stroke-width="1"/>
<circle cx="273.91" cy="667.02" r="2.3" fill="#000" stroke="none" stroke-width="1"/>
<circle cx="274.32" cy="666.59" r="2.3" fill="#000" stroke="none" stroke-width="1"/>
<circle cx="274.73" cy="667.02" r="2.3" fill="#000" stroke="none" stroke-width="1"/>
<circle cx="275.14" cy="667.09" r="2.3" fill="#000" stroke="none" stroke-width="1"/>
<circle cx="275.55" cy="666.57" r="2.3" fill="#000" stroke="none" stroke-width="1"/>
<circle cx="275.96" cy="666.78" r="2.3" fill="#000" stroke="none" stroke-width="1"/>
<circle cx="276.37" cy="666.74" r="2.3" fill="#000" stroke="none" stroke-width="1"/>
<circle cx="276.79" cy="666.76" r="2.3" fill="#000" stroke="none" stroke-width="1"/>
<circle cx="277.20" cy="666.51" r="2.3" fill="#000" stroke="none" stroke-width="1"/>
<circle cx="277.61" cy="666.91" r="2.3" fill="#000" stroke="none" stroke-width="1"/>
<circle cx="278.02" cy="666.62" r="2.3" fill="#000" stroke="none" stroke-width="1"/>
<circle cx="278.43" cy="666.73" r="2.3" fill="#000" stroke="none" stroke-width="1"/>
<circle cx="278.84" cy="666.61" r="2.3" fill="#000" stroke="none" stroke-width="1"/>
<circle cx="279.25" cy="666.93" r="2.3" fill="#000" stroke="none" stroke-width="1"/>
<circle cx="279.67" cy="666.71" r="2.3" fill="#000" stroke="none" stroke-width="1"/>
<circle cx="280.08" cy="666.83" r="2.3" fill="#000" stroke="none" stroke-width="1"/>
<circle cx="280.49" cy="667.04" r="2.3" fill="#000" stroke="none" stroke-width="1"/>
<circle cx="280.90" cy="667.11" r="2.3" fill="#000" stroke="none" stroke-width="1"/>
<circle cx="281.31" cy="666.79" r="2.3" fill="#000" stroke="none" stroke-width="1"/>
<circle cx="281.72" cy="667.22" r="2.3" fill="#000" stroke="none" stroke-width="1"/>
<circle cx="282.13" cy="666.56" r="2.3" fill="#000" stroke="none" stroke-width="1"/>
<circle cx="282.55" cy="667.16" r="2.3" fill="#000" stroke="none" stroke-width="1"/>
<circle cx="282.96" cy="667.26" r="2.3" fill="#000" stroke="none" stroke-width="1"/>
<circle cx="283.37" cy="667.19" r="2.3" fill="#000" stroke="none" stroke-width="1"/>
<circle cx="283.78" cy="666.55" r="2.3" fill="#000" stroke="none" stroke-width="1"/>
<circle cx="284.19" cy="667.01" r="2.3" fill="#000" stroke="none" stroke-width="1"/>
<circle cx="284.60" cy="667.17" r="2.3" fill="#000" stroke="none" stroke-width="1"/>
<circle cx="285.01" cy="667.25" r="2.3" fill="#000" stroke="none" stroke-width="1"/>
<circle cx="285.42" cy="667.24" r="2.3" fill="#000" stroke="none" stroke-width="1"/>
<circle cx="285.84" cy="666.74" r="2.3" fill="#000" stroke="none" stroke-width="1"/>
<circle cx="286.25" cy="666.78" r="2.3" fill="#000" stroke="none" stroke-width="1"/>
<circle cx="286.66" cy="666.73" r="2.3" fill="#000" stroke="none" stroke-width="1"/>
<circle cx="287.07" cy="666.70" r="2.3" fill="#000" stroke="none" stroke-width="1"/>
<circle cx="287.48" cy="667.23" r="2.3" fill="#000" stroke="none" stroke-width="1"/>
<circle cx="287.89" cy="666.82" r="2.3" fill="#000" stroke="none" stroke-width="1"/>
<circle cx="288.30" cy="666.99" r="2.3" fill="#000" stroke="none" stroke-width="1"/>
<circle cx="288.72" cy="666.64" r="2.3" fill="#000" stroke="none" stroke-width="1"/>
<circle cx="289.13" cy="666.64" r="2.3" fill="#000" stroke="none" stroke-width="1"/>
<circle cx="289.54" cy="666.58" r="2.3" fill="#000" stroke="none" stroke-width="1"/>
<circle cx="289.95" cy="667.22" r="2.3" fill="#000" stroke="none" stroke-width="1"/>
<circle cx="290.36" cy="666.60" r="2.3" fill="#000" stroke="none" stroke-width="1"/>
<circle cx="290.77" cy="666.56" r="2.3" fill="#000" stroke="none" stroke-width="1"/>
<circle cx="291.18" cy="666.54" r="2.3" fill="#000" stroke="none" stroke-width="1"/>
<circle cx="291.60" cy="667.19" r="2.3" fill="#000" stroke="none" stroke-width="1"/>
<circle cx="292.01" cy="667.12" r="2.3" fill="#000" stroke="none" stroke-width="1"/>
<circle cx="292.42" cy="667.19" r="2.3" fill="#000" stroke="none" stroke-width="1"/>
<circle cx="292.83" cy="667.25" r="2.3" fill="#000" stroke="none" stroke-width="1"/>
<circle cx="293.24" cy="666.61" r="2.3" fill="#000" stroke="none" stroke-width="1"/>
<circle cx="293.65" cy="666.64" r="2.3" fill="#000" stroke="none" stroke-width="1"/>
<circle cx="294.06" cy="666.78" r="2.3" fill="#000" stroke="none" stroke-width="1"/>
<circle cx="294.48" cy="666.63" r="2.3" fill="#000" stroke="none" stroke-width="1"/>
<circle cx="294.89" cy="666.78" r="2.3" fill="#000" stroke="none" stroke-width="1"/>
<circle cx="295.30" cy="667.05" r="2.3" fill="#000" stroke="none" stroke-width="1"/>
<circle cx="295.71" cy="667.20" r="2.3" fill="#000" stroke="none" stroke-width="1"/>
<circle cx="296.12" cy="667.20" r="2.3" fill="#000" stroke="none" stroke-width="1"/>
<circle cx="296.53" cy="666.68" r="2.3" fill="#000" stroke="none" stroke-width="1"/>
<circle cx="296.94" cy="667.12" r="2.3" fill="#000" stroke="none" stroke-width="1"/>
<circle cx="297.35" cy="667.03" r="2.3" fill="#000" stroke="none" stroke-width="1"/>
<circle cx="297.77" cy="666.95" r="2.3" fill="#000" stroke="none" stroke-width="1"/>
<circle cx="298.18" cy="667.26" r="2.3" fill="#000" stroke="none" stroke-width="1"/>
<circle cx="298.59" cy="667.08" r="2.3" fill="#000" stroke="none" stroke-width="1"/>
<circle cx="299.00" cy="667.06" r="2.3" fill="#000" stroke="none" stroke-width="1"/>
<circle cx="299.41" cy="666.72" r="2.3" fill="#000" stroke="none" stroke-width="1"/>
<circle cx="299.82" cy="666.99" r="2.3" fill="#000" stroke="none" stroke-width="1"/>
<circle cx="300.23" cy="667.03" r="2.3" fill="#000" stroke="none" stroke-width="1"/>
<circle cx="300.65" cy="666.52" r="2.3" fill="#000" stroke="none" stroke-width="1"/>
<circle cx="301.06" cy="666.88" r="2.3" fill="#000" stroke="none" stroke-width="1"/>
<circle cx="301.47" cy="666.61" r="2.3" fill="#000" stroke="none" stroke-width="1"/>
<circle cx="301.88" cy="666.79" r="2.3" fill="#000" stroke="none" stroke-width="1"/>
<circle cx="302.29" cy="667.25" r="2.3" fill="#000" stroke="none" stroke-width="1"/>
<circle cx="302.70" cy="666.95" r="2.3" fill="#000" stroke="none" stroke-width="1"/>
<circle cx="303.11" cy="666.94" r="2.3" fill="#000" stroke="none" stroke-width="1"/>
<circle cx="303.53" cy="666.67" r="2.3" fill="#000" stroke="none" stroke-width="1"/>
<circle cx="303.94" cy="667.01" r="2.3" fill="#000" stroke="none" stroke-width="1"/>
<circle cx="304.35" cy="666.73" r="2.3" fill="#000" stroke="none" stroke-width="1"/>
<circle cx="304.76" cy="666.86" r="2.3" fill="#000" stroke="none" stroke-width="1"/>
<circle cx="305.17" cy="667.11" r="2.3" fill="#000" stroke="none" stroke-width="1"/>
<circle cx="305.58" cy="666.60" r="2.3" fill="#000" stroke="none" stroke-width="1"/>
<circle cx="305.99" cy="667.21" r="2.3" fill="#000" stroke="none" stroke-width="1"/>
<circle cx="306.40" cy="666.64" r="2.3" fill="#000" stroke="none" stroke-width="1"/>
<circle cx="306.82" cy="667.14" r="2.3" fill="#000" stroke="none" stroke-width="1"/>
<circle cx="307.23" cy="667.28" r="2.3" fill="#000" stroke="none" stroke-width="1"/>
<circle cx="307.64" cy="667.12" r="2.3" fill="#000" stroke="none" stroke-width="1"/>
<circle cx="308.05" cy="666.68" r="2.3" fill="#000" stroke="none" stroke-width="1"/>
<circle cx="308.46" cy="666.51" r="2.3" fill="#000" stroke="none" stroke-width="1"/>
<circle cx="308.87" cy="667.27" r="2.3" fill="#000" stroke="none" stroke-width="1"/>
<circle cx="309.28" cy="666.89" r="2.3" fill="#000" stroke="none" stroke-width="1"/>
<circle cx="309.70" cy="666.89" r="2.3" fill="#000" stroke="none" stroke-width="1"/>
<circle cx="310.11" cy="666.65" r="2.3" fill="#000" stroke="none" stroke-width="1"/>
<circle cx="310.52" cy="667.13" r="2.3" fill="#000" stroke="none" stroke-width="1"/>
<circle cx="310.93" cy="666.89" r="2.3" fill="#000" stroke="none" stroke-width="1"/>
<circle cx="311.34" cy="667.01" r="2.3" fill="#000" stroke="none" stroke-width="1"/>
<circle cx="311.75" cy="666.63" r="2.3" fill="#000" stroke="none" stroke-width="1"/>
<circle cx="312.16" cy="667.07" r="2.3" fill="#000" stroke="none" stroke-width="1"/>
<circle cx="312.58" cy="666.54" r="2.3" fill="#000" stroke="none" stroke-width="1"/>
<circle cx="312.99" cy="667.05" r="2.3" fill="#000" stroke="none" stroke-width="1"/>
<circle cx="313.40" cy="667.11" r="2.3" fill="#000" stroke="none" stroke-width="1"/>
<circle cx="313.81" cy="666.73" r="2.3" fill="#000" stroke="none" stroke-width="1"/>
<circle cx="314.22" cy="666.89" r="2.3" fill="#000" stroke="none" stroke-width="1"/>
<circle cx="314.63" cy="667.19" r="2.3" fill="#000" stroke="none" stroke-width="1"/>
<circle cx="315.04" cy="666.78" r="2.3" fill="#000" stroke="none" stroke-width="1"/>
<circle cx="315.46" cy="667.21" r="2.3" fill="#000" stroke="none" stroke-width="1"/>
<circle cx="315.87" cy="666.66" r="2.3" fill="#000" stroke="none" stroke-width="1"/>
<circle cx="316.28" cy="666.73" r="2.3" fill="#000" stroke="none" stroke-width="1"/>
<circle cx="316.69" cy="666.66" r="2.3" fill="#000" stroke="none" stroke-width="1"/>
<circle cx="317.10" cy="666.79" r="2.3" fill="#000" stroke="none" stroke-width="1"/>
<circle cx="317.51" cy="667.00" r="2.3" fill="#000" stroke="none" stroke-width="1"/>
<circle cx="317.92" cy="666.96" r="2.3" fill="#000" stroke="none" stroke-width="1"/>
<circle cx="318.33" cy="666.97" r="2.3" fill="#000" stroke="none" stroke-width="1"/>
<circle cx="318.75" cy="666.58" r="2.3" fill="#000" stroke="none" stroke-width="1"/>
<circle cx="319.16" cy="667.21" r="2.3" fill="#000" stroke="none" stroke-width="1"/>
<circle cx="319.57" cy="666.58" r="2.3" fill="#000" stroke="none" stroke-width="1"/>
<circle cx="319.98" cy="667.26" r="2.3" fill="#000" stroke="none" stroke-width="1"/>
<circle cx="320.39" cy="667.12" r="2.3" fill="#000" stroke="none" stroke-width="1"/>
<circle cx="320.80" cy="667.07" r="2.3" fill="#000" stroke="none" stroke-width="1"/>
<circle cx="321.21" cy="666.57" r="2.3" fill="#000" stroke="none" stroke-width="1"/>
<circle cx="321.63" cy="666.88" r="2.3" fill="#000" stroke="none" stroke-width="1"/>
<circle cx="212.20" cy="593.56" r="2.3" fill="#000" stroke="none" stroke-width="1"/>
<circle cx="212.47" cy="640.45" r="2.3" fill="#000" stroke="none" stroke-width="1"/>
<circle cx="212.61" cy="641.75" r="2.3" fill="#000" stroke="none" stroke-width="1"/>
<circle cx="212.89" cy="649.56" r="2.3" fill="#000" stroke="none" stroke-width="1"/>
<circle cx="213.30" cy="652.17" r="2.3" fill="#000" stroke="none" stroke-width="1"/>
<circle cx="213.85" cy="656.08" r="2.3" fill="#000" stroke="none" stroke-width="1"/>
<circle cx="214.94" cy="657.38" r="2.3" fill="#000" stroke="none" stroke-width="1"/>
<circle cx="216.31" cy="658.68" r="2.3" fill="#000" stroke="none" stroke-width="1"/>
<circle cx="220.43" cy="661.81" r="2.3" fill="#000" stroke="none" stroke-width="1"/>
<circle cx="224.54" cy="662.59" r="2.3" fill="#000" stroke="none" stroke-width="1"/>
<circle cx="212.75" cy="650.87" r="2.3" fill="#000" stroke="none" stroke-width="1"/>
<circle cx="213.02" cy="653.47" r="2.3" fill="#000" stroke="none" stroke-width="1"/>
<circle cx="226.19" cy="668.18" r="2.3" fill="#ee1111" stroke="none" stroke-width="1"/>
<circle cx="226.60" cy="667.66" r="2.3" fill="#ee1111" stroke="none" stroke-width="1"/>
<circle cx="227.01" cy="668.34" r="2.3" fill="#ee1111" stroke="none" stroke-width="1"/>
<circle cx="227.42" cy="668.10" r="2.3" fill="#ee1111" stroke="none" stroke-width="1"/>
<circle cx="227.83" cy="668.03" r="2.3" fill="#ee1111" stroke="none" stroke-width="1"/>
<circle cx="228.24" cy="667.79" r="2.3" fill="#ee1111" stroke="none" stroke-width="1"/>
<circle cx="228.65" cy="667.79" r="2.3" fill="#ee1111" stroke="none" stroke-width="1"/>
<circle cx="229.07" cy="667.91" r="2.3" fill="#ee1111" stroke="none" stroke-width="1"/>
<circle cx="229.48" cy="668.22" r="2.3" fill="#ee1111" stroke="none" stroke-width="1"/>
<circle cx="229.89" cy="668.24" r="2.3" fill="#ee1111" stroke="none" stroke-width="1"/>
<circle cx="230.30" cy="668.42" r="2.3" fill="#ee1111" stroke="none" stroke-width="1"/>
<circle cx="230.71" cy="667.70" r="2.3" fill="#ee1111" stroke="none" stroke-width="1"/>
<circle cx="231.12" cy="667.89" r="2.3" fill="#ee1111" stroke="none" stroke-width="1"/>
<circle cx="231.53" cy="667.81" r="2.3" fill="#ee1111" stroke="none" stroke-width="1"/>
<circle cx="231.95" cy="668.40" r="2.3" fill="#ee1111" stroke="none" stroke-width="1"/>
<circle cx="232.36" cy="668.12" r="2.3" fill="#ee1111" stroke="none" stroke-width="1"/>
<circle cx="232.77" cy="667.77" r="2.3" fill="#ee1111" stroke="none" stroke-width="1"/>
<circle cx="233.18" cy="667.98" r="2.3" fill="#ee1111" stroke="none" stroke-width="1"/>
<circle cx="233.59" cy="668.45" r="2.3" fill="#ee1111" stroke="none" stroke-width="1"/>
<circle cx="234.00" cy="668.10" r="2.3" fill="#ee1111" stroke="none" stroke-width="1"/>
<circle cx="234.41" cy="667.66" r="2.3" fill="#ee1111" stroke="none" stroke-width="1"/>
<circle cx="234.83" cy="668.33" r="2.3" fill="#ee1111" stroke="none" stroke-width="1"/>
<circle cx="235.24" cy="668.38" r="2.3" fill="#ee1111" stroke="none" stroke-width="1"/>
<circle cx="235.65" cy="668.26" r="2.3" fill="#ee1111" stroke="none" stroke-width="1"/>
<circle cx="236.06" cy="667.85" r="2.3" fill="#ee1111" stroke="none" stroke-width="1"/>
<circle cx="236.47" cy="667.70" r="2.3" fill="#ee1111" stroke="none" stroke-width="1"/>
<circle cx="236.88" cy="668.42" r="2.3" fill="#ee1111" stroke="none" stroke-width="1"/>
<circle cx="237.29" cy="668.42" r="2.3" fill="#ee1111" stroke="none" stroke-width="1"/>
<circle cx="237.71" cy="668.32" r="2.3" fill="#ee1111" stroke="none" stroke-width="1"/>
<circle cx="238.12" cy="668.24" r="2.3" fill="#ee1111" stroke="none" stroke-width="1"/>
<circle cx="238.53" cy="668.03" r="2.3" fill="#ee1111" stroke="none" stroke-width="1"/>
<circle cx="238.94" cy="668.41" r="2.3" fill="#ee1111" stroke="none" stroke-width="1"/>
<circle cx="239.35" cy="668.24" r="2.3" fill="#ee1111" stroke="none" stroke-width="1"/>
<circle cx="239.76" cy="668.38" r="2.3" fill="#ee1111" stroke="none" stroke-width="1"/>
<circle cx="240.17" cy="667.56" r="2.3" fill="#ee1111" stroke="none" stroke-width="1"/>
<circle cx="240.58" cy="667.82" r="2.3" fill="#ee1111" stroke="none" stroke-width="1"/>
<circle cx="241.00" cy="668.47" r="2.3" fill="#ee1111" stroke="none" stroke-width="1"/>
<circle cx="241.41" cy="667.58" r="2.3" fill="#ee1111" stroke="none" stroke-width="1"/>
<circle cx="241.82" cy="668.47" r="2.3" fill="#ee1111" stroke="none" stroke-width="1"/>
<circle cx="242.23" cy="668.18" r="2.3" fill="#ee1111" stroke="none" stroke-width="1"/>
<circle cx="242.64" cy="667.55" r="2.3" fill="#ee1111" stroke="none" stroke-width="1"/>
<circle cx="243.05" cy="667.75" r="2.3" fill="#ee1111" stroke="none" stroke-width="1"/>
<circle cx="243.46" cy="667.81" r="2.3" fill="#ee1111" stroke="none" stroke-width="1"/>
<circle cx="243.88" cy="668.13" r="2.3" fill="#ee1111" stroke="none" stroke-width="1"/>
<circle cx="244.29" cy="668.37" r="2.3" fill="#ee1111" stroke="none" stroke-width="1"/>
<circle cx="244.70" cy="667.91" r="2.3" fill="#ee1111" stroke="none" stroke-width="1"/>
<circle cx="245.11" cy="668.47" r="2.3" fill="#ee1111" stroke="none" stroke-width="1"/>
<circle cx="245.52" cy="668.36" r="2.3" fill="#ee1111" stroke="none" stroke-width="1"/>
<circle cx="245.93" cy="668.17" r="2.3" fill="#ee1111" stroke="none" stroke-width="1"/>
<circle cx="246.34" cy="668.54" r="2.3" fill="#ee1111" stroke="none" stroke-width="1"/>
<circle cx="246.76" cy="668.16" r="2.3" fill="#ee1111" stroke="none" stroke-width="1"/>
<circle cx="247.17" cy="667.75" r="2.3" fill="#ee1111" stroke="none" stroke-width="1"/>
<circle cx="247.58" cy="667.86" r="2.3" fill="#ee1111" stroke="none" stroke-width="1"/>
<circle cx="247.99" cy="668.06" r="2.3" fill="#ee1111" stroke="none" stroke-width="1"/>
<circle cx="248.40" cy="667.92" r="2.3" fill="#ee1111" stroke="none" stroke-width="1"/>
<circle cx="248.81" cy="668.10" r="2.3" fill="#ee1111" stroke="none" stroke-width="1"/>
<circle cx="249.22" cy="668.43" r="2.3" fill="#ee1111" stroke="none" stroke-width="1"/>
<circle cx="249.64" cy="667.95" r="2.3" fill="#ee1111" stroke="none" stroke-width="1"/>
<circle cx="250.05" cy="668.16" r="2.3" fill="#ee1111" stroke="none" stroke-width="1"/>
<circle cx="250.46" cy="667.81" r="2.3" fill="#ee1111" stroke="none" stroke-width="1"/>
<circle cx="250.87" cy="667.63" r="2.3" fill="#ee1111" stroke="none" stroke-width="1"/>
<circle cx="251.28" cy="668.13" r="2.3" fill="#ee1111" stroke="none" stroke-width="1"/>
<circle cx="251.69" cy="667.98" r="2.3" fill="#ee1111" stroke="none" stroke-width="1"/>
<circle cx="252.10" cy="667.80" r="2.3" fill="#ee1111" stroke="none" stroke-width="1"/>
<circle cx="252.51" cy="668.14" r="2.3" fill="#ee1111" stroke="none" stroke-width="1"/>
<circle cx="252.93" cy="668.34" r="2.3" fill="#ee1111" stroke="none" stroke-width="1"/>
<circle cx="253.34" cy="667.83" r="2.3" fill="#ee1111" stroke="none" stroke-width="1"/>
<circle cx="253.75" cy="667.66" r="2.3" fill="#ee1111" stroke="none" stroke-width="1"/>
<circle cx="254.16" cy="667.77" r="2.3" fill="#ee1111" stroke="none" stroke-width="1"/>
<circle cx="254.57" cy="667.85" r="2.3" fill="#ee1111" stroke="none" stroke-width="1"/>
<circle cx="254.98" cy="667.69" r="2.3" fill="#ee1111" stroke="none" stroke-width="1"/>
<circle cx="255.39" cy="667.87" r="2.3" fill="#ee1111" stroke="none" stroke-width="1"/>
<circle cx="255.81" cy="667.91" r="2.3" fill="#ee1111" stroke="none" stroke-width="1"/>
<circle cx="256.22" cy="668.11" r="2.3" fill="#ee1111" stroke="none" stroke-width="1"/>
<circle cx="256.63" cy="668.25" r="2.3" fill="#ee1111" stroke="none" stroke-width="1"/>
<circle cx="257.04" cy="667.92" r="2.3" fill="#ee1111" stroke="none" stroke-width="1"/>
<circle cx="257.45" cy="668.48" r="2.3" fill="#ee1111" stroke="none" stroke-width="1"/>
<circle cx="257.86" cy="668.14" r="2.3" fill="#ee1111" stroke="none" stroke-width="1"/>
<circle cx="258.27" cy="667.76" r="2.3" fill="#ee1111" stroke="none" stroke-width="1"/>
<circle cx="258.69" cy="667.84" r="2.3" fill="#ee1111" stroke="none" stroke-width="1"/>
<circle cx="259.10" cy="667.92" r="2.3" fill="#ee1111" stroke="none" stroke-width="1"/>
<circle cx="259.51" cy="668.32" r="2.3" fill="#ee1111" stroke="none" stroke-width="1"/>
<circle cx="259.92" cy="668.14" r="2.3" fill="#ee1111" stroke="none" stroke-width="1"/>
<circle cx="260.33" cy="668.10" r="2.3" fill="#ee1111" stroke="none" stroke-width="1"/>
<circle cx="260.74" cy="667.93" r="2.3" fill="#ee1111" stroke="none" stroke-width="1"/>
<circle cx="261.15" cy="668.15" r="2.3" fill="#ee1111" stroke="none" stroke-width="1"/>
<circle cx="261.56" cy="667.88" r="2.3" fill="#ee1111" stroke="none" stroke-width="1"/>
<circle cx="261.98" cy="667.61" r="2.3" fill="#ee1111" stroke="none" stroke-width="1"/>
<circle cx="262.39" cy="668.39" r="2.3" fill="#ee1111" stroke="none" stroke-width="1"/>
<circle cx="262.80" cy="667.90" r="2.3" fill="#ee1111" stroke="none" stroke-width="1"/>
<circle cx="263.21" cy="667.77" r="2.3" fill="#ee1111" stroke="none" stroke-width="1"/>
<circle cx="263.62" cy="668.17" r="2.3" fill="#ee1111" stroke="none" stroke-width="1"/>
<circle cx="264.03" cy="668.07" r="2.3" fill="#ee1111" stroke="none" stroke-width="1"/>
<circle cx="264.44" cy="667.56" r="2.3" fill="#ee1111" stroke="none" stroke-width="1"/>
<circle cx="264.86" cy="668.54" r="2.3" fill="#ee1111" stroke="none" stroke-width="1"/>
<circle cx="265.27" cy="668.01" r="2.3" fill="#ee1111" stroke="none" stroke-width="1"/>
<circle cx="265.68" cy="668.41" r="2.3" fill="#ee1111" stroke="none" stroke-width="1"/>
<circle cx="266.09" cy="667.76" r="2.3" fill="#ee1111" stroke="none" stroke-width="1"/>
<circle cx="266.50" cy="667.60" r="2.3" fill="#ee1111" stroke="none" stroke-width="1"/>
<circle cx="266.91" cy="668.04" r="2.3" fill="#ee1111" stroke="none" stroke-width="1"/>
<circle cx="267.32" cy="668.47" r="2.3" fill="#ee1111" stroke="none" stroke-width="1"/>
<circle cx="267.74" cy="667.98" r="2.3" fill="#ee1111" stroke="none" stroke-width="1"/>
<circle cx="268.15" cy="668.02" r="2.3" fill="#ee1111" stroke="none" stroke-width="1"/>
<circle cx="268.56" cy="667.83" r="2.3" fill="#ee1111" stroke="none" stroke-width="1"/>
<circle cx="268.97" cy="668.05" r="2.3" fill="#ee1111" stroke="none" stroke-width="1"/>
<circle cx="269.38" cy="667.91" r="2.3" fill="#ee1111" stroke="none" stroke-width="1"/>
<circle cx="269.79" cy="667.72" r="2.3" fill="#ee1111" stroke="none" stroke-width="1"/>
<circle cx="270.20" cy="668.04" r="2.3" fill="#ee1111" stroke="none" stroke-width="1"/>
<circle cx="270.62" cy="668.15" r="2.3" fill="#ee1111" stroke="none" stroke-width="1"/>
<circle cx="271.03" cy="667.59" r="2.3" fill="#ee1111" stroke="none" stroke-width="1"/>
<circle cx="271.44" cy="668.36" r="2.3" fill="#ee1111" stroke="none" stroke-width="1"/>
<circle cx="271.85" cy="667.87" r="2.3" fill="#ee1111" stroke="none" stroke-width="1"/>
<circle cx="272.26" cy="668.17" r="2.3" fill="#ee1111" stroke="none" stroke-width="1"/>
<circle cx="272.67" cy="667.78" r="2.3" fill="#ee1111" stroke="none" stroke-width="1"/>
<circle cx="273.08" cy="668.45" r="2.3" fill="#ee1111" stroke="none" stroke-width="1"/>
<circle cx="273.49" cy="667.55" r="2.3" fill="#ee1111" stroke="none" stroke-width="1"/>
<circle cx="273.91" cy="668.21" r="2.3" fill="#ee1111" stroke="none" stroke-width="1"/>
<circle cx="274.32" cy="668.52" r="2.3" fill="#ee1111" stroke="none" stroke-width="1"/>
<circle cx="274.73" cy="668.29" r="2.3" fill="#ee1111" stroke="none" stroke-width="1"/>
<circle cx="275.14" cy="668.16" r="2.3" fill="#ee1111" stroke="none" stroke-width="1"/>
<circle cx="275.55" cy="668.57" r="2.3" fill="#ee1111" stroke="none" stroke-width="1"/>
<circle cx="275.96" cy="668.14" r="2.3" fill="#ee1111" stroke="none" stroke-width="1"/>
<circle cx="276.37" cy="668.14" r="2.3" fill="#ee1111" stroke="none" stroke-width="1"/>
<circle cx="276.79" cy="667.85" r="2.3" fill="#ee1111" stroke="none" stroke-width="1"/>
<circle cx="277.20" cy="668.21" r="2.3" fill="#ee1111" stroke="none" stroke-width="1"/>
<circle cx="277.61" cy="668.30" r="2.3" fill="#ee1111" stroke="none" stroke-width="1"/>
<circle cx="278.02" cy="668.35" r="2.3" fill="#ee1111" stroke="none" stroke-width="1"/>
<circle cx="278.43" cy="667.81" r="2.3" fill="#ee1111" stroke="none" stroke-width="1"/>
<circle cx="278.84" cy="667.60" r="2.3" fill="#ee1111" stroke="none" stroke-width="1"/>
<circle cx="279.25" cy="668.03" r="2.3" fill="#ee1111" stroke="none" stroke-width="1"/>
<circle cx="279.67" cy="668.35" r="2.3" fill="#ee1111" stroke="none" stroke-width="1"/>
<circle cx="280.08" cy="667.74" r="2.3" fill="#ee1111" stroke="none" stroke-width="1"/>
<circle cx="280.49" cy="668.17" r="2.3" fill="#ee1111" stroke="none" stroke-width="1"/>
<circle cx="280.90" cy="668.36" r="2.3" fill="#ee1111" stroke="none" stroke-width="1"/>
<circle cx="281.31" cy="668.44" r="2.3" fill="#ee1111" stroke="none" stroke-width="1"/>
<circle cx="281.72" cy="667.77" r="2.3" fill="#ee1111" stroke="none" stroke-width="1"/>
<circle cx="282.13" cy="667.74" r="2.3" fill="#ee1111" stroke="none" stroke-width="1"/>
<circle cx="282.55" cy="667.92" r="2.3" fill="#ee1111" stroke="none" stroke-width="1"/>
<circle cx="282.96" cy="668.09" r="2.3" fill="#ee1111" stroke="none" stroke-width="1"/>
<circle cx="283.37" cy="667.99" r="2.3" fill="#ee1111" stroke="none" stroke-width="1"/>
<circle cx="283.78" cy="668.34" r="2.3" fill="#ee1111" stroke="none" stroke-width="1"/>
<circle cx="284.19" cy="667.57" r="2.3" fill="#ee1111" stroke="none" stroke-width="1"/>
<circle cx="284.60" cy="668.21" r="2.3" fill="#ee1111" stroke="none" stroke-width="1"/>
<circle cx="285.01" cy="667.91" r="2.3" fill="#ee1111" stroke="none" stroke-width="1"/>
<circle cx="285.42" cy="667.73" r="2.3" fill="#ee1111" stroke="none" stroke-width="1"/>
<circle cx="285.84" cy="667.73" r="2.3" fill="#ee1111" stroke="none" stroke-width="1"/>
<circle cx="286.25" cy="668.09" r="2.3" fill="#ee1111" stroke="none" stroke-width="1"/>
<circle cx="286.66" cy="668.27" r="2.3" fill="#ee1111" stroke="none" stroke-width="1"/>
<circle cx="287.07" cy="668.01" r="2.3" fill="#ee1111" stroke="none" stroke-width="1"/>
<circle cx="287.48" cy="668.45" r="2.3" fill="#ee1111" stroke="none" stroke-width="1"/>
<circle cx="287.89" cy="667.71" r="2.3" fill="#ee1111" stroke="none" stroke-width="1"/>
<circle cx="288.30" cy="668.21" r="2.3" fill="#ee1111" stroke="none" stroke-width="1"/>
<circle cx="288.72" cy="667.69" r="2.3" fill="#ee1111" stroke="none" stroke-width="1"/>
<circle cx="289.13" cy="668.30" r="2.3" fill="#ee1111" stroke="none" stroke-width="1"/>
<circle cx="289.54" cy="668.19" r="2.3" fill="#ee1111" stroke="none" stroke-width="1"/>
<circle cx="289.95" cy="668.31" r="2.3" fill="#ee1111" stroke="none" stroke-width="1"/>
<circle cx="290.36" cy="668.13" r="2.3" fill="#ee1111" stroke="none" stroke-width="1"/>
<circle cx="290.77" cy="668.39" r="2.3" fill="#ee1111" stroke="none" stroke-width="1"/>
<circle cx="291.18" cy="668.58" r="2.3" fill="#ee1111" stroke="none" stroke-width="1"/>
<circle cx="291.60" cy="667.83" r="2.3" fill="#ee1111" stroke="none" stroke-width="1"/>
<circle cx="292.01" cy="668.29" r="2.3" fill="#ee1111" stroke="none" stroke-width="1"/>
<circle cx="292.42" cy="668.32" r="2.3" fill="#ee1111" stroke="none" stroke-width="1"/>
<circle cx="292.83" cy="668.26" r="2.3" fill="#ee1111" stroke="none" stroke-width="1"/>
<circle cx="293.24" cy="668.08" r="2.3" fill="#ee1111" stroke="none" stroke-width="1"/>
<circle cx="293.65" cy="668.13" r="2.3" fill="#ee1111" stroke="none" stroke-width="1"/>
<circle cx="294.06" cy="667.91" r="2.3" fill="#ee1111" stroke="none" stroke-width="1"/>
<circle cx="294.48" cy="667.89" r="2.3" fill="#ee1111" stroke="none" stroke-width="1"/>
<circle cx="294.89" cy="668.20" r="2.3" fill="#ee1111" stroke="none" stroke-width="1"/>
<circle cx="295.30" cy="667.61" r="2.3" fill="#ee1111" stroke="none" stroke-width="1"/>
<circle cx="295.71" cy="667.69" r="2.3" fill="#ee1111" stroke="none" stroke-width="1"/>
<circle cx="296.12" cy="668.52" r="2.3" fill="#ee1111" stroke="none" stroke-width="1"/>
<circle cx="296.53" cy="667.72" r="2.3" fill="#ee1111" stroke="none" stroke-width="1"/>
<circle cx="296.94" cy="667.64" r="2.3" fill="#ee1111" stroke="none" stroke-width="1"/>
<circle cx="297.35" cy="667.76" r="2.3" fill="#ee1111" stroke="none" stroke-width="1"/>
<circle cx="297.77" cy="668.43" r="2.3" fill="#ee1111" stroke="none" stroke-width="1"/>
<circle cx="298.18" cy="667.71" r="2.3" fill="#ee1111" stroke="none" stroke-width="1"/>
<circle cx="298.59" cy="667.92" r="2.3" fill="#ee1111" stroke="none" stroke-width="1"/>
<circle cx="299.00" cy="668.56" r="2.3" fill="#ee1111" stroke="none" stroke-width="1"/>
<circle cx="299.41" cy="668.57" r="2.3" fill="#ee1111" stroke="none" stroke-width="1"/>
<circle cx="299.82" cy="667.59" r="2.3" fill="#ee1111" stroke="none" stroke-width="1"/>
<circle cx="300.23" cy="667.90" r="2.3" fill="#ee1111" stroke="none" stroke-width="1"/>
<circle cx="300.65" cy="668.32" r="2.3" fill="#ee1111" stroke="none" stroke-width="1"/>
<circle cx="301.06" cy="668.47" r="2.3" fill="#ee1111" stroke="none" stroke-width="1"/>
<circle cx="301.47" cy="668.43" r="2.3" fill="#ee1111" stroke="none" stroke-width="1"/>
<circle cx="301.88" cy="668.34" r="2.3" fill="#ee1111" stroke="none" stroke-width="1"/>
<circle cx="302.29" cy="667.77" r="2.3" fill="#ee1111" stroke="none" stroke-width="1"/>
<circle cx="302.70" cy="668.22" r="2.3" fill="#ee1111" stroke="none" stroke-width="1"/>
<circle cx="303.11" cy="668.42" r="2.3" fill="#ee1111" stroke="none" stroke-width="1"/>
<circle cx="303.53" cy="667.64" r="2.3" fill="#ee1111" stroke="none" stroke-width="1"/>
<circle cx="303.94" cy="667.75" r="2.3" fill="#ee1111" stroke="none" stroke-width="1"/>
<circle cx="304.35" cy="668.40" r="2.3" fill="#ee1111" stroke="none" stroke-width="1"/>
<circle cx="304.76" cy="667.65" r="2.3" fill="#ee1111" stroke="none" stroke-width="1"/>
<circle cx="305.17" cy="667.95" r="2.3" fill="#ee1111" stroke="none" stroke-width="1"/>
<circle cx="305.58" cy="667.76" r="2.3" fill="#ee1111" stroke="none" stroke-width="1"/>
<circle cx="305.99" cy="667.88" r="2.3" fill="#ee1111" stroke="none" stroke-width="1"/>
<circle cx="306.40" cy="667.65" r="2.3" fill="#ee1111" stroke="none" stroke-width="1"/>
<circle cx="306.82" cy="667.76" r="2.3" fill="#ee1111" stroke="none" stroke-width="1"/>
<circle cx="307.23" cy="667.70" r="2.3" fill="#ee1111" stroke="none" stroke-width="1"/>
<circle cx="307.64" cy="668.37" r="2.3" fill="#ee1111" stroke="none" stroke-width="1"/>
<circle cx="308.05" cy="667.86" r="2.3" fill="#ee1111" stroke="none" stroke-width="1"/>
<circle cx="308.46" cy="668.03" r="2.3" fill="#ee1111" stroke="none" stroke-width="1"/>
<circle cx="308.87" cy="667.81" r="2.3" fill="#ee1111" stroke="none" stroke-width="1"/>
<circle cx="309.28" cy="668.12" r="2.3" fill="#ee1111" stroke="none" stroke-width="1"/>
<circle cx="309.70" cy="667.66" r="2.3" fill="#ee1111" stroke="none" stroke-width="1"/>
<circle cx="310.11" cy="668.00" r="2.3" fill="#ee1111" stroke="none" stroke-width="1"/>
<circle cx="310.52" cy="668.30" r="2.3" fill="#ee1111" stroke="none" stroke-width="1"/>
<circle cx="310.93" cy="668.33" r="2.3" fill="#ee1111" stroke="none" stroke-width="1"/>
<circle cx="311.34" cy="668.43" r="2.3" fill="#ee1111" stroke="none" stroke-width="1"/>
<circle cx="311.75" cy="668.07" r="2.3" fill="#ee1111" stroke="none" stroke-width="1"/>
<circle cx="312.16" cy="668.52" r="2.3" fill="#ee1111" stroke="none" stroke-width="1"/>
<circle cx="312.58" cy="668.09" r="2.3" fill="#ee1111" stroke="none" stroke-width="1"/>
<circle cx="312.99" cy="668.43" r="2.3" fill="#ee1111" stroke="none" stroke-width="1"/>
<circle cx="313.40" cy="668.07" r="2.3" fill="#ee1111" stroke="none" stroke-width="1"/>
<circle cx="313.81" cy="668.06" r="2.3" fill="#ee1111" stroke="none" stroke-width="1"/>
<circle cx="314.22" cy="668.02" r="2.3" fill="#ee1111" stroke="none" stroke-width="1"/>
<circle cx="314.63" cy="667.68" r="2.3" fill="#ee1111" stroke="none" stroke-width="1"/>
<circle cx="315.04" cy="668.57" r="2.3" fill="#ee1111" stroke="none" stroke-width="1"/>
<circle cx="315.46" cy="667.70" r="2.3" fill="#ee1111" stroke="none" stroke-width="1"/>
<circle cx="315.87" cy="668.09" r="2.3" fill="#ee1111" stroke="none" stroke-width="1"/>
<circle cx="316.28" cy="667.99" r="2.3" fill="#ee1111" stroke="none" stroke-width="1"/>
<circle cx="316.69" cy="667.89" r="2.3" fill="#ee1111" stroke="none" stroke-width="1"/>
<circle cx="317.10" cy="667.70" r="2.3" fill="#ee1111" stroke="none" stroke-width="1"/>
<circle cx="317.51" cy="668.19" r="2.3" fill="#ee1111" stroke="none" stroke-width="1"/>
<circle cx="317.92" cy="668.14" r="2.3" fill="#ee1111" stroke="none" stroke-width="1"/>
<circle cx="318.33" cy="667.58" r="2.3" fill="#ee1111" stroke="none" stroke-width="1"/>
<circle cx="318.75" cy="668.50" r="2.3" fill="#ee1111" stroke="none" stroke-width="1"/>
<circle cx="319.16" cy="667.92" r="2.3" fill="#ee1111" stroke="none" stroke-width="1"/>
<circle cx="319.57" cy="667.92" r="2.3" fill="#ee1111" stroke="none" stroke-width="1"/>
<circle cx="319.98" cy="668.55" r="2.3" fill="#ee1111" stroke="none" stroke-width="1"/>
<circle cx="320.39" cy="667.94" r="2.3" fill="#ee1111" stroke="none" stroke-width="1"/>
<circle cx="320.80" cy="667.87" r="2.3" fill="#ee1111" stroke="none" stroke-width="1"/>
<circle cx="321.21" cy="667.61" r="2.3" fill="#ee1111" stroke="none" stroke-width="1"/>
<circle cx="321.63" cy="668.23" r="2.3" fill="#ee1111" stroke="none" stroke-width="1"/>
<circle cx="225.66" cy="667.91" r="2.3" fill="#ee1111" stroke="none" stroke-width="1"/>
<circle cx="218.85" cy="666.34" r="2.3" fill="#ee1111" stroke="none" stroke-width="1"/>
<circle cx="212.66" cy="663.15" r="2.3" fill="#ee1111" stroke="none" stroke-width="1"/>
<circle cx="220.77" cy="667.92" r="2.3" fill="#ee1111" stroke="none" stroke-width="1"/>
<circle cx="224.02" cy="668.05" r="2.3" fill="#ee1111" stroke="none" stroke-width="1"/>
<circle cx="218.71" cy="667.24" r="2.3" fill="#ee1111" stroke="none" stroke-width="1"/>
<circle cx="222.77" cy="668.24" r="2.3" fill="#ee1111" stroke="none" stroke-width="1"/>
<circle cx="218.17" cy="667.42" r="2.3" fill="#ee1111" stroke="none" stroke-width="1"/>
<circle cx="219.80" cy="666.77" r="2.3" fill="#ee1111" stroke="none" stroke-width="1"/>
<circle cx="216.22" cy="665.44" r="2.3" fill="#ee1111" stroke="none" stroke-width="1"/>
<circle cx="217.74" cy="667.10" r="2.3" fill="#ee1111" stroke="none" stroke-width="1"/>
<circle cx="215.93" cy="666.56" r="2.3" fill="#ee1111" stroke="none" stroke-width="1"/>
<circle cx="225.57" cy="667.71" r="2.3" fill="#ee1111" stroke="none" stroke-width="1"/>
<circle cx="223.06" cy="668.06" r="2.3" fill="#ee1111" stroke="none" stroke-width="1"/>
<circle cx="216.55" cy="667.51" r="2.3" fill="#ee1111" stroke="none" stroke-width="1"/>
<circle cx="220.24" cy="667.26" r="2.3" fill="#ee1111" stroke="none" stroke-width="1"/>
<circle cx="222.95" cy="668.52" r="2.3" fill="#ee1111" stroke="none" stroke-width="1"/>
<circle cx="222.11" cy="667.08" r="2.3" fill="#ee1111" stroke="none" stroke-width="1"/>
<circle cx="219.68" cy="668.47" r="2.3" fill="#ee1111" stroke="none" stroke-width="1"/>
<circle cx="216.32" cy="668.56" r="2.3" fill="#ee1111" stroke="none" stroke-width="1"/>
<circle cx="214.80" cy="664.05" r="2.3" fill="#ee1111" stroke="none" stroke-width="1"/>
<circle cx="220.55" cy="667.26" r="2.3" fill="#ee1111" stroke="none" stroke-width="1"/>
<circle cx="223.02" cy="667.15" r="2.3" fill="#ee1111" stroke="none" stroke-width="1"/>
<circle cx="220.59" cy="667.35" r="2.3" fill="#ee1111" stroke="none" stroke-width="1"/>
<circle cx="220.80" cy="667.22" r="2.3" fill="#ee1111" stroke="none" stroke-width="1"/>
<circle cx="220.38" cy="667.19" r="2.3" fill="#ee1111" stroke="none" stroke-width="1"/>
<circle cx="215.11" cy="665.49" r="2.3" fill="#ee1111" stroke="none" stroke-width="1"/>
<circle cx="218.48" cy="666.58" r="2.3" fill="#ee1111" stroke="none" stroke-width="1"/>
<circle cx="213.59" cy="667.45" r="2.3" fill="#ee1111" stroke="none" stroke-width="1"/>
<circle cx="212.71" cy="662.78" r="2.3" fill="#ee1111" stroke="none" stroke-width="1"/>
<circle cx="224.73" cy="667.67" r="2.3" fill="#ee1111" stroke="none" stroke-width="1"/>
<circle cx="217.26" cy="665.97" r="2.3" fill="#ee1111" stroke="none" stroke-width="1"/>
<circle cx="222.99" cy="667.70" r="2.3" fill="#ee1111" stroke="none" stroke-width="1"/>
<circle cx="215.74" cy="667.33" r="2.3" fill="#ee1111" stroke="none" stroke-width="1"/>
<circle cx="217.98" cy="667.68" r="2.3" fill="#ee1111" stroke="none" stroke-width="1"/>
<circle cx="218.11" cy="666.80" r="2.3" fill="#ee1111" stroke="none" stroke-width="1"/>
<circle cx="225.01" cy="668.50" r="2.3" fill="#ee1111" stroke="none" stroke-width="1"/>
<circle cx="219.98" cy="668.49" r="2.3" fill="#ee1111" stroke="none" stroke-width="1"/>
<circle cx="213.83" cy="663.76" r="2.3" fill="#ee1111" stroke="none" stroke-width="1"/>
<circle cx="220.09" cy="666.64" r="2.3" fill="#ee1111" stroke="none" stroke-width="1"/>
<circle cx="218.32" cy="668.54" r="2.3" fill="#ee1111" stroke="none" stroke-width="1"/>
<circle cx="217.51" cy="666.77" r="2.3" fill="#ee1111" stroke="none" stroke-width="1"/>
<circle cx="225.06" cy="667.24" r="2.3" fill="#ee1111" stroke="none" stroke-width="1"/>
<circle cx="218.72" cy="667.53" r="2.3" fill="#ee1111" stroke="none" stroke-width="1"/>
<circle cx="213.60" cy="664.56" r="2.3" fill="#ee1111" stroke="none" stroke-width="1"/>
<circle cx="215.11" cy="667.88" r="2.3" fill="#ee1111" stroke="none" stroke-width="1"/>
<circle cx="212.41" cy="668.54" r="2.3" fill="#ee1111" stroke="none" stroke-width="1"/>
<circle cx="221.58" cy="668.36" r="2.3" fill="#ee1111" stroke="none" stroke-width="1"/>
<circle cx="225.45" cy="668.46" r="2.3" fill="#ee1111" stroke="none" stroke-width="1"/>
<circle cx="224.12" cy="668.39" r="2.3" fill="#ee1111" stroke="none" stroke-width="1"/>
<circle cx="212.44" cy="662.88" r="2.3" fill="#ee1111" stroke="none" stroke-width="1"/>
<circle cx="215.52" cy="665.43" r="2.3" fill="#ee1111" stroke="none" stroke-width="1"/>
<circle cx="214.77" cy="668.33" r="2.3" fill="#ee1111" stroke="none" stroke-width="1"/>
<circle cx="222.81" cy="667.44" r="2.3" fill="#ee1111" stroke="none" stroke-width="1"/>
<circle cx="223.93" cy="667.51" r="2.3" fill="#ee1111" stroke="none" stroke-width="1"/>
<circle cx="213.36" cy="664.46" r="2.3" fill="#ee1111" stroke="none" stroke-width="1"/>
<circle cx="221.93" cy="667.78" r="2.3" fill="#ee1111" stroke="none" stroke-width="1"/>
<circle cx="224.98" cy="668.23" r="2.3" fill="#ee1111" stroke="none" stroke-width="1"/>
<circle cx="225.42" cy="667.62" r="2.3" fill="#ee1111" stroke="none" stroke-width="1"/>
<circle cx="212.36" cy="668.46" r="2.3" fill="#ee1111" stroke="none" stroke-width="1"/>
<circle cx="221.12" cy="667.05" r="2.3" fill="#ee1111" stroke="none" stroke-width="1"/>
<circle cx="213.29" cy="666.52" r="2.3" fill="#ee1111" stroke="none" stroke-width="1"/>
<circle cx="222.20" cy="668.30" r="2.3" fill="#ee1111" stroke="none" stroke-width="1"/>
<circle cx="224.01" cy="667.87" r="2.3" fill="#ee1111" stroke="none" stroke-width="1"/>
<circle cx="213.02" cy="666.00" r="2.3" fill="#ee1111" stroke="none" stroke-width="1"/>
<circle cx="220.08" cy="667.65" r="2.3" fill="#ee1111" stroke="none" stroke-width="1"/>
<circle cx="221.48" cy="668.32" r="2.3" fill="#ee1111" stroke="none" stroke-width="1"/>
<circle cx="223.13" cy="668.01" r="2.3" fill="#ee1111" stroke="none" stroke-width="1"/>
<circle cx="221.04" cy="667.39" r="2.3" fill="#ee1111" stroke="none" stroke-width="1"/>
<circle cx="217.93" cy="667.48" r="2.3" fill="#ee1111" stroke="none" stroke-width="1"/>
<circle cx="222.98" cy="667.09" r="2.3" fill="#ee1111" stroke="none" stroke-width="1"/>
<circle cx="222.96" cy="667.69" r="2.3" fill="#ee1111" stroke="none" stroke-width="1"/>
<circle cx="216.21" cy="668.35" r="2.3" fill="#ee1111" stroke="none" stroke-width="1"/>
<circle cx="225.56" cy="667.65" r="2.3" fill="#ee1111" stroke="none" stroke-width="1"/>
<circle cx="223.55" cy="668.08" r="2.3" fill="#ee1111" stroke="none" stroke-width="1"/>
<circle cx="220.51" cy="666.61" r="2.3" fill="#ee1111" stroke="none" stroke-width="1"/>
<circle cx="223.60" cy="667.68" r="2.3" fill="#ee1111" stroke="none" stroke-width="1"/>
<circle cx="216.43" cy="667.01" r="2.3" fill="#ee1111" stroke="none" stroke-width="1"/>
<circle cx="224.38" cy="668.04" r="2.3" fill="#ee1111" stroke="none" stroke-width="1"/>
<circle cx="221.59" cy="667.50" r="2.3" fill="#ee1111" stroke="none" stroke-width="1"/>
<circle cx="224.49" cy="667.44" r="2.3" fill="#ee1111" stroke="none" stroke-width="1"/>
<circle cx="216.08" cy="668.57" r="2.3" fill="#ee1111" stroke="none" stroke-width="1"/>
<circle cx="215.81" cy="666.86" r="2.3" fill="#ee1111" stroke="none" stroke-width="1"/>
<circle cx="220.24" cy="666.89" r="2.3" fill="#ee1111" stroke="none" stroke-width="1"/>
<circle cx="224.37" cy="668.52" r="2.3" fill="#ee1111" stroke="none" stroke-width="1"/>
<circle cx="223.63" cy="667.36" r="2.3" fill="#ee1111" stroke="none" stroke-width="1"/>
<circle cx="224.09" cy="667.75" r="2.3" fill="#ee1111" stroke="none" stroke-width="1"/>
<circle cx="215.96" cy="665.20" r="2.3" fill="#ee1111" stroke="none" stroke-width="1"/>
<circle cx="223.27" cy="667.53" r="2.3" fill="#ee1111" stroke="none" stroke-width="1"/>
<circle cx="224.73" cy="668.10" r="2.3" fill="#ee1111" stroke="none" stroke-width="1"/>
<circle cx="213.37" cy="664.96" r="2.3" fill="#ee1111" stroke="none" stroke-width="1"/>
<circle cx="223.13" cy="668.27" r="2.3" fill="#ee1111" stroke="none" stroke-width="1"/>
<circle cx="222.49" cy="667.05" r="2.3" fill="#ee1111" stroke="none" stroke-width="1"/>
<circle cx="215.41" cy="665.92" r="2.3" fill="#ee1111" stroke="none" stroke-width="1"/>
<circle cx="221.49" cy="667.74" r="2.3" fill="#ee1111" stroke="none" stroke-width="1"/>
<circle cx="215.03" cy="667.38" r="2.3" fill="#ee1111" stroke="none" stroke-width="1"/>
<circle cx="222.50" cy="667.28" r="2.3" fill="#ee1111" stroke="none" stroke-width="1"/>
<circle cx="218.50" cy="668.35" r="2.3" fill="#ee1111" stroke="none" stroke-width="1"/>
<circle cx="223.26" cy="667.39" r="2.3" fill="#ee1111" stroke="none" stroke-width="1"/>
<circle cx="215.39" cy="666.03" r="2.3" fill="#ee1111" stroke="none" stroke-width="1"/>
<circle cx="224.50" cy="667.33" r="2.3" fill="#ee1111" stroke="none" stroke-width="1"/>
<circle cx="219.36" cy="667.47" r="2.3" fill="#ee1111" stroke="none" stroke-width="1"/>
<circle cx="220.28" cy="668.19" r="2.3" fill="#ee1111" stroke="none" stroke-width="1"/>
<circle cx="214.84" cy="667.70" r="2.3" fill="#ee1111" stroke="none" stroke-width="1"/>
<circle cx="221.81" cy="667.95" r="2.3" fill="#ee1111" stroke="none" stroke-width="1"/>
<circle cx="219.94" cy="667.71" r="2.3" fill="#ee1111" stroke="none" stroke-width="1"/>
<circle cx="219.29" cy="668.23" r="2.3" fill="#ee1111" stroke="none" stroke-width="1"/>
<circle cx="212.81" cy="661.27" r="2.3" fill="#ee1111" stroke="none" stroke-width="1"/>
<circle cx="217.33" cy="668.25" r="2.3" fill="#ee1111" stroke="none" stroke-width="1"/>
<circle cx="220.88" cy="667.06" r="2.3" fill="#ee1111" stroke="none" stroke-width="1"/>
<circle cx="214.34" cy="665.37" r="2.3" fill="#ee1111" stroke="none" stroke-width="1"/>
<circle cx="216.93" cy="666.84" r="2.3" fill="#ee1111" stroke="none" stroke-width="1"/>
<circle cx="212.48" cy="668.32" r="2.3" fill="#ee1111" stroke="none" stroke-width="1"/>
<circle cx="225.78" cy="667.44" r="2.3" fill="#ee1111" stroke="none" stroke-width="1"/>
<circle cx="218.87" cy="667.17" r="2.3" fill="#ee1111" stroke="none" stroke-width="1"/>
<circle cx="215.79" cy="665.39" r="2.3" fill="#ee1111" stroke="none" stroke-width="1"/>
<circle cx="218.04" cy="665.92" r="2.3" fill="#ee1111" stroke="none" stroke-width="1"/>
<circle cx="222.72" cy="667.26" r="2.3" fill="#ee1111" stroke="none" stroke-width="1"/>
<circle cx="225.41" cy="668.24" r="2.3" fill="#ee1111" stroke="none" stroke-width="1"/>
<circle cx="212.72" cy="667.08" r="2.3" fill="#ee1111" stroke="none" stroke-width="1"/>
<circle cx="214.68" cy="668.16" r="2.3" fill="#ee1111" stroke="none" stroke-width="1"/>
<circle cx="212.90" cy="664.57" r="2.3" fill="#ee1111" stroke="none" stroke-width="1"/>
<circle cx="224.14" cy="667.92" r="2.3" fill="#ee1111" stroke="none" stroke-width="1"/>
<circle cx="225.19" cy="667.35" r="2.3" fill="#ee1111" stroke="none" stroke-width="1"/>
<circle cx="213.08" cy="664.43" r="2.3" fill="#ee1111" stroke="none" stroke-width="1"/>
<circle cx="217.65" cy="668.22" r="2.3" fill="#ee1111" stroke="none" stroke-width="1"/>
<circle cx="225.35" cy="668.23" r="2.3" fill="#ee1111" stroke="none" stroke-width="1"/>
<circle cx="219.94" cy="667.20" r="2.3" fill="#ee1111" stroke="none" stroke-width="1"/>
<circle cx="225.31" cy="667.68" r="2.3" fill="#ee1111" stroke="none" stroke-width="1"/>
<circle cx="217.59" cy="667.23" r="2.3" fill="#ee1111" stroke="none" stroke-width="1"/>
<circle cx="214.39" cy="663.44" r="2.3" fill="#ee1111" stroke="none" stroke-width="1"/>
<circle cx="225.80" cy="668.29" r="2.3" fill="#ee1111" stroke="none" stroke-width="1"/>
<circle cx="212.73" cy="666.67" r="2.3" fill="#ee1111" stroke="none" stroke-width="1"/>
<circle cx="217.03" cy="665.60" r="2.3" fill="#ee1111" stroke="none" stroke-width="1"/>
<circle cx="224.60" cy="667.41" r="2.3" fill="#ee1111" stroke="none" stroke-width="1"/>
<circle cx="212.85" cy="662.86" r="2.3" fill="#ee1111" stroke="none" stroke-width="1"/>
<circle cx="221.93" cy="667.46" r="2.3" fill="#ee1111" stroke="none" stroke-width="1"/>
<circle cx="225.71" cy="668.51" r="2.3" fill="#ee1111" stroke="none" stroke-width="1"/>
<circle cx="214.19" cy="664.39" r="2.3" fill="#ee1111" stroke="none" stroke-width="1"/>
<circle cx="225.08" cy="667.66" r="2.3" fill="#ee1111" stroke="none" stroke-width="1"/>
<circle cx="216.30" cy="666.37" r="2.3" fill="#ee1111" stroke="none" stroke-width="1"/>
<circle cx="222.59" cy="668.41" r="2.3" fill="#ee1111" stroke="none" stroke-width="1"/>
<circle cx="216.64" cy="667.67" r="2.3" fill="#ee1111" stroke="none" stroke-width="1"/>
<circle cx="213.90" cy="665.76" r="2.3" fill="#ee1111" stroke="none" stroke-width="1"/>
<circle cx="214.51" cy="667.34" r="2.3" fill="#ee1111" stroke="none" stroke-width="1"/>
<circle cx="214.16" cy="664.81" r="2.3" fill="#ee1111" stroke="none" stroke-width="1"/>
<circle cx="212.37" cy="662.82" r="2.3" fill="#ee1111" stroke="none" stroke-width="1"/>
<circle cx="214.88" cy="668.40" r="2.3" fill="#ee1111" stroke="none" stroke-width="1"/>
<circle cx="224.92" cy="668.28" r="2.3" fill="#ee1111" stroke="none" stroke-width="1"/>
<circle cx="225.01" cy="667.39" r="2.3" fill="#ee1111" stroke="none" stroke-width="1"/>
<circle cx="224.39" cy="668.38" r="2.3" fill="#ee1111" stroke="none" stroke-width="1"/>
<circle cx="218.33" cy="668.32" r="2.3" fill="#ee1111" stroke="none" stroke-width="1"/>
<circle cx="224.94" cy="667.42" r="2.3" fill="#ee1111" stroke="none" stroke-width="1"/>
<circle cx="220.82" cy="667.70" r="2.3" fill="#ee1111" stroke="none" stroke-width="1"/>
<circle cx="216.86" cy="665.79" r="2.3" fill="#ee1111" stroke="none" stroke-width="1"/>
<circle cx="218.75" cy="666.99" r="2.3" fill="#ee1111" stroke="none" stroke-width="1"/>
<circle cx="214.16" cy="667.34" r="2.3" fill="#ee1111" stroke="none" stroke-width="1"/>
<circle cx="212.98" cy="663.53" r="2.3" fill="#ee1111" stroke="none" stroke-width="1"/>
<circle cx="219.79" cy="668.26" r="2.3" fill="#ee1111" stroke="none" stroke-width="1"/>
<circle cx="224.14" cy="668.19" r="2.3" fill="#ee1111" stroke="none" stroke-width="1"/>
<circle cx="217.85" cy="668.13" r="2.3" fill="#ee1111" stroke="none" stroke-width="1"/>
<circle cx="215.92" cy="665.22" r="2.3" fill="#ee1111" stroke="none" stroke-width="1"/>
<circle cx="216.79" cy="668.00" r="2.3" fill="#ee1111" stroke="none" stroke-width="1"/>
<circle cx="218.93" cy="667.80" r="2.3" fill="#ee1111" stroke="none" stroke-width="1"/>
<circle cx="224.58" cy="668.42" r="2.3" fill="#ee1111" stroke="none" stroke-width="1"/>
<circle cx="225.62" cy="668.50" r="2.3" fill="#ee1111" stroke="none" stroke-width="1"/>
<circle cx="224.47" cy="667.64" r="2.3" fill="#ee1111" stroke="none" stroke-width="1"/>
<circle cx="215.10" cy="666.36" r="2.3" fill="#ee1111" stroke="none" stroke-width="1"/>
<circle cx="216.12" cy="667.59" r="2.3" fill="#ee1111" stroke="none" stroke-width="1"/>
<circle cx="214.96" cy="666.84" r="2.3" fill="#ee1111" stroke="none" stroke-width="1"/>
<circle cx="225.79" cy="667.27" r="2.3" fill="#ee1111" stroke="none" stroke-width="1"/>
<circle cx="224.89" cy="668.44" r="2.3" fill="#ee1111" stroke="none" stroke-width="1"/>
<circle cx="216.17" cy="665.15" r="2.3" fill="#ee1111" stroke="none" stroke-width="1"/>
<circle cx="212.99" cy="663.45" r="2.3" fill="#ee1111" stroke="none" stroke-width="1"/>
<circle cx="216.22" cy="664.88" r="2.3" fill="#ee1111" stroke="none" stroke-width="1"/>
<circle cx="212.42" cy="662.16" r="2.3" fill="#ee1111" stroke="none" stroke-width="1"/>
<circle cx="216.87" cy="668.10" r="2.3" fill="#ee1111" stroke="none" stroke-width="1"/>
<circle cx="212.23" cy="661.68" r="2.3" fill="#ee1111" stroke="none" stroke-width="1"/>
<circle cx="219.42" cy="668.15" r="2.3" fill="#ee1111" stroke="none" stroke-width="1"/>
<circle cx="218.17" cy="666.07" r="2.3" fill="#ee1111" stroke="none" stroke-width="1"/>
<circle cx="215.19" cy="665.97" r="2.3" fill="#ee1111" stroke="none" stroke-width="1"/>
<circle cx="214.09" cy="667.56" r="2.3" fill="#ee1111" stroke="none" stroke-width="1"/>
<circle cx="222.76" cy="667.44" r="2.3" fill="#ee1111" stroke="none" stroke-width="1"/>
<circle cx="214.90" cy="668.20" r="2.3" fill="#ee1111" stroke="none" stroke-width="1"/>
<circle cx="213.40" cy="664.63" r="2.3" fill="#ee1111" stroke="none" stroke-width="1"/>
<circle cx="218.99" cy="667.91" r="2.3" fill="#ee1111" stroke="none" stroke-width="1"/>
<circle cx="215.03" cy="665.69" r="2.3" fill="#ee1111" stroke="none" stroke-width="1"/>
<circle cx="221.91" cy="667.17" r="2.3" fill="#ee1111" stroke="none" stroke-width="1"/>
<circle cx="220.19" cy="668.16" r="2.3" fill="#ee1111" stroke="none" stroke-width="1"/>
<circle cx="213.10" cy="663.52" r="2.3" fill="#ee1111" stroke="none" stroke-width="1"/>
<circle cx="217.80" cy="666.48" r="2.3" fill="#ee1111" stroke="none" stroke-width="1"/>
<circle cx="212.96" cy="662.82" r="2.3" fill="#ee1111" stroke="none" stroke-width="1"/>
<circle cx="216.80" cy="665.69" r="2.3" fill="#ee1111" stroke="none" stroke-width="1"/>
<circle cx="224.05" cy="667.86" r="2.3" fill="#ee1111" stroke="none" stroke-width="1"/>
<circle cx="212.41" cy="661.32" r="2.3" fill="#ee1111" stroke="none" stroke-width="1"/>
<circle cx="218.74" cy="666.37" r="2.3" fill="#ee1111" stroke="none" stroke-width="1"/>
<circle cx="215.85" cy="667.83" r="2.3" fill="#ee1111" stroke="none" stroke-width="1"/>
<circle cx="223.60" cy="668.03" r="2.3" fill="#ee1111" stroke="none" stroke-width="1"/>
<circle cx="214.44" cy="666.62" r="2.3" fill="#ee1111" stroke="none" stroke-width="1"/>
<circle cx="220.36" cy="668.57" r="2.3" fill="#ee1111" stroke="none" stroke-width="1"/>
<circle cx="212.20" cy="609.18" r="2.3" fill="#ee1111" stroke="none" stroke-width="1"/>
<circle cx="213.02" cy="636.54" r="2.3" fill="#ee1111" stroke="none" stroke-width="1"/>
<circle cx="213.30" cy="637.84" r="2.3" fill="#ee1111" stroke="none" stroke-width="1"/>
<circle cx="213.57" cy="643.57" r="2.3" fill="#ee1111" stroke="none" stroke-width="1"/>
<circle cx="212.75" cy="661.28" r="2.3" fill="#ee1111" stroke="none" stroke-width="1"/>
<circle cx="219.06" cy="657.38" r="2.3" fill="#ee1111" stroke="none" stroke-width="1"/>
<circle cx="214.12" cy="656.08" r="2.3" fill="#ee1111" stroke="none" stroke-width="1"/>
<circle cx="214.94" cy="661.28" r="2.3" fill="#ee1111" stroke="none" stroke-width="1"/>
<circle cx="274.20" cy="584.20" r="3.0" fill="#000" stroke="none" stroke-width="1"/>
<text x="283.59999999999997" y="587.8000000000001" font-size="9.2" text-anchor="start" fill="#000">Train</text>
<circle cx="274.20" cy="596.60" r="3.0" fill="#ee1111" stroke="none" stroke-width="1"/>
<text x="283.59999999999997" y="600.2" font-size="9.2" text-anchor="start" fill="#000">Validation</text>
<text transform="translate(173.7 570.5) scale(0.86 1)" x="0" y="0" font-size="14.2" font-weight="bold" fill="#000">g</text>
<text transform="translate(349.6 570.8) scale(0.86 1)" x="0" y="0" font-size="14.2" font-weight="bold" fill="#000">h</text>
<rect x="379.40" y="566.90" width="132.50" height="106.60" rx="0" fill="none" stroke="#000" stroke-width="1.3"/>
<line x1="376.4" y1="667.0" x2="379.4" y2="667.0" stroke="#000" stroke-width="1"/>
<text x="375" y="670.8" font-size="11" text-anchor="end" fill="#000">0</text>
<line x1="376.4" y1="640.4" x2="379.4" y2="640.4" stroke="#000" stroke-width="1"/>
<text x="375" y="644.1999999999999" font-size="11" text-anchor="end" fill="#000">20</text>
<line x1="376.4" y1="613.8" x2="379.4" y2="613.8" stroke="#000" stroke-width="1"/>
<text x="375" y="617.5999999999999" font-size="11" text-anchor="end" fill="#000">40</text>
<line x1="376.4" y1="587.2" x2="379.4" y2="587.2" stroke="#000" stroke-width="1"/>
<text x="375" y="591.0" font-size="11" text-anchor="end" fill="#000">60</text>
<line x1="387.6" y1="673.5" x2="387.6" y2="676.5" stroke="#000" stroke-width="1"/>
<text x="387.6" y="686.3" font-size="11" text-anchor="middle" fill="#000">0</text>
<line x1="420.5" y1="673.5" x2="420.5" y2="676.5" stroke="#000" stroke-width="1"/>
<text x="420.5" y="686.3" font-size="11" text-anchor="middle" fill="#000">20</text>
<line x1="453.40000000000003" y1="673.5" x2="453.40000000000003" y2="676.5" stroke="#000" stroke-width="1"/>
<text x="453.40000000000003" y="686.3" font-size="11" text-anchor="middle" fill="#000">40</text>
<line x1="486.3" y1="673.5" x2="486.3" y2="676.5" stroke="#000" stroke-width="1"/>
<text x="486.3" y="686.3" font-size="11" text-anchor="middle" fill="#000">60</text>
<text x="443" y="698.3" font-size="9.5" text-anchor="middle" fill="#000">True</text>
<text x="356.8" y="619.5" font-size="9.6" text-anchor="middle" fill="#000" transform="rotate(-90 356.8 619.5)">Hardness Predict</text>
<line x1="387.6" y1="667.0" x2="511.7975" y2="566.585" stroke="#222" stroke-width="1.1" stroke-dasharray="1.1 2.3"/>
<circle cx="394.18" cy="663.01" r="2.45" fill="#000" stroke="none" stroke-width="1"/>
<circle cx="394.18" cy="661.68" r="2.45" fill="#000" stroke="none" stroke-width="1"/>
<circle cx="394.18" cy="660.35" r="2.45" fill="#000" stroke="none" stroke-width="1"/>
<circle cx="394.18" cy="659.02" r="2.45" fill="#000" stroke="none" stroke-width="1"/>
<circle cx="400.76" cy="660.35" r="2.45" fill="#000" stroke="none" stroke-width="1"/>
<circle cx="400.76" cy="656.36" r="2.45" fill="#000" stroke="none" stroke-width="1"/>
<circle cx="400.76" cy="655.03" r="2.45" fill="#000" stroke="none" stroke-width="1"/>
<circle cx="400.76" cy="653.70" r="2.45" fill="#000" stroke="none" stroke-width="1"/>
<circle cx="400.76" cy="652.37" r="2.45" fill="#000" stroke="none" stroke-width="1"/>
<circle cx="400.76" cy="651.04" r="2.45" fill="#000" stroke="none" stroke-width="1"/>
<circle cx="400.76" cy="649.71" r="2.45" fill="#000" stroke="none" stroke-width="1"/>
<circle cx="450.11" cy="615.13" r="2.45" fill="#000" stroke="none" stroke-width="1"/>
<circle cx="450.11" cy="612.47" r="2.45" fill="#000" stroke="none" stroke-width="1"/>
<circle cx="450.11" cy="609.81" r="2.45" fill="#000" stroke="none" stroke-width="1"/>
<circle cx="450.11" cy="608.48" r="2.45" fill="#000" stroke="none" stroke-width="1"/>
<circle cx="450.11" cy="607.15" r="2.45" fill="#000" stroke="none" stroke-width="1"/>
<circle cx="450.11" cy="605.82" r="2.45" fill="#000" stroke="none" stroke-width="1"/>
<circle cx="483.01" cy="597.84" r="2.45" fill="#000" stroke="none" stroke-width="1"/>
<circle cx="483.01" cy="593.85" r="2.45" fill="#000" stroke="none" stroke-width="1"/>
<circle cx="483.01" cy="591.19" r="2.45" fill="#000" stroke="none" stroke-width="1"/>
<circle cx="483.01" cy="589.86" r="2.45" fill="#000" stroke="none" stroke-width="1"/>
<circle cx="492.88" cy="584.54" r="2.45" fill="#000" stroke="none" stroke-width="1"/>
<circle cx="492.88" cy="583.21" r="2.45" fill="#000" stroke="none" stroke-width="1"/>
<circle cx="492.88" cy="581.88" r="2.45" fill="#000" stroke="none" stroke-width="1"/>
<circle cx="501.11" cy="579.22" r="2.45" fill="#000" stroke="none" stroke-width="1"/>
<circle cx="501.11" cy="577.89" r="2.45" fill="#000" stroke="none" stroke-width="1"/>
<circle cx="501.11" cy="576.56" r="2.45" fill="#000" stroke="none" stroke-width="1"/>
<circle cx="501.11" cy="575.23" r="2.45" fill="#000" stroke="none" stroke-width="1"/>
<text transform="translate(523 571.3) scale(0.86 1)" x="0" y="0" font-size="14.2" font-weight="bold" fill="#000">i</text>
<rect x="546.90" y="566.90" width="132.30" height="106.00" rx="0" fill="none" stroke="#000" stroke-width="1.3"/>
<line x1="543.9" y1="668.5" x2="546.9" y2="668.5" stroke="#000" stroke-width="1"/>
<text x="542.5" y="672.3" font-size="11" text-anchor="end" fill="#000">0</text>
<line x1="543.9" y1="648.2" x2="546.9" y2="648.2" stroke="#000" stroke-width="1"/>
<text x="542.5" y="652.0" font-size="11" text-anchor="end" fill="#000">2</text>
<line x1="543.9" y1="627.9" x2="546.9" y2="627.9" stroke="#000" stroke-width="1"/>
<text x="542.5" y="631.6999999999999" font-size="11" text-anchor="end" fill="#000">4</text>
<line x1="543.9" y1="607.6" x2="546.9" y2="607.6" stroke="#000" stroke-width="1"/>
<text x="542.5" y="611.4" font-size="11" text-anchor="end" fill="#000">6</text>
<line x1="543.9" y1="587.3" x2="546.9" y2="587.3" stroke="#000" stroke-width="1"/>
<text x="542.5" y="591.0999999999999" font-size="11" text-anchor="end" fill="#000">8</text>
<line x1="543.9" y1="567.0" x2="546.9" y2="567.0" stroke="#000" stroke-width="1"/>
<text x="542.5" y="570.8" font-size="11" text-anchor="end" fill="#000">10</text>
<line x1="553.6" y1="672.9" x2="553.6" y2="675.9" stroke="#000" stroke-width="1"/>
<text x="553.6" y="686" font-size="11" text-anchor="middle" fill="#000">0</text>
<line x1="578.5400000000001" y1="672.9" x2="578.5400000000001" y2="675.9" stroke="#000" stroke-width="1"/>
<text x="578.5400000000001" y="686" font-size="11" text-anchor="middle" fill="#000">2</text>
<line x1="603.48" y1="672.9" x2="603.48" y2="675.9" stroke="#000" stroke-width="1"/>
<text x="603.48" y="686" font-size="11" text-anchor="middle" fill="#000">4</text>
<line x1="628.4200000000001" y1="672.9" x2="628.4200000000001" y2="675.9" stroke="#000" stroke-width="1"/>
<text x="628.4200000000001" y="686" font-size="11" text-anchor="middle" fill="#000">6</text>
<line x1="653.36" y1="672.9" x2="653.36" y2="675.9" stroke="#000" stroke-width="1"/>
<text x="653.36" y="686" font-size="11" text-anchor="middle" fill="#000">8</text>
<line x1="678.3000000000001" y1="672.9" x2="678.3000000000001" y2="675.9" stroke="#000" stroke-width="1"/>
<text x="678.3000000000001" y="686" font-size="11" text-anchor="middle" fill="#000">10</text>
<text x="612" y="696.8" font-size="9.5" text-anchor="middle" fill="#000">True</text>
<text x="529.4" y="618.7" font-size="9.6" text-anchor="middle" fill="#000" transform="rotate(-90 529.4 618.7)">&#916; R Predict</text>
<line x1="557.341" y1="665.455" x2="674.559" y2="570.045" stroke="#222" stroke-width="1.1" stroke-dasharray="1.1 2.3"/>
<circle cx="561.08" cy="661.39" r="2.45" fill="#000" stroke="none" stroke-width="1"/>
<circle cx="564.82" cy="660.38" r="2.45" fill="#000" stroke="none" stroke-width="1"/>
<circle cx="576.05" cy="650.23" r="2.45" fill="#000" stroke="none" stroke-width="1"/>
<circle cx="577.29" cy="649.22" r="2.45" fill="#000" stroke="none" stroke-width="1"/>
<circle cx="578.54" cy="648.20" r="2.45" fill="#000" stroke="none" stroke-width="1"/>
<circle cx="579.79" cy="647.18" r="2.45" fill="#000" stroke="none" stroke-width="1"/>
<circle cx="584.77" cy="643.12" r="2.45" fill="#000" stroke="none" stroke-width="1"/>
<circle cx="586.02" cy="645.15" r="2.45" fill="#000" stroke="none" stroke-width="1"/>
<circle cx="591.01" cy="638.05" r="2.45" fill="#000" stroke="none" stroke-width="1"/>
<circle cx="596.00" cy="637.03" r="2.45" fill="#000" stroke="none" stroke-width="1"/>
<circle cx="596.00" cy="631.96" r="2.45" fill="#000" stroke="none" stroke-width="1"/>
<circle cx="599.74" cy="630.95" r="2.45" fill="#000" stroke="none" stroke-width="1"/>
<circle cx="605.97" cy="625.87" r="2.45" fill="#000" stroke="none" stroke-width="1"/>
<circle cx="607.22" cy="624.86" r="2.45" fill="#000" stroke="none" stroke-width="1"/>
<circle cx="608.47" cy="622.83" r="2.45" fill="#000" stroke="none" stroke-width="1"/>
<circle cx="609.72" cy="619.78" r="2.45" fill="#000" stroke="none" stroke-width="1"/>
<circle cx="609.72" cy="623.84" r="2.45" fill="#000" stroke="none" stroke-width="1"/>
<circle cx="610.96" cy="624.86" r="2.45" fill="#000" stroke="none" stroke-width="1"/>
<circle cx="617.20" cy="614.71" r="2.45" fill="#000" stroke="none" stroke-width="1"/>
<circle cx="618.44" cy="615.72" r="2.45" fill="#000" stroke="none" stroke-width="1"/>
<circle cx="619.69" cy="614.71" r="2.45" fill="#000" stroke="none" stroke-width="1"/>
<circle cx="620.94" cy="612.67" r="2.45" fill="#000" stroke="none" stroke-width="1"/>
<circle cx="625.93" cy="610.64" r="2.45" fill="#000" stroke="none" stroke-width="1"/>
<circle cx="628.42" cy="606.59" r="2.45" fill="#000" stroke="none" stroke-width="1"/>
<circle cx="629.67" cy="604.55" r="2.45" fill="#000" stroke="none" stroke-width="1"/>
<circle cx="632.16" cy="604.55" r="2.45" fill="#000" stroke="none" stroke-width="1"/>
<circle cx="634.65" cy="604.55" r="2.45" fill="#000" stroke="none" stroke-width="1"/>
<circle cx="640.89" cy="600.50" r="2.45" fill="#000" stroke="none" stroke-width="1"/>
<circle cx="668.32" cy="571.06" r="2.45" fill="#000" stroke="none" stroke-width="1"/>
</svg>
</body></html>
